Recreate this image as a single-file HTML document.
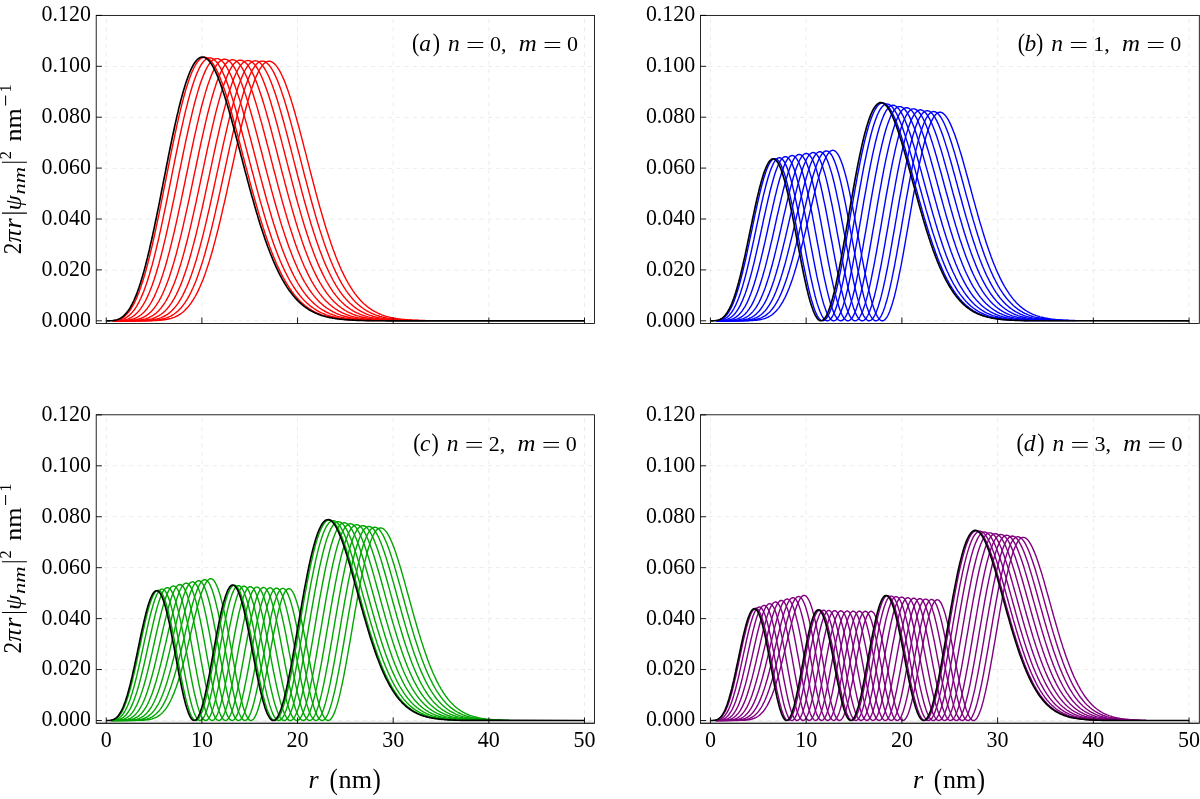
<!DOCTYPE html>
<html><head><meta charset="utf-8"><title>fig</title>
<style>html,body{margin:0;padding:0;background:#fff}svg{display:block;will-change:transform}text{font-family:"Liberation Serif",serif;fill:#000}.i{font-style:italic}</style></head>
<body>
<svg width="1200" height="799" viewBox="0 0 1200 799">
<rect width="1200" height="799" fill="#fff"/>
<g>
<path d="M106.25,19.00V323.45M201.90,19.00V323.45M297.55,19.00V323.45M393.20,19.00V323.45M488.85,19.00V323.45M584.50,19.00V323.45M104.20,270.10H594.50M104.20,219.20H594.50M104.20,168.30H594.50M104.20,117.40H594.50M104.20,66.50H594.50M104.20,320.80H594.50" fill="none" stroke="#e9e9e9" stroke-width="0.85" stroke-dasharray="4.17 4.17"/>
<g fill="none" stroke="#ff0000" stroke-width="1.4" stroke-linejoin="round">
<path d="M112.9,320.6 113.9,320.6 114.9,320.4 115.8,320.3 116.8,320.1 117.7,319.8 118.7,319.5 119.6,319.2 120.6,318.8 121.6,318.3 122.5,317.7 123.5,317.1 124.4,316.4 125.4,315.5 126.3,314.6 127.3,313.6 128.2,312.5 129.2,311.3 130.2,310.0 131.1,308.6 132.1,307.0 133.0,305.3 134.0,303.6 134.9,301.6 135.9,299.6 136.9,297.4 137.8,295.1 138.8,292.7 139.7,290.1 140.7,287.5 141.6,284.6 142.6,281.7 143.6,278.6 144.5,275.4 145.5,272.1 146.4,268.6 147.4,265.1 148.3,261.4 149.3,257.6 150.2,253.7 151.2,249.7 152.2,245.6 153.1,241.4 154.1,237.1 155.0,232.8 156.0,228.3 156.9,223.8 157.9,219.2 158.9,214.6 159.8,209.9 160.8,205.2 161.7,200.4 162.7,195.6 163.6,190.7 164.6,185.9 165.6,181.0 166.5,176.2 167.5,171.3 168.4,166.5 169.4,161.7 170.3,156.9 171.3,152.2 172.2,147.5 173.2,142.8 174.2,138.2 175.1,133.7 176.1,129.3 177.0,124.9 178.0,120.7 178.9,116.5 179.9,112.4 180.9,108.4 181.8,104.6 182.8,100.9 183.7,97.3 184.7,93.8 185.6,90.4 186.6,87.3 187.6,84.2 188.5,81.3 189.5,78.6 190.4,76.0 191.4,73.5 192.3,71.3 193.3,69.2 194.2,67.2 195.2,65.5 196.2,63.9 197.1,62.4 198.1,61.2 199.0,60.1 200.0,59.2 200.9,58.5 201.9,57.9 202.9,57.5 203.8,57.3 204.8,57.3 205.7,57.4 206.7,57.7 207.6,58.2 208.6,58.8 209.6,59.6 210.5,60.5 211.5,61.6 212.4,62.8 213.4,64.2 214.3,65.8 215.3,67.4 216.2,69.2 217.2,71.2 218.2,73.2 219.1,75.4 220.1,77.7 221.0,80.2 222.0,82.7 222.9,85.3 223.9,88.0 224.9,90.9 225.8,93.8 226.8,96.8 227.7,99.8 228.7,103.0 229.6,106.2 230.6,109.5 231.6,112.8 232.5,116.2 233.5,119.7 234.4,123.1 235.4,126.7 236.3,130.2 237.3,133.8 238.2,137.4 239.2,141.0 240.2,144.7 241.1,148.3 242.1,152.0 243.0,155.7 244.0,159.3 244.9,163.0 245.9,166.6 246.9,170.3 247.8,173.9 248.8,177.5 249.7,181.1 250.7,184.7 251.6,188.2 252.6,191.7 253.6,195.1 254.5,198.6 255.5,202.0 256.4,205.3 257.4,208.6 258.3,211.9 259.3,215.1 260.2,218.3 261.2,221.4 262.2,224.4 263.1,227.4 264.1,230.4 265.0,233.3 266.0,236.2 266.9,238.9 267.9,241.7 268.9,244.4 269.8,247.0 270.8,249.5 271.7,252.0 272.7,254.5 273.6,256.9 274.6,259.2 275.6,261.4 276.5,263.7 277.5,265.8 278.4,267.9 279.4,269.9 280.3,271.9 281.3,273.8 282.2,275.7 283.2,277.5 284.2,279.2 285.1,280.9 286.1,282.6 287.0,284.2 288.0,285.7 288.9,287.2 289.9,288.6 290.9,290.0 291.8,291.4 292.8,292.7 293.7,293.9 294.7,295.1 295.6,296.3 296.6,297.4 297.5,298.5 298.5,299.5 299.5,300.5 300.4,301.5 301.4,302.4 302.3,303.3 303.3,304.1 304.2,304.9 305.2,305.7 306.2,306.4 307.1,307.2 308.1,307.8 309.0,308.5 310.0,309.1 310.9,309.7 311.9,310.3 312.9,310.8 313.8,311.4 314.8,311.9 315.7,312.3 316.7,312.8 317.6,313.2 318.6,313.6 319.5,314.0 320.5,314.4 321.5,314.8 322.4,315.1 323.4,315.4 324.3,315.7 325.3,316.0 326.2,316.3 327.2,316.5 328.2,316.8 329.1,317.0 330.1,317.2 331.0,317.4 332.0,317.6 332.9,317.8 333.9,318.0 334.9,318.2 335.8,318.3 336.8,318.5 337.7,318.6 338.7,318.8 339.6,318.9 340.6,319.0 341.5,319.1 342.5,319.2 343.5,319.3 344.4,319.4 345.4,319.5 346.3,319.6 347.3,319.7 348.2,319.7 349.2,319.8 350.2,319.9 351.1,319.9 352.1,320.0 353.0,320.1 354.0,320.1 354.9,320.2 355.9,320.2 356.9,320.2 357.8,320.3 358.8,320.3 359.7,320.3 360.7,320.4 361.6,320.4 362.6,320.4 363.5,320.5 364.5,320.5 365.5,320.5 366.4,320.5 367.4,320.5 368.3,320.6 369.3,320.6"/>
<path d="M112.9,320.7 113.9,320.7 114.9,320.7 115.8,320.6 116.8,320.5 117.7,320.4 118.7,320.2 119.6,320.0 120.6,319.8 121.6,319.6 122.5,319.2 123.5,318.9 124.4,318.5 125.4,318.0 126.3,317.4 127.3,316.8 128.2,316.1 129.2,315.4 130.2,314.5 131.1,313.6 132.1,312.5 133.0,311.4 134.0,310.2 134.9,308.8 135.9,307.4 136.9,305.9 137.8,304.2 138.8,302.4 139.7,300.5 140.7,298.5 141.6,296.4 142.6,294.1 143.6,291.8 144.5,289.3 145.5,286.6 146.4,283.9 147.4,281.0 148.3,278.0 149.3,274.9 150.2,271.7 151.2,268.3 152.2,264.9 153.1,261.3 154.1,257.6 155.0,253.8 156.0,249.9 156.9,245.9 157.9,241.9 158.9,237.7 159.8,233.4 160.8,229.1 161.7,224.7 162.7,220.2 163.6,215.7 164.6,211.1 165.6,206.4 166.5,201.8 167.5,197.0 168.4,192.3 169.4,187.5 170.3,182.8 171.3,178.0 172.2,173.2 173.2,168.4 174.2,163.7 175.1,158.9 176.1,154.2 177.0,149.6 178.0,145.0 178.9,140.4 179.9,135.9 180.9,131.5 181.8,127.2 182.8,122.9 183.7,118.7 184.7,114.6 185.6,110.7 186.6,106.8 187.6,103.0 188.5,99.4 189.5,95.9 190.4,92.5 191.4,89.3 192.3,86.2 193.3,83.2 194.2,80.4 195.2,77.8 196.2,75.3 197.1,72.9 198.1,70.8 199.0,68.7 200.0,66.9 200.9,65.2 201.9,63.7 202.9,62.4 203.8,61.2 204.8,60.3 205.7,59.4 206.7,58.8 207.6,58.3 208.6,58.0 209.6,57.9 210.5,57.9 211.5,58.2 212.4,58.5 213.4,59.1 214.3,59.8 215.3,60.6 216.2,61.6 217.2,62.8 218.2,64.1 219.1,65.6 220.1,67.2 221.0,68.9 222.0,70.8 222.9,72.8 223.9,74.9 224.9,77.2 225.8,79.5 226.8,82.0 227.7,84.6 228.7,87.3 229.6,90.0 230.6,92.9 231.6,95.9 232.5,98.9 233.5,102.0 234.4,105.2 235.4,108.5 236.3,111.8 237.3,115.2 238.2,118.6 239.2,122.0 240.2,125.5 241.1,129.1 242.1,132.7 243.0,136.3 244.0,139.9 244.9,143.5 245.9,147.2 246.9,150.9 247.8,154.5 248.8,158.2 249.7,161.9 250.7,165.5 251.6,169.2 252.6,172.8 253.6,176.4 254.5,180.0 255.5,183.6 256.4,187.2 257.4,190.7 258.3,194.2 259.3,197.6 260.2,201.0 261.2,204.4 262.2,207.7 263.1,211.0 264.1,214.2 265.0,217.4 266.0,220.6 266.9,223.7 267.9,226.7 268.9,229.7 269.8,232.6 270.8,235.5 271.7,238.3 272.7,241.1 273.6,243.8 274.6,246.4 275.6,249.0 276.5,251.5 277.5,254.0 278.4,256.4 279.4,258.7 280.3,261.0 281.3,263.2 282.2,265.4 283.2,267.5 284.2,269.6 285.1,271.6 286.1,273.5 287.0,275.4 288.0,277.2 288.9,279.0 289.9,280.7 290.9,282.3 291.8,283.9 292.8,285.5 293.7,287.0 294.7,288.5 295.6,289.9 296.6,291.2 297.5,292.5 298.5,293.8 299.5,295.0 300.4,296.2 301.4,297.3 302.3,298.4 303.3,299.4 304.2,300.4 305.2,301.4 306.2,302.3 307.1,303.2 308.1,304.1 309.0,304.9 310.0,305.7 310.9,306.4 311.9,307.1 312.9,307.8 313.8,308.5 314.8,309.1 315.7,309.7 316.7,310.3 317.6,310.8 318.6,311.4 319.5,311.9 320.5,312.3 321.5,312.8 322.4,313.2 323.4,313.6 324.3,314.0 325.3,314.4 326.2,314.8 327.2,315.1 328.2,315.4 329.1,315.7 330.1,316.0 331.0,316.3 332.0,316.6 332.9,316.8 333.9,317.0 334.9,317.3 335.8,317.5 336.8,317.7 337.7,317.9 338.7,318.0 339.6,318.2 340.6,318.4 341.5,318.5 342.5,318.7 343.5,318.8 344.4,318.9 345.4,319.0 346.3,319.1 347.3,319.2 348.2,319.3 349.2,319.4 350.2,319.5 351.1,319.6 352.1,319.7 353.0,319.8 354.0,319.8 354.9,319.9 355.9,320.0 356.9,320.0 357.8,320.1 358.8,320.1 359.7,320.2 360.7,320.2 361.6,320.2 362.6,320.3 363.5,320.3 364.5,320.4 365.5,320.4 366.4,320.4 367.4,320.4 368.3,320.5 369.3,320.5 370.2,320.5 371.2,320.5 372.2,320.6 373.1,320.6 374.1,320.6"/>
<path d="M112.9,320.8 114.9,320.8 115.8,320.7 116.8,320.7 117.7,320.7 118.7,320.6 119.6,320.5 120.6,320.5 121.6,320.4 122.5,320.2 123.5,320.1 124.4,319.9 125.4,319.7 126.3,319.4 127.3,319.1 128.2,318.8 129.2,318.4 130.2,318.0 131.1,317.5 132.1,316.9 133.0,316.3 134.0,315.6 134.9,314.9 135.9,314.0 136.9,313.1 137.8,312.1 138.8,311.0 139.7,309.9 140.7,308.6 141.6,307.2 142.6,305.8 143.6,304.2 144.5,302.5 145.5,300.8 146.4,298.9 147.4,296.9 148.3,294.8 149.3,292.5 150.2,290.2 151.2,287.7 152.2,285.2 153.1,282.5 154.1,279.7 155.0,276.7 156.0,273.7 156.9,270.5 157.9,267.3 158.9,263.9 159.8,260.4 160.8,256.8 161.7,253.1 162.7,249.3 163.6,245.4 164.6,241.4 165.6,237.4 166.5,233.2 167.5,229.0 168.4,224.7 169.4,220.3 170.3,215.9 171.3,211.4 172.2,206.8 173.2,202.2 174.2,197.6 175.1,193.0 176.1,188.3 177.0,183.6 178.0,178.9 178.9,174.2 179.9,169.5 180.9,164.8 181.8,160.2 182.8,155.5 183.7,150.9 184.7,146.4 185.6,141.9 186.6,137.4 187.6,133.0 188.5,128.7 189.5,124.5 190.4,120.3 191.4,116.3 192.3,112.3 193.3,108.4 194.2,104.7 195.2,101.0 196.2,97.5 197.1,94.1 198.1,90.9 199.0,87.8 200.0,84.8 200.9,82.0 201.9,79.3 202.9,76.7 203.8,74.4 204.8,72.1 205.7,70.1 206.7,68.2 207.6,66.5 208.6,64.9 209.6,63.5 210.5,62.3 211.5,61.3 212.4,60.4 213.4,59.7 214.3,59.2 215.3,58.8 216.2,58.6 217.2,58.6 218.2,58.7 219.1,59.1 220.1,59.5 221.0,60.2 222.0,61.0 222.9,61.9 223.9,63.0 224.9,64.3 225.8,65.7 226.8,67.3 227.7,69.0 228.7,70.8 229.6,72.7 230.6,74.8 231.6,77.0 232.5,79.3 233.5,81.8 234.4,84.3 235.4,87.0 236.3,89.7 237.3,92.6 238.2,95.5 239.2,98.5 240.2,101.6 241.1,104.8 242.1,108.0 243.0,111.3 244.0,114.7 244.9,118.1 245.9,121.6 246.9,125.1 247.8,128.6 248.8,132.2 249.7,135.8 250.7,139.4 251.6,143.0 252.6,146.7 253.6,150.4 254.5,154.1 255.5,157.7 256.4,161.4 257.4,165.1 258.3,168.8 259.3,172.4 260.2,176.0 261.2,179.6 262.2,183.2 263.1,186.8 264.1,190.3 265.0,193.8 266.0,197.3 266.9,200.7 267.9,204.1 268.9,207.5 269.8,210.8 270.8,214.0 271.7,217.2 272.7,220.4 273.6,223.5 274.6,226.5 275.6,229.5 276.5,232.5 277.5,235.4 278.4,238.2 279.4,241.0 280.3,243.7 281.3,246.3 282.2,248.9 283.2,251.5 284.2,254.0 285.1,256.4 286.1,258.7 287.0,261.0 288.0,263.3 288.9,265.5 289.9,267.6 290.9,269.6 291.8,271.6 292.8,273.6 293.7,275.5 294.7,277.3 295.6,279.1 296.6,280.8 297.5,282.5 298.5,284.1 299.5,285.6 300.4,287.1 301.4,288.6 302.3,290.0 303.3,291.4 304.2,292.7 305.2,293.9 306.2,295.2 307.1,296.3 308.1,297.5 309.0,298.5 310.0,299.6 310.9,300.6 311.9,301.5 312.9,302.5 313.8,303.4 314.8,304.2 315.7,305.0 316.7,305.8 317.6,306.6 318.6,307.3 319.5,308.0 320.5,308.6 321.5,309.3 322.4,309.9 323.4,310.4 324.3,311.0 325.3,311.5 326.2,312.0 327.2,312.5 328.2,312.9 329.1,313.3 330.1,313.8 331.0,314.1 332.0,314.5 332.9,314.9 333.9,315.2 334.9,315.5 335.8,315.8 336.8,316.1 337.7,316.4 338.7,316.6 339.6,316.9 340.6,317.1 341.5,317.3 342.5,317.5 343.5,317.7 344.4,317.9 345.4,318.1 346.3,318.3 347.3,318.4 348.2,318.6 349.2,318.7 350.2,318.8 351.1,319.0 352.1,319.1 353.0,319.2 354.0,319.3 354.9,319.4 355.9,319.5 356.9,319.6 357.8,319.6 358.8,319.7 359.7,319.8 360.7,319.9 361.6,319.9 362.6,320.0 363.5,320.0 364.5,320.1 365.5,320.1 366.4,320.2 367.4,320.2 368.3,320.3 369.3,320.3 370.2,320.3 371.2,320.4 372.2,320.4 373.1,320.4 374.1,320.5 375.0,320.5 376.0,320.5 376.9,320.5 377.9,320.5 378.9,320.6 379.8,320.6"/>
<path d="M112.9,320.8 118.7,320.8 119.6,320.7 120.6,320.7 121.6,320.7 122.5,320.6 123.5,320.6 124.4,320.5 125.4,320.4 126.3,320.3 127.3,320.2 128.2,320.1 129.2,319.9 130.2,319.7 131.1,319.5 132.1,319.3 133.0,319.0 134.0,318.7 134.9,318.3 135.9,317.9 136.9,317.4 137.8,316.9 138.8,316.3 139.7,315.7 140.7,315.0 141.6,314.3 142.6,313.5 143.6,312.6 144.5,311.6 145.5,310.5 146.4,309.4 147.4,308.2 148.3,306.9 149.3,305.5 150.2,304.0 151.2,302.4 152.2,300.7 153.1,298.9 154.1,297.0 155.0,294.9 156.0,292.8 156.9,290.6 157.9,288.2 158.9,285.8 159.8,283.2 160.8,280.5 161.7,277.8 162.7,274.9 163.6,271.9 164.6,268.7 165.6,265.5 166.5,262.2 167.5,258.7 168.4,255.2 169.4,251.6 170.3,247.8 171.3,244.0 172.2,240.1 173.2,236.1 174.2,232.0 175.1,227.8 176.1,223.6 177.0,219.3 178.0,215.0 178.9,210.6 179.9,206.1 180.9,201.6 181.8,197.1 182.8,192.5 183.7,187.9 184.7,183.3 185.6,178.7 186.6,174.0 187.6,169.4 188.5,164.8 189.5,160.2 190.4,155.6 191.4,151.1 192.3,146.6 193.3,142.1 194.2,137.7 195.2,133.4 196.2,129.1 197.1,124.9 198.1,120.8 199.0,116.8 200.0,112.9 200.9,109.0 201.9,105.3 202.9,101.7 203.8,98.2 204.8,94.9 205.7,91.6 206.7,88.5 207.6,85.5 208.6,82.7 209.6,80.0 210.5,77.5 211.5,75.1 212.4,72.9 213.4,70.8 214.3,69.0 215.3,67.2 216.2,65.7 217.2,64.3 218.2,63.0 219.1,62.0 220.1,61.1 221.0,60.4 222.0,59.8 222.9,59.5 223.9,59.3 224.9,59.2 225.8,59.3 226.8,59.6 227.7,60.1 228.7,60.7 229.6,61.5 230.6,62.5 231.6,63.5 232.5,64.8 233.5,66.2 234.4,67.7 235.4,69.4 236.3,71.2 237.3,73.2 238.2,75.2 239.2,77.4 240.2,79.7 241.1,82.2 242.1,84.7 243.0,87.4 244.0,90.1 244.9,92.9 245.9,95.9 246.9,98.9 247.8,102.0 248.8,105.1 249.7,108.4 250.7,111.7 251.6,115.0 252.6,118.5 253.6,121.9 254.5,125.4 255.5,129.0 256.4,132.6 257.4,136.2 258.3,139.8 259.3,143.5 260.2,147.1 261.2,150.8 262.2,154.5 263.1,158.2 264.1,161.9 265.0,165.5 266.0,169.2 266.9,172.9 267.9,176.5 268.9,180.1 269.8,183.7 270.8,187.3 271.7,190.9 272.7,194.4 273.6,197.8 274.6,201.3 275.6,204.7 276.5,208.0 277.5,211.3 278.4,214.6 279.4,217.8 280.3,221.0 281.3,224.1 282.2,227.1 283.2,230.1 284.2,233.1 285.1,236.0 286.1,238.8 287.0,241.6 288.0,244.3 288.9,247.0 289.9,249.6 290.9,252.1 291.8,254.6 292.8,257.0 293.7,259.3 294.7,261.6 295.6,263.9 296.6,266.0 297.5,268.2 298.5,270.2 299.5,272.2 300.4,274.2 301.4,276.0 302.3,277.9 303.3,279.6 304.2,281.3 305.2,283.0 306.2,284.6 307.1,286.2 308.1,287.7 309.0,289.1 310.0,290.5 310.9,291.8 311.9,293.1 312.9,294.4 313.8,295.6 314.8,296.8 315.7,297.9 316.7,299.0 317.6,300.0 318.6,301.0 319.5,301.9 320.5,302.9 321.5,303.7 322.4,304.6 323.4,305.4 324.3,306.2 325.3,306.9 326.2,307.6 327.2,308.3 328.2,308.9 329.1,309.5 330.1,310.1 331.0,310.7 332.0,311.2 332.9,311.8 333.9,312.2 334.9,312.7 335.8,313.2 336.8,313.6 337.7,314.0 338.7,314.4 339.6,314.7 340.6,315.1 341.5,315.4 342.5,315.7 343.5,316.0 344.4,316.3 345.4,316.5 346.3,316.8 347.3,317.0 348.2,317.3 349.2,317.5 350.2,317.7 351.1,317.9 352.1,318.0 353.0,318.2 354.0,318.4 354.9,318.5 355.9,318.7 356.9,318.8 357.8,318.9 358.8,319.0 359.7,319.2 360.7,319.3 361.6,319.4 362.6,319.5 363.5,319.5 364.5,319.6 365.5,319.7 366.4,319.8 367.4,319.8 368.3,319.9 369.3,320.0 370.2,320.0 371.2,320.1 372.2,320.1 373.1,320.2 374.1,320.2 375.0,320.3 376.0,320.3 376.9,320.3 377.9,320.4 378.9,320.4 379.8,320.4 380.8,320.5 381.7,320.5 382.7,320.5 383.6,320.5 384.6,320.5 385.5,320.6 386.5,320.6"/>
<path d="M112.9,320.8 122.5,320.8 123.5,320.7 124.4,320.7 125.4,320.7 126.3,320.7 127.3,320.6 128.2,320.6 129.2,320.5 130.2,320.4 131.1,320.4 132.1,320.3 133.0,320.2 134.0,320.0 134.9,319.9 135.9,319.7 136.9,319.5 137.8,319.3 138.8,319.0 139.7,318.7 140.7,318.4 141.6,318.0 142.6,317.6 143.6,317.1 144.5,316.6 145.5,316.1 146.4,315.4 147.4,314.8 148.3,314.1 149.3,313.3 150.2,312.4 151.2,311.5 152.2,310.5 153.1,309.4 154.1,308.2 155.0,307.0 156.0,305.6 156.9,304.2 157.9,302.7 158.9,301.1 159.8,299.4 160.8,297.6 161.7,295.7 162.7,293.7 163.6,291.5 164.6,289.3 165.6,287.0 166.5,284.6 167.5,282.0 168.4,279.4 169.4,276.7 170.3,273.8 171.3,270.8 172.2,267.8 173.2,264.6 174.2,261.3 175.1,257.9 176.1,254.5 177.0,250.9 178.0,247.2 178.9,243.5 179.9,239.6 180.9,235.7 181.8,231.7 182.8,227.6 183.7,223.4 184.7,219.2 185.6,214.9 186.6,210.6 187.6,206.2 188.5,201.8 189.5,197.3 190.4,192.8 191.4,188.3 192.3,183.8 193.3,179.2 194.2,174.6 195.2,170.1 196.2,165.5 197.1,161.0 198.1,156.5 199.0,152.0 200.0,147.5 200.9,143.1 201.9,138.7 202.9,134.4 203.8,130.2 204.8,126.0 205.7,121.9 206.7,117.9 207.6,114.0 208.6,110.2 209.6,106.5 210.5,102.9 211.5,99.4 212.4,96.0 213.4,92.8 214.3,89.6 215.3,86.7 216.2,83.8 217.2,81.1 218.2,78.6 219.1,76.2 220.1,73.9 221.0,71.8 222.0,69.9 222.9,68.1 223.9,66.5 224.9,65.1 225.8,63.8 226.8,62.7 227.7,61.8 228.7,61.1 229.6,60.5 230.6,60.1 231.6,59.8 232.5,59.7 233.5,59.8 234.4,60.1 235.4,60.5 236.3,61.1 237.3,61.8 238.2,62.7 239.2,63.8 240.2,65.0 241.1,66.3 242.1,67.8 243.0,69.5 244.0,71.3 244.9,73.2 245.9,75.2 246.9,77.4 247.8,79.7 248.8,82.1 249.7,84.6 250.7,87.2 251.6,89.9 252.6,92.7 253.6,95.7 254.5,98.7 255.5,101.7 256.4,104.9 257.4,108.1 258.3,111.4 259.3,114.8 260.2,118.2 261.2,121.6 262.2,125.1 263.1,128.7 264.1,132.3 265.0,135.9 266.0,139.5 266.9,143.2 267.9,146.9 268.9,150.5 269.8,154.2 270.8,157.9 271.7,161.6 272.7,165.3 273.6,169.0 274.6,172.7 275.6,176.3 276.5,180.0 277.5,183.6 278.4,187.2 279.4,190.7 280.3,194.2 281.3,197.7 282.2,201.2 283.2,204.6 284.2,208.0 285.1,211.3 286.1,214.5 287.0,217.8 288.0,221.0 288.9,224.1 289.9,227.1 290.9,230.2 291.8,233.1 292.8,236.0 293.7,238.9 294.7,241.7 295.6,244.4 296.6,247.1 297.5,249.7 298.5,252.2 299.5,254.7 300.4,257.1 301.4,259.5 302.3,261.8 303.3,264.0 304.2,266.2 305.2,268.3 306.2,270.4 307.1,272.4 308.1,274.4 309.0,276.2 310.0,278.1 310.9,279.8 311.9,281.6 312.9,283.2 313.8,284.8 314.8,286.4 315.7,287.9 316.7,289.3 317.6,290.7 318.6,292.1 319.5,293.4 320.5,294.6 321.5,295.8 322.4,297.0 323.4,298.1 324.3,299.2 325.3,300.2 326.2,301.2 327.2,302.1 328.2,303.1 329.1,303.9 330.1,304.8 331.0,305.6 332.0,306.3 332.9,307.1 333.9,307.8 334.9,308.5 335.8,309.1 336.8,309.7 337.7,310.3 338.7,310.9 339.6,311.4 340.6,311.9 341.5,312.4 342.5,312.9 343.5,313.3 344.4,313.7 345.4,314.1 346.3,314.5 347.3,314.8 348.2,315.2 349.2,315.5 350.2,315.8 351.1,316.1 352.1,316.4 353.0,316.6 354.0,316.9 354.9,317.1 355.9,317.3 356.9,317.6 357.8,317.8 358.8,317.9 359.7,318.1 360.7,318.3 361.6,318.4 362.6,318.6 363.5,318.7 364.5,318.9 365.5,319.0 366.4,319.1 367.4,319.2 368.3,319.3 369.3,319.4 370.2,319.5 371.2,319.6 372.2,319.7 373.1,319.7 374.1,319.8 375.0,319.9 376.0,319.9 376.9,320.0 377.9,320.1 378.9,320.1 379.8,320.2 380.8,320.2 381.7,320.2 382.7,320.3 383.6,320.3 384.6,320.4 385.5,320.4 386.5,320.4 387.5,320.4 388.4,320.5 389.4,320.5 390.3,320.5 391.3,320.5 392.2,320.6 393.2,320.6 394.2,320.6"/>
<path d="M112.9,320.8 127.3,320.8 128.2,320.7 129.2,320.7 130.2,320.7 131.1,320.7 132.1,320.6 133.0,320.6 134.0,320.5 134.9,320.5 135.9,320.4 136.9,320.3 137.8,320.2 138.8,320.1 139.7,320.0 140.7,319.9 141.6,319.7 142.6,319.5 143.6,319.3 144.5,319.1 145.5,318.8 146.4,318.5 147.4,318.2 148.3,317.8 149.3,317.4 150.2,316.9 151.2,316.4 152.2,315.9 153.1,315.3 154.1,314.6 155.0,313.9 156.0,313.2 156.9,312.3 157.9,311.4 158.9,310.5 159.8,309.4 160.8,308.3 161.7,307.1 162.7,305.8 163.6,304.5 164.6,303.1 165.6,301.5 166.5,299.9 167.5,298.2 168.4,296.4 169.4,294.5 170.3,292.5 171.3,290.4 172.2,288.1 173.2,285.8 174.2,283.4 175.1,280.9 176.1,278.3 177.0,275.6 178.0,272.7 178.9,269.8 179.9,266.8 180.9,263.6 181.8,260.4 182.8,257.0 183.7,253.6 184.7,250.1 185.6,246.5 186.6,242.8 187.6,239.0 188.5,235.1 189.5,231.1 190.4,227.1 191.4,223.0 192.3,218.9 193.3,214.6 194.2,210.4 195.2,206.0 196.2,201.7 197.1,197.2 198.1,192.8 199.0,188.3 200.0,183.8 200.9,179.3 201.9,174.8 202.9,170.3 203.8,165.8 204.8,161.3 205.7,156.8 206.7,152.4 207.6,148.0 208.6,143.6 209.6,139.3 210.5,135.0 211.5,130.8 212.4,126.7 213.4,122.6 214.3,118.6 215.3,114.7 216.2,110.9 217.2,107.2 218.2,103.6 219.1,100.1 220.1,96.8 221.0,93.5 222.0,90.4 222.9,87.4 223.9,84.6 224.9,81.9 225.8,79.3 226.8,76.9 227.7,74.6 228.7,72.5 229.6,70.6 230.6,68.8 231.6,67.2 232.5,65.7 233.5,64.4 234.4,63.3 235.4,62.4 236.3,61.6 237.3,61.0 238.2,60.5 239.2,60.3 240.2,60.2 241.1,60.2 242.1,60.5 243.0,60.9 244.0,61.4 244.9,62.1 245.9,63.0 246.9,64.0 247.8,65.2 248.8,66.5 249.7,68.0 250.7,69.6 251.6,71.4 252.6,73.3 253.6,75.3 254.5,77.5 255.5,79.7 256.4,82.1 257.4,84.6 258.3,87.3 259.3,90.0 260.2,92.8 261.2,95.7 262.2,98.7 263.1,101.7 264.1,104.9 265.0,108.1 266.0,111.4 266.9,114.8 267.9,118.2 268.9,121.6 269.8,125.1 270.8,128.7 271.7,132.3 272.7,135.9 273.6,139.5 274.6,143.2 275.6,146.9 276.5,150.6 277.5,154.3 278.4,158.0 279.4,161.7 280.3,165.4 281.3,169.1 282.2,172.8 283.2,176.4 284.2,180.1 285.1,183.7 286.1,187.3 287.0,190.8 288.0,194.4 288.9,197.9 289.9,201.3 290.9,204.8 291.8,208.1 292.8,211.5 293.7,214.7 294.7,218.0 295.6,221.2 296.6,224.3 297.5,227.4 298.5,230.4 299.5,233.4 300.4,236.3 301.4,239.1 302.3,241.9 303.3,244.7 304.2,247.3 305.2,250.0 306.2,252.5 307.1,255.0 308.1,257.4 309.0,259.8 310.0,262.1 310.9,264.4 311.9,266.5 312.9,268.7 313.8,270.7 314.8,272.7 315.7,274.7 316.7,276.6 317.6,278.4 318.6,280.2 319.5,281.9 320.5,283.5 321.5,285.1 322.4,286.7 323.4,288.2 324.3,289.6 325.3,291.0 326.2,292.4 327.2,293.7 328.2,294.9 329.1,296.1 330.1,297.3 331.0,298.4 332.0,299.4 332.9,300.5 333.9,301.5 334.9,302.4 335.8,303.3 336.8,304.2 337.7,305.0 338.7,305.8 339.6,306.6 340.6,307.3 341.5,308.0 342.5,308.7 343.5,309.3 344.4,309.9 345.4,310.5 346.3,311.0 347.3,311.6 348.2,312.1 349.2,312.6 350.2,313.0 351.1,313.4 352.1,313.9 353.0,314.3 354.0,314.6 354.9,315.0 355.9,315.3 356.9,315.6 357.8,315.9 358.8,316.2 359.7,316.5 360.7,316.8 361.6,317.0 362.6,317.2 363.5,317.4 364.5,317.6 365.5,317.8 366.4,318.0 367.4,318.2 368.3,318.4 369.3,318.5 370.2,318.7 371.2,318.8 372.2,318.9 373.1,319.0 374.1,319.2 375.0,319.3 376.0,319.4 376.9,319.5 377.9,319.6 378.9,319.6 379.8,319.7 380.8,319.8 381.7,319.9 382.7,319.9 383.6,320.0 384.6,320.0 385.5,320.1 386.5,320.1 387.5,320.2 388.4,320.2 389.4,320.3 390.3,320.3 391.3,320.3 392.2,320.4 393.2,320.4 394.2,320.4 395.1,320.5 396.1,320.5 397.0,320.5 398.0,320.5 398.9,320.6 399.9,320.6 400.9,320.6"/>
<path d="M112.9,320.8 132.1,320.8 133.0,320.7 134.0,320.7 134.9,320.7 135.9,320.7 136.9,320.6 137.8,320.6 138.8,320.6 139.7,320.5 140.7,320.5 141.6,320.4 142.6,320.3 143.6,320.2 144.5,320.1 145.5,320.0 146.4,319.9 147.4,319.7 148.3,319.5 149.3,319.3 150.2,319.1 151.2,318.9 152.2,318.6 153.1,318.3 154.1,318.0 155.0,317.6 156.0,317.2 156.9,316.7 157.9,316.2 158.9,315.7 159.8,315.1 160.8,314.5 161.7,313.8 162.7,313.0 163.6,312.2 164.6,311.4 165.6,310.4 166.5,309.4 167.5,308.4 168.4,307.2 169.4,306.0 170.3,304.7 171.3,303.3 172.2,301.8 173.2,300.2 174.2,298.6 175.1,296.9 176.1,295.0 177.0,293.1 178.0,291.1 178.9,288.9 179.9,286.7 180.9,284.4 181.8,282.0 182.8,279.5 183.7,276.8 184.7,274.1 185.6,271.3 186.6,268.4 187.6,265.3 188.5,262.2 189.5,259.0 190.4,255.7 191.4,252.2 192.3,248.7 193.3,245.1 194.2,241.5 195.2,237.7 196.2,233.8 197.1,229.9 198.1,225.9 199.0,221.9 200.0,217.7 200.9,213.6 201.9,209.3 202.9,205.0 203.8,200.7 204.8,196.3 205.7,191.9 206.7,187.5 207.6,183.0 208.6,178.6 209.6,174.1 210.5,169.6 211.5,165.2 212.4,160.7 213.4,156.3 214.3,151.9 215.3,147.5 216.2,143.2 217.2,138.9 218.2,134.7 219.1,130.5 220.1,126.4 221.0,122.4 222.0,118.4 222.9,114.5 223.9,110.8 224.9,107.1 225.8,103.5 226.8,100.1 227.7,96.7 228.7,93.5 229.6,90.4 230.6,87.5 231.6,84.6 232.5,82.0 233.5,79.4 234.4,77.0 235.4,74.8 236.3,72.7 237.3,70.8 238.2,69.0 239.2,67.4 240.2,66.0 241.1,64.7 242.1,63.6 243.0,62.7 244.0,61.9 244.9,61.3 245.9,60.9 246.9,60.6 247.8,60.5 248.8,60.6 249.7,60.8 250.7,61.2 251.6,61.8 252.6,62.5 253.6,63.4 254.5,64.5 255.5,65.6 256.4,67.0 257.4,68.5 258.3,70.1 259.3,71.9 260.2,73.8 261.2,75.8 262.2,78.0 263.1,80.3 264.1,82.7 265.0,85.2 266.0,87.8 266.9,90.5 267.9,93.3 268.9,96.3 269.8,99.3 270.8,102.3 271.7,105.5 272.7,108.7 273.6,112.0 274.6,115.4 275.6,118.8 276.5,122.3 277.5,125.8 278.4,129.4 279.4,133.0 280.3,136.6 281.3,140.2 282.2,143.9 283.2,147.6 284.2,151.3 285.1,155.0 286.1,158.7 287.0,162.4 288.0,166.1 288.9,169.8 289.9,173.5 290.9,177.2 291.8,180.8 292.8,184.5 293.7,188.1 294.7,191.6 295.6,195.2 296.6,198.7 297.5,202.1 298.5,205.6 299.5,208.9 300.4,212.3 301.4,215.6 302.3,218.8 303.3,222.0 304.2,225.1 305.2,228.2 306.2,231.2 307.1,234.2 308.1,237.1 309.0,239.9 310.0,242.7 310.9,245.5 311.9,248.1 312.9,250.7 313.8,253.3 314.8,255.8 315.7,258.2 316.7,260.5 317.6,262.8 318.6,265.1 319.5,267.2 320.5,269.4 321.5,271.4 322.4,273.4 323.4,275.3 324.3,277.2 325.3,279.0 326.2,280.8 327.2,282.5 328.2,284.1 329.1,285.7 330.1,287.3 331.0,288.7 332.0,290.2 332.9,291.6 333.9,292.9 334.9,294.2 335.8,295.4 336.8,296.6 337.7,297.7 338.7,298.8 339.6,299.9 340.6,300.9 341.5,301.9 342.5,302.8 343.5,303.7 344.4,304.6 345.4,305.4 346.3,306.2 347.3,306.9 348.2,307.6 349.2,308.3 350.2,309.0 351.1,309.6 352.1,310.2 353.0,310.8 354.0,311.3 354.9,311.8 355.9,312.3 356.9,312.8 357.8,313.2 358.8,313.7 359.7,314.1 360.7,314.5 361.6,314.8 362.6,315.2 363.5,315.5 364.5,315.8 365.5,316.1 366.4,316.4 367.4,316.6 368.3,316.9 369.3,317.1 370.2,317.4 371.2,317.6 372.2,317.8 373.1,318.0 374.1,318.1 375.0,318.3 376.0,318.5 376.9,318.6 377.9,318.7 378.9,318.9 379.8,319.0 380.8,319.1 381.7,319.2 382.7,319.3 383.6,319.4 384.6,319.5 385.5,319.6 386.5,319.7 387.5,319.8 388.4,319.8 389.4,319.9 390.3,320.0 391.3,320.0 392.2,320.1 393.2,320.1 394.2,320.2 395.1,320.2 396.1,320.3 397.0,320.3 398.0,320.3 398.9,320.4 399.9,320.4 400.9,320.4 401.8,320.5 402.8,320.5 403.7,320.5 404.7,320.5 405.6,320.5 406.6,320.6 407.5,320.6"/>
<path d="M112.9,320.8 136.9,320.8 137.8,320.7 138.8,320.7 139.7,320.7 140.7,320.7 141.6,320.7 142.6,320.6 143.6,320.6 144.5,320.5 145.5,320.5 146.4,320.4 147.4,320.4 148.3,320.3 149.3,320.2 150.2,320.1 151.2,320.0 152.2,319.9 153.1,319.7 154.1,319.6 155.0,319.4 156.0,319.2 156.9,319.0 157.9,318.7 158.9,318.4 159.8,318.1 160.8,317.8 161.7,317.4 162.7,317.0 163.6,316.5 164.6,316.0 165.6,315.5 166.5,314.9 167.5,314.3 168.4,313.6 169.4,312.9 170.3,312.1 171.3,311.2 172.2,310.3 173.2,309.3 174.2,308.3 175.1,307.1 176.1,305.9 177.0,304.7 178.0,303.3 178.9,301.9 179.9,300.3 180.9,298.7 181.8,297.0 182.8,295.3 183.7,293.4 184.7,291.4 185.6,289.3 186.6,287.2 187.6,284.9 188.5,282.6 189.5,280.1 190.4,277.6 191.4,274.9 192.3,272.2 193.3,269.3 194.2,266.4 195.2,263.3 196.2,260.2 197.1,256.9 198.1,253.6 199.0,250.2 200.0,246.7 200.9,243.1 201.9,239.4 202.9,235.6 203.8,231.8 204.8,227.9 205.7,223.9 206.7,219.8 207.6,215.7 208.6,211.5 209.6,207.3 210.5,203.0 211.5,198.7 212.4,194.4 213.4,190.0 214.3,185.6 215.3,181.2 216.2,176.8 217.2,172.3 218.2,167.9 219.1,163.5 220.1,159.1 221.0,154.7 222.0,150.3 222.9,146.0 223.9,141.7 224.9,137.4 225.8,133.3 226.8,129.1 227.7,125.1 228.7,121.1 229.6,117.2 230.6,113.4 231.6,109.7 232.5,106.1 233.5,102.5 234.4,99.1 235.4,95.9 236.3,92.7 237.3,89.7 238.2,86.8 239.2,84.0 240.2,81.4 241.1,78.9 242.1,76.6 243.0,74.4 244.0,72.3 244.9,70.5 245.9,68.8 246.9,67.2 247.8,65.8 248.8,64.6 249.7,63.6 250.7,62.7 251.6,62.0 252.6,61.4 253.6,61.1 254.5,60.9 255.5,60.8 256.4,60.9 257.4,61.2 258.3,61.7 259.3,62.3 260.2,63.1 261.2,64.0 262.2,65.1 263.1,66.4 264.1,67.7 265.0,69.3 266.0,71.0 266.9,72.8 267.9,74.7 268.9,76.8 269.8,79.0 270.8,81.3 271.7,83.8 272.7,86.3 273.6,89.0 274.6,91.7 275.6,94.6 276.5,97.5 277.5,100.6 278.4,103.7 279.4,106.9 280.3,110.1 281.3,113.5 282.2,116.8 283.2,120.3 284.2,123.8 285.1,127.3 286.1,130.9 287.0,134.5 288.0,138.1 288.9,141.8 289.9,145.5 290.9,149.2 291.8,152.9 292.8,156.6 293.7,160.4 294.7,164.1 295.6,167.8 296.6,171.5 297.5,175.2 298.5,178.8 299.5,182.5 300.4,186.1 301.4,189.7 302.3,193.3 303.3,196.8 304.2,200.3 305.2,203.8 306.2,207.2 307.1,210.5 308.1,213.9 309.0,217.1 310.0,220.3 310.9,223.5 311.9,226.6 312.9,229.7 313.8,232.7 314.8,235.6 315.7,238.5 316.7,241.4 317.6,244.1 318.6,246.8 319.5,249.5 320.5,252.1 321.5,254.6 322.4,257.0 323.4,259.4 324.3,261.8 325.3,264.1 326.2,266.3 327.2,268.4 328.2,270.5 329.1,272.5 330.1,274.5 331.0,276.4 332.0,278.2 332.9,280.0 333.9,281.8 334.9,283.4 335.8,285.1 336.8,286.6 337.7,288.1 338.7,289.6 339.6,291.0 340.6,292.4 341.5,293.7 342.5,294.9 343.5,296.2 344.4,297.3 345.4,298.4 346.3,299.5 347.3,300.5 348.2,301.5 349.2,302.5 350.2,303.4 351.1,304.3 352.1,305.1 353.0,305.9 354.0,306.7 354.9,307.4 355.9,308.1 356.9,308.8 357.8,309.4 358.8,310.0 359.7,310.6 360.7,311.2 361.6,311.7 362.6,312.2 363.5,312.7 364.5,313.1 365.5,313.6 366.4,314.0 367.4,314.4 368.3,314.7 369.3,315.1 370.2,315.4 371.2,315.7 372.2,316.0 373.1,316.3 374.1,316.6 375.0,316.8 376.0,317.1 376.9,317.3 377.9,317.5 378.9,317.7 379.8,317.9 380.8,318.1 381.7,318.3 382.7,318.4 383.6,318.6 384.6,318.7 385.5,318.9 386.5,319.0 387.5,319.1 388.4,319.2 389.4,319.3 390.3,319.4 391.3,319.5 392.2,319.6 393.2,319.7 394.2,319.8 395.1,319.8 396.1,319.9 397.0,320.0 398.0,320.0 398.9,320.1 399.9,320.1 400.9,320.2 401.8,320.2 402.8,320.3 403.7,320.3 404.7,320.3 405.6,320.4 406.6,320.4 407.5,320.4 408.5,320.5 409.5,320.5 410.4,320.5 411.4,320.5 412.3,320.5 413.3,320.6 414.2,320.6"/>
<path d="M112.9,320.8 141.6,320.8 142.6,320.7 143.6,320.7 144.5,320.7 145.5,320.7 146.4,320.7 147.4,320.6 148.3,320.6 149.3,320.6 150.2,320.5 151.2,320.5 152.2,320.4 153.1,320.4 154.1,320.3 155.0,320.2 156.0,320.1 156.9,320.0 157.9,319.9 158.9,319.7 159.8,319.6 160.8,319.4 161.7,319.2 162.7,319.0 163.6,318.8 164.6,318.5 165.6,318.2 166.5,317.9 167.5,317.5 168.4,317.2 169.4,316.7 170.3,316.3 171.3,315.8 172.2,315.2 173.2,314.7 174.2,314.0 175.1,313.3 176.1,312.6 177.0,311.8 178.0,310.9 178.9,310.0 179.9,309.0 180.9,308.0 181.8,306.9 182.8,305.7 183.7,304.4 184.7,303.1 185.6,301.7 186.6,300.2 187.6,298.6 188.5,296.9 189.5,295.1 190.4,293.3 191.4,291.4 192.3,289.3 193.3,287.2 194.2,285.0 195.2,282.7 196.2,280.3 197.1,277.7 198.1,275.1 199.0,272.4 200.0,269.6 200.9,266.7 201.9,263.7 202.9,260.6 203.8,257.4 204.8,254.2 205.7,250.8 206.7,247.3 207.6,243.8 208.6,240.2 209.6,236.5 210.5,232.7 211.5,228.8 212.4,224.9 213.4,220.9 214.3,216.8 215.3,212.7 216.2,208.5 217.2,204.3 218.2,200.0 219.1,195.7 220.1,191.4 221.0,187.1 222.0,182.7 222.9,178.3 223.9,173.9 224.9,169.5 225.8,165.1 226.8,160.7 227.7,156.3 228.7,152.0 229.6,147.6 230.6,143.4 231.6,139.1 232.5,134.9 233.5,130.8 234.4,126.8 235.4,122.8 236.3,118.9 237.3,115.0 238.2,111.3 239.2,107.6 240.2,104.1 241.1,100.7 242.1,97.4 243.0,94.2 244.0,91.1 244.9,88.1 245.9,85.3 246.9,82.6 247.8,80.1 248.8,77.7 249.7,75.5 250.7,73.4 251.6,71.5 252.6,69.7 253.6,68.1 254.5,66.6 255.5,65.4 256.4,64.2 257.4,63.3 258.3,62.5 259.3,61.9 260.2,61.4 261.2,61.2 262.2,61.1 263.1,61.1 264.1,61.3 265.0,61.7 266.0,62.3 266.9,63.0 267.9,63.9 268.9,64.9 269.8,66.1 270.8,67.4 271.7,68.9 272.7,70.5 273.6,72.2 274.6,74.1 275.6,76.2 276.5,78.3 277.5,80.6 278.4,83.0 279.4,85.5 280.3,88.1 281.3,90.8 282.2,93.6 283.2,96.5 284.2,99.5 285.1,102.6 286.1,105.8 287.0,109.0 288.0,112.3 288.9,115.7 289.9,119.1 290.9,122.6 291.8,126.1 292.8,129.7 293.7,133.3 294.7,136.9 295.6,140.6 296.6,144.3 297.5,148.0 298.5,151.7 299.5,155.4 300.4,159.2 301.4,162.9 302.3,166.6 303.3,170.3 304.2,174.0 305.2,177.7 306.2,181.4 307.1,185.0 308.1,188.6 309.0,192.2 310.0,195.8 310.9,199.3 311.9,202.8 312.9,206.2 313.8,209.6 314.8,212.9 315.7,216.2 316.7,219.5 317.6,222.7 318.6,225.8 319.5,228.9 320.5,231.9 321.5,234.9 322.4,237.8 323.4,240.6 324.3,243.4 325.3,246.2 326.2,248.8 327.2,251.4 328.2,254.0 329.1,256.5 330.1,258.9 331.0,261.3 332.0,263.5 332.9,265.8 333.9,268.0 334.9,270.1 335.8,272.1 336.8,274.1 337.7,276.0 338.7,277.9 339.6,279.7 340.6,281.4 341.5,283.1 342.5,284.8 343.5,286.4 344.4,287.9 345.4,289.4 346.3,290.8 347.3,292.2 348.2,293.5 349.2,294.7 350.2,296.0 351.1,297.1 352.1,298.3 353.0,299.4 354.0,300.4 354.9,301.4 355.9,302.4 356.9,303.3 357.8,304.2 358.8,305.0 359.7,305.8 360.7,306.6 361.6,307.3 362.6,308.0 363.5,308.7 364.5,309.4 365.5,310.0 366.4,310.6 367.4,311.1 368.3,311.7 369.3,312.2 370.2,312.6 371.2,313.1 372.2,313.5 373.1,314.0 374.1,314.3 375.0,314.7 376.0,315.1 376.9,315.4 377.9,315.7 378.9,316.0 379.8,316.3 380.8,316.6 381.7,316.8 382.7,317.1 383.6,317.3 384.6,317.5 385.5,317.7 386.5,317.9 387.5,318.1 388.4,318.3 389.4,318.4 390.3,318.6 391.3,318.7 392.2,318.9 393.2,319.0 394.2,319.1 395.1,319.2 396.1,319.3 397.0,319.4 398.0,319.5 398.9,319.6 399.9,319.7 400.9,319.8 401.8,319.8 402.8,319.9 403.7,320.0 404.7,320.0 405.6,320.1 406.6,320.1 407.5,320.2 408.5,320.2 409.5,320.3 410.4,320.3 411.4,320.3 412.3,320.4 413.3,320.4 414.2,320.4 415.2,320.5 416.2,320.5 417.1,320.5 418.1,320.5 419.0,320.6 420.0,320.6 420.9,320.6"/>
<path d="M112.9,320.8 146.4,320.8 147.4,320.7 148.3,320.7 149.3,320.7 150.2,320.7 151.2,320.7 152.2,320.7 153.1,320.6 154.1,320.6 155.0,320.6 156.0,320.5 156.9,320.5 157.9,320.4 158.9,320.3 159.8,320.3 160.8,320.2 161.7,320.1 162.7,320.0 163.6,319.9 164.6,319.7 165.6,319.6 166.5,319.4 167.5,319.2 168.4,319.0 169.4,318.8 170.3,318.6 171.3,318.3 172.2,318.0 173.2,317.6 174.2,317.3 175.1,316.9 176.1,316.4 177.0,316.0 178.0,315.5 178.9,314.9 179.9,314.3 180.9,313.7 181.8,313.0 182.8,312.2 183.7,311.4 184.7,310.5 185.6,309.6 186.6,308.6 187.6,307.6 188.5,306.4 189.5,305.2 190.4,304.0 191.4,302.6 192.3,301.2 193.3,299.7 194.2,298.1 195.2,296.5 196.2,294.7 197.1,292.9 198.1,290.9 199.0,288.9 200.0,286.8 200.9,284.6 201.9,282.3 202.9,279.9 203.8,277.4 204.8,274.8 205.7,272.1 206.7,269.3 207.6,266.4 208.6,263.5 209.6,260.4 210.5,257.2 211.5,254.0 212.4,250.7 213.4,247.2 214.3,243.7 215.3,240.1 216.2,236.4 217.2,232.7 218.2,228.9 219.1,225.0 220.1,221.0 221.0,217.0 222.0,212.9 222.9,208.7 223.9,204.6 224.9,200.3 225.8,196.1 226.8,191.8 227.7,187.4 228.7,183.1 229.6,178.7 230.6,174.3 231.6,169.9 232.5,165.6 233.5,161.2 234.4,156.9 235.4,152.5 236.3,148.2 237.3,144.0 238.2,139.7 239.2,135.6 240.2,131.5 241.1,127.4 242.1,123.4 243.0,119.5 244.0,115.7 244.9,112.0 245.9,108.3 246.9,104.8 247.8,101.3 248.8,98.0 249.7,94.8 250.7,91.7 251.6,88.8 252.6,85.9 253.6,83.2 254.5,80.7 255.5,78.3 256.4,76.0 257.4,73.9 258.3,72.0 259.3,70.2 260.2,68.5 261.2,67.1 262.2,65.8 263.1,64.6 264.1,63.6 265.0,62.8 266.0,62.2 266.9,61.7 267.9,61.4 268.9,61.3 269.8,61.3 270.8,61.5 271.7,61.9 272.7,62.4 273.6,63.1 274.6,63.9 275.6,64.9 276.5,66.1 277.5,67.4 278.4,68.8 279.4,70.4 280.3,72.1 281.3,74.0 282.2,76.0 283.2,78.1 284.2,80.4 285.1,82.8 286.1,85.3 287.0,87.9 288.0,90.6 288.9,93.4 289.9,96.3 290.9,99.3 291.8,102.4 292.8,105.5 293.7,108.7 294.7,112.0 295.6,115.4 296.6,118.8 297.5,122.3 298.5,125.8 299.5,129.4 300.4,133.0 301.4,136.6 302.3,140.3 303.3,144.0 304.2,147.7 305.2,151.4 306.2,155.1 307.1,158.9 308.1,162.6 309.0,166.3 310.0,170.1 310.9,173.8 311.9,177.5 312.9,181.1 313.8,184.8 314.8,188.4 315.7,192.0 316.7,195.6 317.6,199.1 318.6,202.6 319.5,206.0 320.5,209.4 321.5,212.8 322.4,216.1 323.4,219.3 324.3,222.5 325.3,225.7 326.2,228.8 327.2,231.8 328.2,234.8 329.1,237.7 330.1,240.6 331.0,243.4 332.0,246.1 332.9,248.8 333.9,251.4 334.9,254.0 335.8,256.5 336.8,258.9 337.7,261.3 338.7,263.6 339.6,265.8 340.6,268.0 341.5,270.1 342.5,272.2 343.5,274.1 344.4,276.1 345.4,277.9 346.3,279.8 347.3,281.5 348.2,283.2 349.2,284.9 350.2,286.4 351.1,288.0 352.1,289.4 353.0,290.9 354.0,292.2 354.9,293.6 355.9,294.8 356.9,296.1 357.8,297.2 358.8,298.4 359.7,299.5 360.7,300.5 361.6,301.5 362.6,302.5 363.5,303.4 364.5,304.3 365.5,305.1 366.4,305.9 367.4,306.7 368.3,307.4 369.3,308.1 370.2,308.8 371.2,309.4 372.2,310.1 373.1,310.6 374.1,311.2 375.0,311.7 376.0,312.2 376.9,312.7 377.9,313.2 378.9,313.6 379.8,314.0 380.8,314.4 381.7,314.8 382.7,315.1 383.6,315.5 384.6,315.8 385.5,316.1 386.5,316.4 387.5,316.6 388.4,316.9 389.4,317.1 390.3,317.4 391.3,317.6 392.2,317.8 393.2,318.0 394.2,318.1 395.1,318.3 396.1,318.5 397.0,318.6 398.0,318.8 398.9,318.9 399.9,319.0 400.9,319.1 401.8,319.3 402.8,319.4 403.7,319.5 404.7,319.5 405.6,319.6 406.6,319.7 407.5,319.8 408.5,319.9 409.5,319.9 410.4,320.0 411.4,320.0 412.3,320.1 413.3,320.1 414.2,320.2 415.2,320.2 416.2,320.3 417.1,320.3 418.1,320.3 419.0,320.4 420.0,320.4 420.9,320.4 421.9,320.5 422.9,320.5 423.8,320.5 424.8,320.5 425.7,320.6 426.7,320.6 427.6,320.6"/>
</g>
<path d="M106.2,320.8 110.1,320.8 111.0,320.7 112.0,320.7 112.9,320.6 113.9,320.4 114.9,320.3 115.8,320.1 116.8,319.8 117.7,319.5 118.7,319.1 119.6,318.7 120.6,318.1 121.6,317.5 122.5,316.8 123.5,316.1 124.4,315.2 125.4,314.2 126.3,313.1 127.3,311.9 128.2,310.6 129.2,309.2 130.2,307.7 131.1,306.0 132.1,304.2 133.0,302.3 134.0,300.3 134.9,298.1 135.9,295.8 136.9,293.4 137.8,290.8 138.8,288.1 139.7,285.2 140.7,282.3 141.6,279.2 142.6,276.0 143.6,272.6 144.5,269.1 145.5,265.5 146.4,261.8 147.4,258.0 148.3,254.1 149.3,250.0 150.2,245.9 151.2,241.6 152.2,237.3 153.1,232.9 154.1,228.4 155.0,223.9 156.0,219.3 156.9,214.6 157.9,209.8 158.9,205.1 159.8,200.3 160.8,195.4 161.7,190.5 162.7,185.7 163.6,180.8 164.6,175.9 165.6,171.0 166.5,166.2 167.5,161.3 168.4,156.5 169.4,151.7 170.3,147.0 171.3,142.4 172.2,137.8 173.2,133.2 174.2,128.8 175.1,124.4 176.1,120.1 177.0,115.9 178.0,111.9 178.9,107.9 179.9,104.0 180.9,100.3 181.8,96.7 182.8,93.2 183.7,89.9 184.7,86.7 185.6,83.7 186.6,80.8 187.6,78.0 188.5,75.5 189.5,73.0 190.4,70.8 191.4,68.7 192.3,66.8 193.3,65.0 194.2,63.4 195.2,62.0 196.2,60.8 197.1,59.7 198.1,58.9 199.0,58.2 200.0,57.6 200.9,57.2 201.9,57.1 202.9,57.0 203.8,57.2 204.8,57.5 205.7,58.0 206.7,58.6 207.6,59.4 208.6,60.4 209.6,61.5 210.5,62.7 211.5,64.1 212.4,65.7 213.4,67.4 214.3,69.2 215.3,71.2 216.2,73.2 217.2,75.4 218.2,77.7 219.1,80.2 220.1,82.7 221.0,85.4 222.0,88.1 222.9,90.9 223.9,93.9 224.9,96.9 225.8,99.9 226.8,103.1 227.7,106.3 228.7,109.6 229.6,112.9 230.6,116.3 231.6,119.8 232.5,123.3 233.5,126.8 234.4,130.3 235.4,133.9 236.3,137.5 237.3,141.2 238.2,144.8 239.2,148.5 240.2,152.1 241.1,155.8 242.1,159.4 243.0,163.1 244.0,166.8 244.9,170.4 245.9,174.0 246.9,177.6 247.8,181.2 248.8,184.7 249.7,188.3 250.7,191.8 251.6,195.2 252.6,198.6 253.6,202.0 254.5,205.4 255.5,208.7 256.4,211.9 257.4,215.1 258.3,218.3 259.3,221.4 260.2,224.5 261.2,227.5 262.2,230.4 263.1,233.3 264.1,236.2 265.0,238.9 266.0,241.7 266.9,244.3 267.9,247.0 268.9,249.5 269.8,252.0 270.8,254.5 271.7,256.8 272.7,259.2 273.6,261.4 274.6,263.6 275.6,265.8 276.5,267.8 277.5,269.9 278.4,271.9 279.4,273.8 280.3,275.6 281.3,277.4 282.2,279.2 283.2,280.9 284.2,282.5 285.1,284.1 286.1,285.6 287.0,287.1 288.0,288.6 288.9,290.0 289.9,291.3 290.9,292.6 291.8,293.8 292.8,295.1 293.7,296.2 294.7,297.3 295.6,298.4 296.6,299.4 297.5,300.4 298.5,301.4 299.5,302.3 300.4,303.2 301.4,304.0 302.3,304.9 303.3,305.6 304.2,306.4 305.2,307.1 306.2,307.8 307.1,308.4 308.1,309.1 309.0,309.7 310.0,310.2 310.9,310.8 311.9,311.3 312.9,311.8 313.8,312.3 314.8,312.7 315.7,313.2 316.7,313.6 317.6,314.0 318.6,314.4 319.5,314.7 320.5,315.1 321.5,315.4 322.4,315.7 323.4,316.0 324.3,316.2 325.3,316.5 326.2,316.8 327.2,317.0 328.2,317.2 329.1,317.4 330.1,317.6 331.0,317.8 332.0,318.0 332.9,318.2 333.9,318.3 334.9,318.5 335.8,318.6 336.8,318.7 337.7,318.9 338.7,319.0 339.6,319.1 340.6,319.2 341.5,319.3 342.5,319.4 343.5,319.5 344.4,319.6 345.4,319.7 346.3,319.7 347.3,319.8 348.2,319.9 349.2,319.9 350.2,320.0 351.1,320.0 352.1,320.1 353.0,320.1 354.0,320.2 354.9,320.2 355.9,320.3 356.9,320.3 357.8,320.3 358.8,320.4 359.7,320.4 360.7,320.4 361.6,320.5 362.6,320.5 363.5,320.5 364.5,320.5 365.5,320.5 366.4,320.6 367.4,320.6 368.3,320.6 369.3,320.6 370.2,320.6 371.2,320.6 372.2,320.7 373.1,320.7 374.1,320.7 375.0,320.7 376.0,320.7 376.9,320.7 377.9,320.7 378.9,320.7 379.8,320.7 380.8,320.7 381.7,320.7 382.7,320.7 383.6,320.7 384.6,320.7 385.5,320.8 584.5,320.8" fill="none" stroke="#000" stroke-width="1.65" stroke-linejoin="round"/>
<rect x="96.20" y="15.40" width="498.30" height="308.05" fill="none" stroke="#000" stroke-width="0.85"/>
<path d="M106.25,323.45v-6M201.90,323.45v-6M297.55,323.45v-6M393.20,323.45v-6M488.85,323.45v-6M584.50,323.45v-6M96.20,320.80h5.7M96.20,269.90h5.7M96.20,219.00h5.7M96.20,168.10h5.7M96.20,117.20h5.7M96.20,66.30h5.7M96.20,15.40h5.7" fill="none" stroke="#000" stroke-width="0.9"/>
<text x="41.60" y="326.70" font-size="24" textLength="49.3" lengthAdjust="spacingAndGlyphs">0.000</text>
<text x="41.60" y="275.80" font-size="24" textLength="49.3" lengthAdjust="spacingAndGlyphs">0.020</text>
<text x="41.60" y="224.90" font-size="24" textLength="49.3" lengthAdjust="spacingAndGlyphs">0.040</text>
<text x="41.60" y="174.00" font-size="24" textLength="49.3" lengthAdjust="spacingAndGlyphs">0.060</text>
<text x="41.60" y="123.10" font-size="24" textLength="49.3" lengthAdjust="spacingAndGlyphs">0.080</text>
<text x="41.60" y="72.20" font-size="24" textLength="49.3" lengthAdjust="spacingAndGlyphs">0.100</text>
<text x="41.60" y="21.30" font-size="24" textLength="49.3" lengthAdjust="spacingAndGlyphs">0.120</text>
<g font-size="22"><text x="412.0" y="51.3" font-size="25.6" textLength="7.3" lengthAdjust="spacingAndGlyphs">(</text><text class="i" x="419.2" y="51.3" font-size="23.5">a</text><text x="432.8" y="51.3" font-size="25.6" textLength="7.3" lengthAdjust="spacingAndGlyphs">)</text><text class="i" x="448.0" y="51.3" font-size="23.5">n</text><text x="490.0" y="51.3">0,</text><text class="i" x="518.8" y="51.3" font-size="23.5" textLength="18.0" lengthAdjust="spacingAndGlyphs">m</text><text x="567.0" y="51.3">0</text><path d="M467.6,42.5h15.6m-15.6,4.9h15.6M544.6,42.5h15.6m-15.6,4.9h15.6" stroke="#000" stroke-width="1.05" fill="none"/></g>
<g transform="translate(20.6,253.75) rotate(-90)" font-size="24"><text x="-0.4" y="0" font-size="25.5" textLength="11.6" lengthAdjust="spacingAndGlyphs">2</text><text class="i" x="11.3" y="0" font-size="26">π</text><text class="i" x="25.3" y="0" font-size="26">r</text><text class="i" x="43.5" y="0">ψ</text><text class="i" x="59.2" y="4.4" font-size="17" textLength="27.6" lengthAdjust="spacingAndGlyphs">nm</text><text x="94.6" y="-10" font-size="16.5">2</text><text x="112.3" y="0" textLength="33.4" lengthAdjust="spacingAndGlyphs">nm</text><text x="161.3" y="-10" font-size="16.5">1</text><path d="M40.65,-18.7V6.3M91.5,-18.7V6.3M148.2,-15h10" stroke="#000" stroke-width="1.05" fill="none"/></g>
</g>
<g>
<path d="M710.45,19.00V323.45M806.17,19.00V323.45M901.89,19.00V323.45M997.61,19.00V323.45M1093.33,19.00V323.45M1189.05,19.00V323.45M708.50,270.10H1199.30M708.50,219.20H1199.30M708.50,168.30H1199.30M708.50,117.40H1199.30M708.50,66.50H1199.30M708.50,320.80H1199.30" fill="none" stroke="#e9e9e9" stroke-width="0.85" stroke-dasharray="4.17 4.17"/>
<g fill="none" stroke="#0000ff" stroke-width="1.4" stroke-linejoin="round">
<path d="M716.5,320.6 717.5,320.5 718.5,320.3 719.4,320.0 720.4,319.7 721.3,319.2 722.3,318.7 723.2,318.1 724.2,317.3 725.2,316.5 726.1,315.5 727.1,314.3 728.0,313.0 729.0,311.6 729.9,309.9 730.9,308.1 731.9,306.2 732.8,304.0 733.8,301.7 734.7,299.2 735.7,296.6 736.6,293.7 737.6,290.7 738.6,287.5 739.5,284.1 740.5,280.6 741.4,276.9 742.4,273.1 743.3,269.1 744.3,265.0 745.3,260.8 746.2,256.5 747.2,252.2 748.1,247.7 749.1,243.2 750.0,238.6 751.0,234.0 752.0,229.4 752.9,224.8 753.9,220.2 754.8,215.7 755.8,211.2 756.7,206.8 757.7,202.4 758.7,198.2 759.6,194.2 760.6,190.2 761.5,186.5 762.5,182.9 763.4,179.5 764.4,176.3 765.4,173.3 766.3,170.6 767.3,168.1 768.2,165.9 769.2,164.0 770.1,162.3 771.1,161.0 772.1,159.9 773.0,159.2 774.0,158.7 774.9,158.6 775.9,158.8 776.8,159.2 777.8,160.1 778.8,161.2 779.7,162.6 780.7,164.3 781.6,166.4 782.6,168.7 783.5,171.3 784.5,174.1 785.5,177.3 786.4,180.7 787.4,184.3 788.3,188.1 789.3,192.2 790.2,196.4 791.2,200.8 792.2,205.4 793.1,210.1 794.1,214.9 795.0,219.8 796.0,224.8 796.9,229.9 797.9,235.0 798.9,240.1 799.8,245.2 800.8,250.3 801.7,255.3 802.7,260.3 803.6,265.2 804.6,270.0 805.6,274.7 806.5,279.2 807.5,283.6 808.4,287.8 809.4,291.8 810.3,295.6 811.3,299.2 812.3,302.5 813.2,305.6 814.2,308.4 815.1,311.0 816.1,313.3 817.0,315.3 818.0,317.0 819.0,318.4 819.9,319.4 820.9,320.2M822.8,320.8 823.7,320.6 824.7,320.1 825.7,319.3 826.6,318.2 827.6,316.7 828.5,315.0 829.5,313.0 830.4,310.6 831.4,308.0 832.4,305.2 833.3,302.0 834.3,298.6 835.2,295.0 836.2,291.1 837.1,287.0 838.1,282.7 839.1,278.2 840.0,273.6 841.0,268.8 841.9,263.8 842.9,258.7 843.8,253.5 844.8,248.2 845.8,242.8 846.7,237.3 847.7,231.8 848.6,226.2 849.6,220.7 850.5,215.1 851.5,209.5 852.5,204.0 853.4,198.5 854.4,193.0 855.3,187.6 856.3,182.3 857.2,177.1 858.2,172.0 859.2,167.0 860.1,162.2 861.1,157.5 862.0,152.9 863.0,148.5 863.9,144.3 864.9,140.2 865.9,136.4 866.8,132.7 867.8,129.2 868.7,125.9 869.7,122.9 870.6,120.0 871.6,117.4 872.5,115.0 873.5,112.8 874.5,110.8 875.4,109.0 876.4,107.5 877.3,106.2 878.3,105.1 879.2,104.3 880.2,103.6 881.2,103.2 882.1,103.0 883.1,103.0 884.0,103.2 885.0,103.6 885.9,104.2 886.9,105.1 887.9,106.0 888.8,107.2 889.8,108.6 890.7,110.1 891.7,111.8 892.6,113.6 893.6,115.6 894.6,117.7 895.5,120.0 896.5,122.4 897.4,124.9 898.4,127.6 899.3,130.3 900.3,133.2 901.3,136.1 902.2,139.1 903.2,142.2 904.1,145.4 905.1,148.6 906.0,151.9 907.0,155.3 908.0,158.7 908.9,162.1 909.9,165.5 910.8,169.0 911.8,172.5 912.7,176.0 913.7,179.6 914.7,183.1 915.6,186.6 916.6,190.1 917.5,193.6 918.5,197.1 919.4,200.6 920.4,204.0 921.4,207.4 922.3,210.8 923.3,214.1 924.2,217.4 925.2,220.6 926.1,223.8 927.1,227.0 928.1,230.1 929.0,233.2 930.0,236.1 930.9,239.1 931.9,242.0 932.8,244.8 933.8,247.6 934.8,250.3 935.7,252.9 936.7,255.5 937.6,258.0 938.6,260.4 939.5,262.8 940.5,265.1 941.5,267.4 942.4,269.6 943.4,271.7 944.3,273.8 945.3,275.8 946.2,277.7 947.2,279.6 948.2,281.4 949.1,283.1 950.1,284.8 951.0,286.5 952.0,288.0 952.9,289.5 953.9,291.0 954.9,292.4 955.8,293.8 956.8,295.1 957.7,296.3 958.7,297.5 959.6,298.7 960.6,299.8 961.6,300.9 962.5,301.9 963.5,302.8 964.4,303.8 965.4,304.7 966.3,305.5 967.3,306.3 968.3,307.1 969.2,307.9 970.2,308.6 971.1,309.2 972.1,309.9 973.0,310.5 974.0,311.1 975.0,311.6 975.9,312.1 976.9,312.6 977.8,313.1 978.8,313.6 979.7,314.0 980.7,314.4 981.7,314.8 982.6,315.1 983.6,315.5 984.5,315.8 985.5,316.1 986.4,316.4 987.4,316.7 988.4,316.9 989.3,317.2 990.3,317.4 991.2,317.6 992.2,317.8 993.1,318.0 994.1,318.2 995.1,318.4 996.0,318.5 997.0,318.7 997.9,318.8 998.9,319.0 999.8,319.1 1000.8,319.2 1001.8,319.3 1002.7,319.4 1003.7,319.5 1004.6,319.6 1005.6,319.7 1006.5,319.8 1007.5,319.8 1008.5,319.9 1009.4,320.0 1010.4,320.0 1011.3,320.1 1012.3,320.1 1013.2,320.2 1014.2,320.2 1015.2,320.3 1016.1,320.3 1017.1,320.3 1018.0,320.4 1019.0,320.4 1019.9,320.4 1020.9,320.5 1021.9,320.5 1022.8,320.5 1023.8,320.5 1024.7,320.6 1025.7,320.6 1026.6,320.6"/>
<path d="M716.5,320.7 717.5,320.7 718.5,320.6 719.4,320.5 720.4,320.3 721.3,320.1 722.3,319.8 723.2,319.5 724.2,319.0 725.2,318.5 726.1,317.9 727.1,317.2 728.0,316.4 729.0,315.5 729.9,314.4 730.9,313.3 731.9,311.9 732.8,310.5 733.8,308.8 734.7,307.0 735.7,305.1 736.6,303.0 737.6,300.7 738.6,298.3 739.5,295.7 740.5,292.9 741.4,290.0 742.4,286.9 743.3,283.6 744.3,280.2 745.3,276.6 746.2,272.9 747.2,269.1 748.1,265.1 749.1,261.0 750.0,256.9 751.0,252.6 752.0,248.2 752.9,243.8 753.9,239.4 754.8,234.9 755.8,230.3 756.7,225.8 757.7,221.3 758.7,216.8 759.6,212.4 760.6,208.0 761.5,203.7 762.5,199.5 763.4,195.4 764.4,191.5 765.4,187.6 766.3,184.0 767.3,180.5 768.2,177.3 769.2,174.2 770.1,171.4 771.1,168.8 772.1,166.4 773.0,164.3 774.0,162.5 774.9,161.0 775.9,159.7 776.8,158.8 777.8,158.1 778.8,157.8 779.7,157.7 780.7,158.0 781.6,158.6 782.6,159.5 783.5,160.7 784.5,162.2 785.5,164.0 786.4,166.1 787.4,168.5 788.3,171.2 789.3,174.1 790.2,177.3 791.2,180.7 792.2,184.4 793.1,188.3 794.1,192.4 795.0,196.7 796.0,201.1 796.9,205.7 797.9,210.4 798.9,215.3 799.8,220.2 800.8,225.2 801.7,230.3 802.7,235.4 803.6,240.5 804.6,245.7 805.6,250.8 806.5,255.8 807.5,260.8 808.4,265.7 809.4,270.5 810.3,275.1 811.3,279.7 812.3,284.0 813.2,288.2 814.2,292.2 815.1,296.0 816.1,299.6 817.0,302.9 818.0,305.9 819.0,308.8 819.9,311.3 820.9,313.5 821.8,315.5 822.8,317.2 823.7,318.5 824.7,319.6 825.7,320.3 826.6,320.7 827.6,320.8 828.5,320.6 829.5,320.0 830.4,319.2 831.4,318.0 832.4,316.5 833.3,314.7 834.3,312.7 835.2,310.3 836.2,307.6 837.1,304.7 838.1,301.5 839.1,298.1 840.0,294.4 841.0,290.5 841.9,286.4 842.9,282.0 843.8,277.5 844.8,272.8 845.8,268.0 846.7,263.0 847.7,257.9 848.6,252.6 849.6,247.3 850.5,241.9 851.5,236.4 852.5,230.9 853.4,225.4 854.4,219.8 855.3,214.2 856.3,208.6 857.2,203.1 858.2,197.6 859.2,192.2 860.1,186.8 861.1,181.6 862.0,176.4 863.0,171.3 863.9,166.4 864.9,161.5 865.9,156.9 866.8,152.4 867.8,148.0 868.7,143.8 869.7,139.8 870.6,136.0 871.6,132.4 872.5,129.0 873.5,125.8 874.5,122.8 875.4,120.0 876.4,117.5 877.3,115.1 878.3,113.0 879.2,111.1 880.2,109.4 881.2,108.0 882.1,106.8 883.1,105.8 884.0,105.0 885.0,104.4 885.9,104.1 886.9,104.0 887.9,104.1 888.8,104.4 889.8,104.9 890.7,105.6 891.7,106.4 892.6,107.5 893.6,108.8 894.6,110.2 895.5,111.8 896.5,113.5 897.4,115.4 898.4,117.5 899.3,119.7 900.3,122.0 901.3,124.5 902.2,127.1 903.2,129.8 904.1,132.5 905.1,135.4 906.0,138.4 907.0,141.5 908.0,144.6 908.9,147.8 909.9,151.1 910.8,154.4 911.8,157.8 912.7,161.2 913.7,164.6 914.7,168.1 915.6,171.6 916.6,175.1 917.5,178.6 918.5,182.1 919.4,185.6 920.4,189.2 921.4,192.7 922.3,196.2 923.3,199.6 924.2,203.1 925.2,206.5 926.1,209.9 927.1,213.2 928.1,216.5 929.0,219.8 930.0,223.0 930.9,226.2 931.9,229.3 932.8,232.4 933.8,235.4 934.8,238.4 935.7,241.3 936.7,244.1 937.6,246.9 938.6,249.6 939.5,252.3 940.5,254.9 941.5,257.4 942.4,259.9 943.4,262.3 944.3,264.6 945.3,266.9 946.2,269.1 947.2,271.3 948.2,273.3 949.1,275.4 950.1,277.3 951.0,279.2 952.0,281.0 952.9,282.8 953.9,284.5 954.9,286.2 955.8,287.7 956.8,289.3 957.7,290.8 958.7,292.2 959.6,293.6 960.6,294.9 961.6,296.1 962.5,297.3 963.5,298.5 964.4,299.6 965.4,300.7 966.3,301.7 967.3,302.7 968.3,303.7 969.2,304.6 970.2,305.4 971.1,306.2 972.1,307.0 973.0,307.8 974.0,308.5 975.0,309.2 975.9,309.8 976.9,310.4 977.8,311.0 978.8,311.6 979.7,312.1 980.7,312.6 981.7,313.1 982.6,313.5 983.6,314.0 984.5,314.4 985.5,314.7 986.4,315.1 987.4,315.5 988.4,315.8 989.3,316.1 990.3,316.4 991.2,316.7 992.2,316.9 993.1,317.2 994.1,317.4 995.1,317.6 996.0,317.8 997.0,318.0 997.9,318.2 998.9,318.4 999.8,318.5 1000.8,318.7 1001.8,318.8 1002.7,319.0 1003.7,319.1 1004.6,319.2 1005.6,319.3 1006.5,319.4 1007.5,319.5 1008.5,319.6 1009.4,319.7 1010.4,319.8 1011.3,319.8 1012.3,319.9 1013.2,320.0 1014.2,320.0 1015.2,320.1 1016.1,320.1 1017.1,320.2 1018.0,320.2 1019.0,320.3 1019.9,320.3 1020.9,320.3 1021.9,320.4 1022.8,320.4 1023.8,320.4 1024.7,320.5 1025.7,320.5 1026.6,320.5 1027.6,320.5 1028.6,320.6 1029.5,320.6"/>
<path d="M716.5,320.8 717.5,320.8 718.5,320.7 719.4,320.7 720.4,320.6 721.3,320.6 722.3,320.5 723.2,320.3 724.2,320.1 725.2,319.9 726.1,319.7 727.1,319.3 728.0,318.9 729.0,318.5 729.9,318.0 730.9,317.3 731.9,316.6 732.8,315.8 733.8,314.9 734.7,313.8 735.7,312.7 736.6,311.4 737.6,310.0 738.6,308.4 739.5,306.7 740.5,304.9 741.4,302.9 742.4,300.8 743.3,298.5 744.3,296.0 745.3,293.4 746.2,290.7 747.2,287.7 748.1,284.7 749.1,281.4 750.0,278.1 751.0,274.6 752.0,270.9 752.9,267.2 753.9,263.3 754.8,259.3 755.8,255.2 756.7,251.1 757.7,246.8 758.7,242.5 759.6,238.1 760.6,233.7 761.5,229.3 762.5,224.9 763.4,220.4 764.4,216.0 765.4,211.7 766.3,207.4 767.3,203.1 768.2,199.0 769.2,195.0 770.1,191.0 771.1,187.3 772.1,183.6 773.0,180.2 774.0,176.9 774.9,173.8 775.9,171.0 776.8,168.4 777.8,166.0 778.8,163.8 779.7,161.9 780.7,160.3 781.6,159.0 782.6,158.0 783.5,157.2 784.5,156.8 785.5,156.6 786.4,156.8 787.4,157.3 788.3,158.0 789.3,159.1 790.2,160.5 791.2,162.2 792.2,164.1 793.1,166.4 794.1,169.0 795.0,171.8 796.0,174.8 796.9,178.2 797.9,181.7 798.9,185.5 799.8,189.5 800.8,193.7 801.7,198.1 802.7,202.6 803.6,207.3 804.6,212.1 805.6,217.0 806.5,222.0 807.5,227.1 808.4,232.2 809.4,237.3 810.3,242.4 811.3,247.6 812.3,252.7 813.2,257.7 814.2,262.7 815.1,267.5 816.1,272.3 817.0,276.9 818.0,281.4 819.0,285.7 819.9,289.8 820.9,293.7 821.8,297.4 822.8,300.9 823.7,304.1 824.7,307.1 825.7,309.8 826.6,312.2 827.6,314.4 828.5,316.2 829.5,317.7 830.4,319.0 831.4,319.9 832.4,320.5 833.3,320.8 834.3,320.7 835.2,320.4 836.2,319.7 837.1,318.7 838.1,317.4 839.1,315.8 840.0,313.9 841.0,311.7 841.9,309.2 842.9,306.4 843.8,303.4 844.8,300.1 845.8,296.5 846.7,292.7 847.7,288.7 848.6,284.5 849.6,280.1 850.5,275.5 851.5,270.7 852.5,265.8 853.4,260.7 854.4,255.6 855.3,250.3 856.3,244.9 857.2,239.5 858.2,234.0 859.2,228.4 860.1,222.9 861.1,217.3 862.0,211.7 863.0,206.2 863.9,200.7 864.9,195.2 865.9,189.8 866.8,184.5 867.8,179.3 868.7,174.2 869.7,169.2 870.6,164.3 871.6,159.6 872.5,155.1 873.5,150.6 874.5,146.4 875.4,142.3 876.4,138.5 877.3,134.8 878.3,131.3 879.2,128.0 880.2,124.9 881.2,122.1 882.1,119.5 883.1,117.0 884.0,114.9 885.0,112.9 885.9,111.2 886.9,109.6 887.9,108.4 888.8,107.3 889.8,106.5 890.7,105.8 891.7,105.4 892.6,105.3 893.6,105.3 894.6,105.5 895.5,106.0 896.5,106.6 897.4,107.5 898.4,108.5 899.3,109.7 900.3,111.1 901.3,112.6 902.2,114.4 903.2,116.2 904.1,118.3 905.1,120.4 906.0,122.8 907.0,125.2 908.0,127.7 908.9,130.4 909.9,133.2 910.8,136.1 911.8,139.0 912.7,142.1 913.7,145.2 914.7,148.4 915.6,151.7 916.6,155.0 917.5,158.3 918.5,161.7 919.4,165.2 920.4,168.6 921.4,172.1 922.3,175.6 923.3,179.2 924.2,182.7 925.2,186.2 926.1,189.7 927.1,193.2 928.1,196.7 929.0,200.2 930.0,203.6 930.9,207.0 931.9,210.4 932.8,213.8 933.8,217.1 934.8,220.4 935.7,223.6 936.7,226.8 937.6,229.9 938.6,232.9 939.5,236.0 940.5,238.9 941.5,241.8 942.4,244.7 943.4,247.5 944.3,250.2 945.3,252.8 946.2,255.4 947.2,257.9 948.2,260.4 949.1,262.8 950.1,265.1 951.0,267.4 952.0,269.6 952.9,271.8 953.9,273.8 954.9,275.8 955.8,277.8 956.8,279.7 957.7,281.5 958.7,283.3 959.6,285.0 960.6,286.6 961.6,288.2 962.5,289.7 963.5,291.2 964.4,292.6 965.4,293.9 966.3,295.3 967.3,296.5 968.3,297.7 969.2,298.9 970.2,300.0 971.1,301.0 972.1,302.1 973.0,303.0 974.0,304.0 975.0,304.9 975.9,305.7 976.9,306.5 977.8,307.3 978.8,308.0 979.7,308.7 980.7,309.4 981.7,310.0 982.6,310.6 983.6,311.2 984.5,311.8 985.5,312.3 986.4,312.8 987.4,313.3 988.4,313.7 989.3,314.1 990.3,314.5 991.2,314.9 992.2,315.3 993.1,315.6 994.1,315.9 995.1,316.2 996.0,316.5 997.0,316.8 997.9,317.0 998.9,317.3 999.8,317.5 1000.8,317.7 1001.8,317.9 1002.7,318.1 1003.7,318.3 1004.6,318.4 1005.6,318.6 1006.5,318.8 1007.5,318.9 1008.5,319.0 1009.4,319.1 1010.4,319.3 1011.3,319.4 1012.3,319.5 1013.2,319.6 1014.2,319.6 1015.2,319.7 1016.1,319.8 1017.1,319.9 1018.0,319.9 1019.0,320.0 1019.9,320.1 1020.9,320.1 1021.9,320.2 1022.8,320.2 1023.8,320.3 1024.7,320.3 1025.7,320.3 1026.6,320.4 1027.6,320.4 1028.6,320.4 1029.5,320.5 1030.5,320.5 1031.4,320.5 1032.4,320.5 1033.3,320.6 1034.3,320.6 1035.3,320.6"/>
<path d="M716.5,320.8 720.4,320.8 721.3,320.7 722.3,320.7 723.2,320.7 724.2,320.6 725.2,320.5 726.1,320.4 727.1,320.3 728.0,320.2 729.0,320.0 729.9,319.8 730.9,319.5 731.9,319.2 732.8,318.8 733.8,318.4 734.7,317.8 735.7,317.3 736.6,316.6 737.6,315.9 738.6,315.0 739.5,314.1 740.5,313.1 741.4,311.9 742.4,310.6 743.3,309.2 744.3,307.7 745.3,306.1 746.2,304.3 747.2,302.4 748.1,300.3 749.1,298.1 750.0,295.8 751.0,293.3 752.0,290.6 752.9,287.8 753.9,284.9 754.8,281.8 755.8,278.6 756.7,275.2 757.7,271.7 758.7,268.1 759.6,264.4 760.6,260.6 761.5,256.6 762.5,252.6 763.4,248.5 764.4,244.3 765.4,240.1 766.3,235.8 767.3,231.5 768.2,227.1 769.2,222.8 770.1,218.5 771.1,214.1 772.1,209.9 773.0,205.6 774.0,201.5 774.9,197.4 775.9,193.5 776.8,189.6 777.8,185.9 778.8,182.3 779.7,178.9 780.7,175.7 781.6,172.7 782.6,169.9 783.5,167.3 784.5,164.9 785.5,162.8 786.4,160.9 787.4,159.3 788.3,158.0 789.3,156.9 790.2,156.1 791.2,155.7 792.2,155.5 793.1,155.6 794.1,156.1 795.0,156.8 796.0,157.8 796.9,159.2 797.9,160.8 798.9,162.7 799.8,164.9 800.8,167.4 801.7,170.2 802.7,173.2 803.6,176.5 804.6,180.0 805.6,183.7 806.5,187.7 807.5,191.9 808.4,196.2 809.4,200.7 810.3,205.3 811.3,210.1 812.3,215.0 813.2,220.0 814.2,225.0 815.1,230.2 816.1,235.3 817.0,240.5 818.0,245.6 819.0,250.7 819.9,255.8 820.9,260.8 821.8,265.7 822.8,270.5 823.7,275.2 824.7,279.8 825.7,284.1 826.6,288.3 827.6,292.3 828.5,296.1 829.5,299.7 830.4,303.0 831.4,306.1 832.4,308.9 833.3,311.4 834.3,313.6 835.2,315.6 836.2,317.2 837.1,318.6 838.1,319.6 839.1,320.3 840.0,320.7 841.0,320.8 841.9,320.5 842.9,320.0 843.8,319.1 844.8,317.9 845.8,316.4 846.7,314.5 847.7,312.4 848.6,310.0 849.6,307.3 850.5,304.4 851.5,301.1 852.5,297.7 853.4,294.0 854.4,290.0 855.3,285.8 856.3,281.5 857.2,276.9 858.2,272.2 859.2,267.3 860.1,262.3 861.1,257.2 862.0,251.9 863.0,246.6 863.9,241.2 864.9,235.7 865.9,230.2 866.8,224.6 867.8,219.0 868.7,213.5 869.7,207.9 870.6,202.4 871.6,197.0 872.5,191.6 873.5,186.2 874.5,181.0 875.4,175.9 876.4,170.9 877.3,166.0 878.3,161.2 879.2,156.7 880.2,152.2 881.2,148.0 882.1,143.9 883.1,140.0 884.0,136.3 885.0,132.8 885.9,129.5 886.9,126.4 887.9,123.5 888.8,120.9 889.8,118.4 890.7,116.2 891.7,114.3 892.6,112.5 893.6,111.0 894.6,109.7 895.5,108.6 896.5,107.8 897.4,107.1 898.4,106.7 899.3,106.6 900.3,106.6 901.3,106.8 902.2,107.3 903.2,107.9 904.1,108.8 905.1,109.8 906.0,111.0 907.0,112.4 908.0,114.0 908.9,115.7 909.9,117.6 910.8,119.6 911.8,121.8 912.7,124.1 913.7,126.5 914.7,129.1 915.6,131.8 916.6,134.6 917.5,137.5 918.5,140.4 919.4,143.5 920.4,146.6 921.4,149.8 922.3,153.1 923.3,156.4 924.2,159.8 925.2,163.2 926.1,166.6 927.1,170.1 928.1,173.6 929.0,177.1 930.0,180.6 930.9,184.1 931.9,187.7 932.8,191.2 933.8,194.7 934.8,198.2 935.7,201.6 936.7,205.1 937.6,208.5 938.6,211.9 939.5,215.2 940.5,218.5 941.5,221.8 942.4,225.0 943.4,228.1 944.3,231.2 945.3,234.3 946.2,237.3 947.2,240.2 948.2,243.1 949.1,246.0 950.1,248.7 951.0,251.4 952.0,254.1 952.9,256.6 953.9,259.1 954.9,261.6 955.8,264.0 956.8,266.3 957.7,268.5 958.7,270.7 959.6,272.8 960.6,274.9 961.6,276.8 962.5,278.8 963.5,280.6 964.4,282.4 965.4,284.2 966.3,285.8 967.3,287.5 968.3,289.0 969.2,290.5 970.2,292.0 971.1,293.4 972.1,294.7 973.0,296.0 974.0,297.2 975.0,298.4 975.9,299.5 976.9,300.6 977.8,301.6 978.8,302.6 979.7,303.6 980.7,304.5 981.7,305.4 982.6,306.2 983.6,307.0 984.5,307.8 985.5,308.5 986.4,309.2 987.4,309.8 988.4,310.4 989.3,311.0 990.3,311.6 991.2,312.1 992.2,312.6 993.1,313.1 994.1,313.6 995.1,314.0 996.0,314.4 997.0,314.8 997.9,315.2 998.9,315.5 999.8,315.8 1000.8,316.1 1001.8,316.4 1002.7,316.7 1003.7,317.0 1004.6,317.2 1005.6,317.4 1006.5,317.7 1007.5,317.9 1008.5,318.1 1009.4,318.2 1010.4,318.4 1011.3,318.6 1012.3,318.7 1013.2,318.9 1014.2,319.0 1015.2,319.1 1016.1,319.2 1017.1,319.3 1018.0,319.4 1019.0,319.5 1019.9,319.6 1020.9,319.7 1021.9,319.8 1022.8,319.9 1023.8,319.9 1024.7,320.0 1025.7,320.1 1026.6,320.1 1027.6,320.2 1028.6,320.2 1029.5,320.2 1030.5,320.3 1031.4,320.3 1032.4,320.4 1033.3,320.4 1034.3,320.4 1035.3,320.5 1036.2,320.5 1037.2,320.5 1038.1,320.5 1039.1,320.6 1040.0,320.6 1041.0,320.6"/>
<path d="M716.5,320.8 724.2,320.8 725.2,320.7 726.1,320.7 727.1,320.7 728.0,320.6 729.0,320.5 729.9,320.5 730.9,320.4 731.9,320.2 732.8,320.1 733.8,319.9 734.7,319.7 735.7,319.5 736.6,319.2 737.6,318.8 738.6,318.4 739.5,318.0 740.5,317.5 741.4,316.9 742.4,316.2 743.3,315.5 744.3,314.7 745.3,313.8 746.2,312.7 747.2,311.6 748.1,310.4 749.1,309.1 750.0,307.6 751.0,306.1 752.0,304.4 752.9,302.6 753.9,300.6 754.8,298.5 755.8,296.3 756.7,293.9 757.7,291.4 758.7,288.8 759.6,286.0 760.6,283.1 761.5,280.0 762.5,276.9 763.4,273.5 764.4,270.1 765.4,266.6 766.3,262.9 767.3,259.1 768.2,255.2 769.2,251.3 770.1,247.3 771.1,243.1 772.1,239.0 773.0,234.8 774.0,230.5 774.9,226.3 775.9,222.0 776.8,217.7 777.8,213.5 778.8,209.2 779.7,205.1 780.7,201.0 781.6,196.9 782.6,193.0 783.5,189.2 784.5,185.5 785.5,181.9 786.4,178.6 787.4,175.3 788.3,172.3 789.3,169.4 790.2,166.8 791.2,164.4 792.2,162.2 793.1,160.3 794.1,158.6 795.0,157.2 796.0,156.1 796.9,155.3 797.9,154.7 798.9,154.4 799.8,154.5 800.8,154.8 801.7,155.4 802.7,156.3 803.6,157.6 804.6,159.1 805.6,160.9 806.5,163.0 807.5,165.4 808.4,168.0 809.4,170.9 810.3,174.1 811.3,177.5 812.3,181.2 813.2,185.0 814.2,189.1 815.1,193.3 816.1,197.8 817.0,202.4 818.0,207.1 819.0,211.9 819.9,216.9 820.9,221.9 821.8,227.0 822.8,232.2 823.7,237.3 824.7,242.5 825.7,247.6 826.6,252.8 827.6,257.8 828.5,262.8 829.5,267.7 830.4,272.4 831.4,277.1 832.4,281.6 833.3,285.9 834.3,290.0 835.2,293.9 836.2,297.6 837.1,301.1 838.1,304.3 839.1,307.3 840.0,310.0 841.0,312.4 841.9,314.5 842.9,316.3 843.8,317.9 844.8,319.1 845.8,320.0 846.7,320.5 847.7,320.8 848.6,320.7 849.6,320.3 850.5,319.6 851.5,318.6 852.5,317.3 853.4,315.6 854.4,313.6 855.3,311.4 856.3,308.9 857.2,306.0 858.2,303.0 859.2,299.6 860.1,296.0 861.1,292.2 862.0,288.1 863.0,283.9 863.9,279.4 864.9,274.8 865.9,270.0 866.8,265.1 867.8,260.0 868.7,254.8 869.7,249.5 870.6,244.1 871.6,238.7 872.5,233.2 873.5,227.6 874.5,222.1 875.4,216.5 876.4,210.9 877.3,205.4 878.3,199.9 879.2,194.5 880.2,189.2 881.2,183.9 882.1,178.7 883.1,173.7 884.0,168.7 885.0,163.9 885.9,159.3 886.9,154.8 887.9,150.5 888.8,146.3 889.8,142.4 890.7,138.6 891.7,135.0 892.6,131.7 893.6,128.5 894.6,125.6 895.5,122.8 896.5,120.3 897.4,118.1 898.4,116.0 899.3,114.2 900.3,112.6 901.3,111.2 902.2,110.1 903.2,109.2 904.1,108.5 905.1,108.0 906.0,107.8 907.0,107.8 908.0,108.0 908.9,108.3 909.9,108.9 910.8,109.7 911.8,110.7 912.7,111.9 913.7,113.2 914.7,114.8 915.6,116.5 916.6,118.3 917.5,120.3 918.5,122.5 919.4,124.8 920.4,127.2 921.4,129.7 922.3,132.4 923.3,135.2 924.2,138.0 925.2,141.0 926.1,144.0 927.1,147.2 928.1,150.4 929.0,153.6 930.0,156.9 930.9,160.3 931.9,163.7 932.8,167.1 933.8,170.6 934.8,174.1 935.7,177.6 936.7,181.1 937.6,184.6 938.6,188.2 939.5,191.7 940.5,195.2 941.5,198.7 942.4,202.1 943.4,205.6 944.3,209.0 945.3,212.4 946.2,215.7 947.2,219.0 948.2,222.3 949.1,225.5 950.1,228.7 951.0,231.8 952.0,234.8 952.9,237.8 953.9,240.8 954.9,243.6 955.8,246.5 956.8,249.2 957.7,251.9 958.7,254.6 959.6,257.1 960.6,259.6 961.6,262.1 962.5,264.5 963.5,266.8 964.4,269.0 965.4,271.2 966.3,273.3 967.3,275.3 968.3,277.3 969.2,279.2 970.2,281.1 971.1,282.9 972.1,284.6 973.0,286.3 974.0,287.9 975.0,289.4 975.9,290.9 976.9,292.4 977.8,293.7 978.8,295.1 979.7,296.3 980.7,297.6 981.7,298.7 982.6,299.9 983.6,300.9 984.5,302.0 985.5,303.0 986.4,303.9 987.4,304.8 988.4,305.7 989.3,306.5 990.3,307.3 991.2,308.0 992.2,308.7 993.1,309.4 994.1,310.0 995.1,310.7 996.0,311.2 997.0,311.8 997.9,312.3 998.9,312.8 999.8,313.3 1000.8,313.7 1001.8,314.2 1002.7,314.6 1003.7,314.9 1004.6,315.3 1005.6,315.6 1006.5,316.0 1007.5,316.3 1008.5,316.6 1009.4,316.8 1010.4,317.1 1011.3,317.3 1012.3,317.5 1013.2,317.8 1014.2,318.0 1015.2,318.1 1016.1,318.3 1017.1,318.5 1018.0,318.6 1019.0,318.8 1019.9,318.9 1020.9,319.1 1021.9,319.2 1022.8,319.3 1023.8,319.4 1024.7,319.5 1025.7,319.6 1026.6,319.7 1027.6,319.8 1028.6,319.8 1029.5,319.9 1030.5,320.0 1031.4,320.0 1032.4,320.1 1033.3,320.1 1034.3,320.2 1035.3,320.2 1036.2,320.3 1037.2,320.3 1038.1,320.4 1039.1,320.4 1040.0,320.4 1041.0,320.4 1042.0,320.5 1042.9,320.5 1043.9,320.5 1044.8,320.5 1045.8,320.6 1046.7,320.6"/>
<path d="M716.5,320.8 728.0,320.8 729.0,320.7 729.9,320.7 730.9,320.7 731.9,320.6 732.8,320.6 733.8,320.5 734.7,320.4 735.7,320.3 736.6,320.2 737.6,320.1 738.6,319.9 739.5,319.7 740.5,319.5 741.4,319.2 742.4,318.9 743.3,318.6 744.3,318.2 745.3,317.7 746.2,317.2 747.2,316.6 748.1,316.0 749.1,315.3 750.0,314.5 751.0,313.6 752.0,312.6 752.9,311.6 753.9,310.4 754.8,309.2 755.8,307.8 756.7,306.3 757.7,304.7 758.7,303.0 759.6,301.1 760.6,299.1 761.5,297.0 762.5,294.8 763.4,292.4 764.4,289.9 765.4,287.3 766.3,284.5 767.3,281.6 768.2,278.6 769.2,275.5 770.1,272.2 771.1,268.8 772.1,265.3 773.0,261.7 774.0,258.0 774.9,254.1 775.9,250.2 776.8,246.3 777.8,242.2 778.8,238.1 779.7,234.0 780.7,229.8 781.6,225.6 782.6,221.4 783.5,217.1 784.5,212.9 785.5,208.8 786.4,204.7 787.4,200.6 788.3,196.6 789.3,192.7 790.2,188.9 791.2,185.2 792.2,181.7 793.1,178.3 794.1,175.1 795.0,172.0 796.0,169.1 796.9,166.5 797.9,164.0 798.9,161.8 799.8,159.8 800.8,158.1 801.7,156.6 802.7,155.4 803.6,154.5 804.6,153.9 805.6,153.5 806.5,153.4 807.5,153.6 808.4,154.2 809.4,155.0 810.3,156.1 811.3,157.5 812.3,159.2 813.2,161.2 814.2,163.5 815.1,166.0 816.1,168.8 817.0,171.9 818.0,175.2 819.0,178.7 819.9,182.5 820.9,186.5 821.8,190.7 822.8,195.0 823.7,199.6 824.7,204.2 825.7,209.0 826.6,213.9 827.6,219.0 828.5,224.0 829.5,229.2 830.4,234.3 831.4,239.5 832.4,244.7 833.3,249.8 834.3,254.9 835.2,260.0 836.2,264.9 837.1,269.8 838.1,274.5 839.1,279.1 840.0,283.5 841.0,287.7 841.9,291.8 842.9,295.6 843.8,299.2 844.8,302.6 845.8,305.7 846.7,308.5 847.7,311.1 848.6,313.4 849.6,315.4 850.5,317.1 851.5,318.4 852.5,319.5 853.4,320.3 854.4,320.7 855.3,320.8 856.3,320.6 857.2,320.0 858.2,319.2 859.2,318.0 860.1,316.5 861.1,314.7 862.0,312.6 863.0,310.2 863.9,307.6 864.9,304.6 865.9,301.4 866.8,297.9 867.8,294.2 868.7,290.3 869.7,286.1 870.6,281.8 871.6,277.2 872.5,272.5 873.5,267.7 874.5,262.6 875.4,257.5 876.4,252.3 877.3,246.9 878.3,241.5 879.2,236.0 880.2,230.5 881.2,224.9 882.1,219.4 883.1,213.8 884.0,208.3 885.0,202.8 885.9,197.4 886.9,192.0 887.9,186.7 888.8,181.5 889.8,176.4 890.7,171.4 891.7,166.6 892.6,161.9 893.6,157.3 894.6,152.9 895.5,148.7 896.5,144.7 897.4,140.8 898.4,137.2 899.3,133.8 900.3,130.5 901.3,127.5 902.2,124.7 903.2,122.1 904.1,119.8 905.1,117.7 906.0,115.8 907.0,114.1 908.0,112.7 908.9,111.5 909.9,110.5 910.8,109.8 911.8,109.2 912.7,108.9 913.7,108.9 914.7,109.0 915.6,109.3 916.6,109.9 917.5,110.6 918.5,111.6 919.4,112.7 920.4,114.0 921.4,115.5 922.3,117.1 923.3,119.0 924.2,120.9 925.2,123.0 926.1,125.3 927.1,127.7 928.1,130.2 929.0,132.9 930.0,135.6 930.9,138.5 931.9,141.4 932.8,144.4 933.8,147.6 934.8,150.7 935.7,154.0 936.7,157.3 937.6,160.7 938.6,164.1 939.5,167.5 940.5,171.0 941.5,174.5 942.4,178.0 943.4,181.5 944.3,185.0 945.3,188.5 946.2,192.0 947.2,195.5 948.2,199.0 949.1,202.5 950.1,206.0 951.0,209.4 952.0,212.8 952.9,216.1 953.9,219.4 954.9,222.7 955.8,225.9 956.8,229.0 957.7,232.2 958.7,235.2 959.6,238.2 960.6,241.2 961.6,244.1 962.5,246.9 963.5,249.6 964.4,252.3 965.4,255.0 966.3,257.5 967.3,260.0 968.3,262.5 969.2,264.8 970.2,267.2 971.1,269.4 972.1,271.6 973.0,273.7 974.0,275.7 975.0,277.7 975.9,279.6 976.9,281.4 977.8,283.2 978.8,285.0 979.7,286.6 980.7,288.2 981.7,289.8 982.6,291.3 983.6,292.7 984.5,294.1 985.5,295.4 986.4,296.6 987.4,297.9 988.4,299.0 989.3,300.1 990.3,301.2 991.2,302.2 992.2,303.2 993.1,304.2 994.1,305.0 995.1,305.9 996.0,306.7 997.0,307.5 997.9,308.2 998.9,308.9 999.8,309.6 1000.8,310.2 1001.8,310.9 1002.7,311.4 1003.7,312.0 1004.6,312.5 1005.6,313.0 1006.5,313.5 1007.5,313.9 1008.5,314.3 1009.4,314.7 1010.4,315.1 1011.3,315.4 1012.3,315.8 1013.2,316.1 1014.2,316.4 1015.2,316.7 1016.1,316.9 1017.1,317.2 1018.0,317.4 1019.0,317.6 1019.9,317.8 1020.9,318.0 1021.9,318.2 1022.8,318.4 1023.8,318.6 1024.7,318.7 1025.7,318.9 1026.6,319.0 1027.6,319.1 1028.6,319.2 1029.5,319.3 1030.5,319.4 1031.4,319.5 1032.4,319.6 1033.3,319.7 1034.3,319.8 1035.3,319.9 1036.2,319.9 1037.2,320.0 1038.1,320.1 1039.1,320.1 1040.0,320.2 1041.0,320.2 1042.0,320.3 1042.9,320.3 1043.9,320.3 1044.8,320.4 1045.8,320.4 1046.7,320.4 1047.7,320.5 1048.7,320.5 1049.6,320.5 1050.6,320.5 1051.5,320.6 1052.5,320.6 1053.4,320.6"/>
<path d="M716.5,320.8 731.9,320.8 732.8,320.7 733.8,320.7 734.7,320.7 735.7,320.7 736.6,320.6 737.6,320.6 738.6,320.5 739.5,320.4 740.5,320.3 741.4,320.2 742.4,320.1 743.3,319.9 744.3,319.8 745.3,319.6 746.2,319.3 747.2,319.1 748.1,318.8 749.1,318.4 750.0,318.0 751.0,317.6 752.0,317.1 752.9,316.5 753.9,315.9 754.8,315.2 755.8,314.4 756.7,313.5 757.7,312.6 758.7,311.6 759.6,310.5 760.6,309.3 761.5,307.9 762.5,306.5 763.4,305.0 764.4,303.4 765.4,301.6 766.3,299.7 767.3,297.7 768.2,295.6 769.2,293.3 770.1,291.0 771.1,288.4 772.1,285.8 773.0,283.0 774.0,280.2 774.9,277.1 775.9,274.0 776.8,270.8 777.8,267.4 778.8,263.9 779.7,260.3 780.7,256.6 781.6,252.9 782.6,249.0 783.5,245.1 784.5,241.1 785.5,237.0 786.4,232.9 787.4,228.8 788.3,224.6 789.3,220.4 790.2,216.3 791.2,212.1 792.2,208.0 793.1,203.9 794.1,199.9 795.0,195.9 796.0,192.1 796.9,188.3 797.9,184.7 798.9,181.1 799.8,177.7 800.8,174.5 801.7,171.5 802.7,168.6 803.6,165.9 804.6,163.5 805.6,161.2 806.5,159.2 807.5,157.5 808.4,156.0 809.4,154.7 810.3,153.8 811.3,153.1 812.3,152.6 813.2,152.5 814.2,152.7 815.1,153.1 816.1,153.9 817.0,154.9 818.0,156.2 819.0,157.9 819.9,159.8 820.9,162.0 821.8,164.4 822.8,167.2 823.7,170.2 824.7,173.4 825.7,176.9 826.6,180.6 827.6,184.5 828.5,188.7 829.5,193.0 830.4,197.5 831.4,202.1 832.4,206.9 833.3,211.7 834.3,216.7 835.2,221.8 836.2,226.9 837.1,232.1 838.1,237.3 839.1,242.5 840.0,247.6 841.0,252.8 841.9,257.9 842.9,262.9 843.8,267.8 844.8,272.5 845.8,277.2 846.7,281.7 847.7,286.0 848.6,290.1 849.6,294.0 850.5,297.7 851.5,301.2 852.5,304.4 853.4,307.4 854.4,310.1 855.3,312.5 856.3,314.6 857.2,316.4 858.2,317.9 859.2,319.1 860.1,320.0 861.1,320.6 862.0,320.8 863.0,320.7 863.9,320.3 864.9,319.6 865.9,318.5 866.8,317.1 867.8,315.5 868.7,313.5 869.7,311.2 870.6,308.6 871.6,305.8 872.5,302.7 873.5,299.3 874.5,295.7 875.4,291.8 876.4,287.8 877.3,283.5 878.3,279.0 879.2,274.4 880.2,269.5 881.2,264.6 882.1,259.5 883.1,254.3 884.0,249.0 885.0,243.6 885.9,238.1 886.9,232.6 887.9,227.1 888.8,221.5 889.8,216.0 890.7,210.4 891.7,204.9 892.6,199.5 893.6,194.1 894.6,188.8 895.5,183.5 896.5,178.4 897.4,173.4 898.4,168.5 899.3,163.8 900.3,159.2 901.3,154.8 902.2,150.5 903.2,146.4 904.1,142.6 905.1,138.9 906.0,135.4 907.0,132.1 908.0,129.1 908.9,126.2 909.9,123.6 910.8,121.2 911.8,119.0 912.7,117.1 913.7,115.4 914.7,113.9 915.6,112.7 916.6,111.7 917.5,110.9 918.5,110.3 919.4,110.0 920.4,109.8 921.4,109.9 922.3,110.3 923.3,110.8 924.2,111.5 925.2,112.4 926.1,113.5 927.1,114.8 928.1,116.3 929.0,117.9 930.0,119.7 930.9,121.6 931.9,123.8 932.8,126.0 933.8,128.4 934.8,130.9 935.7,133.5 936.7,136.3 937.6,139.1 938.6,142.1 939.5,145.1 940.5,148.2 941.5,151.4 942.4,154.6 943.4,157.9 944.3,161.3 945.3,164.7 946.2,168.1 947.2,171.6 948.2,175.1 949.1,178.6 950.1,182.1 951.0,185.6 952.0,189.2 952.9,192.7 953.9,196.2 954.9,199.7 955.8,203.1 956.8,206.6 957.7,210.0 958.7,213.4 959.6,216.7 960.6,220.0 961.6,223.3 962.5,226.5 963.5,229.7 964.4,232.8 965.4,235.8 966.3,238.8 967.3,241.8 968.3,244.7 969.2,247.5 970.2,250.2 971.1,252.9 972.1,255.6 973.0,258.1 974.0,260.6 975.0,263.0 975.9,265.4 976.9,267.7 977.8,269.9 978.8,272.1 979.7,274.2 980.7,276.2 981.7,278.2 982.6,280.1 983.6,281.9 984.5,283.7 985.5,285.4 986.4,287.1 987.4,288.7 988.4,290.2 989.3,291.7 990.3,293.1 991.2,294.5 992.2,295.8 993.1,297.0 994.1,298.2 995.1,299.4 996.0,300.5 997.0,301.6 997.9,302.6 998.9,303.5 999.8,304.5 1000.8,305.4 1001.8,306.2 1002.7,307.0 1003.7,307.8 1004.6,308.5 1005.6,309.2 1006.5,309.8 1007.5,310.5 1008.5,311.1 1009.4,311.6 1010.4,312.2 1011.3,312.7 1012.3,313.2 1013.2,313.6 1014.2,314.1 1015.2,314.5 1016.1,314.9 1017.1,315.2 1018.0,315.6 1019.0,315.9 1019.9,316.2 1020.9,316.5 1021.9,316.8 1022.8,317.0 1023.8,317.3 1024.7,317.5 1025.7,317.7 1026.6,317.9 1027.6,318.1 1028.6,318.3 1029.5,318.5 1030.5,318.6 1031.4,318.8 1032.4,318.9 1033.3,319.1 1034.3,319.2 1035.3,319.3 1036.2,319.4 1037.2,319.5 1038.1,319.6 1039.1,319.7 1040.0,319.8 1041.0,319.8 1042.0,319.9 1042.9,320.0 1043.9,320.0 1044.8,320.1 1045.8,320.1 1046.7,320.2 1047.7,320.2 1048.7,320.3 1049.6,320.3 1050.6,320.4 1051.5,320.4 1052.5,320.4 1053.4,320.5 1054.4,320.5 1055.4,320.5 1056.3,320.5 1057.3,320.5 1058.2,320.6 1059.2,320.6"/>
<path d="M716.5,320.8 735.7,320.8 736.6,320.7 737.6,320.7 738.6,320.7 739.5,320.7 740.5,320.6 741.4,320.6 742.4,320.6 743.3,320.5 744.3,320.4 745.3,320.3 746.2,320.2 747.2,320.1 748.1,320.0 749.1,319.8 750.0,319.6 751.0,319.4 752.0,319.2 752.9,318.9 753.9,318.6 754.8,318.2 755.8,317.8 756.7,317.4 757.7,316.9 758.7,316.3 759.6,315.7 760.6,315.0 761.5,314.3 762.5,313.5 763.4,312.5 764.4,311.6 765.4,310.5 766.3,309.3 767.3,308.0 768.2,306.7 769.2,305.2 770.1,303.6 771.1,301.9 772.1,300.1 773.0,298.2 774.0,296.2 774.9,294.0 775.9,291.7 776.8,289.3 777.8,286.8 778.8,284.1 779.7,281.3 780.7,278.4 781.6,275.4 782.6,272.3 783.5,269.0 784.5,265.7 785.5,262.2 786.4,258.6 787.4,254.9 788.3,251.2 789.3,247.4 790.2,243.4 791.2,239.5 792.2,235.5 793.1,231.4 794.1,227.3 795.0,223.2 796.0,219.0 796.9,214.9 797.9,210.8 798.9,206.7 799.8,202.7 800.8,198.7 801.7,194.8 802.7,191.0 803.6,187.2 804.6,183.6 805.6,180.1 806.5,176.8 807.5,173.6 808.4,170.6 809.4,167.7 810.3,165.1 811.3,162.6 812.3,160.4 813.2,158.4 814.2,156.7 815.1,155.2 816.1,153.9 817.0,153.0 818.0,152.3 819.0,151.8 819.9,151.7 820.9,151.8 821.8,152.3 822.8,153.0 823.7,154.0 824.7,155.3 825.7,157.0 826.6,158.8 827.6,161.0 828.5,163.5 829.5,166.2 830.4,169.1 831.4,172.4 832.4,175.8 833.3,179.5 834.3,183.4 835.2,187.5 836.2,191.8 837.1,196.3 838.1,200.9 839.1,205.6 840.0,210.5 841.0,215.5 841.9,220.6 842.9,225.7 843.8,230.9 844.8,236.1 845.8,241.3 846.7,246.4 847.7,251.6 848.6,256.7 849.6,261.7 850.5,266.6 851.5,271.5 852.5,276.1 853.4,280.7 854.4,285.0 855.3,289.2 856.3,293.2 857.2,296.9 858.2,300.5 859.2,303.7 860.1,306.8 861.1,309.5 862.0,312.0 863.0,314.2 863.9,316.1 864.9,317.6 865.9,318.9 866.8,319.8 867.8,320.5 868.7,320.8 869.7,320.7 870.6,320.4 871.6,319.7 872.5,318.8 873.5,317.5 874.5,315.8 875.4,313.9 876.4,311.7 877.3,309.2 878.3,306.4 879.2,303.3 880.2,300.0 881.2,296.4 882.1,292.6 883.1,288.6 884.0,284.3 885.0,279.9 885.9,275.3 886.9,270.5 887.9,265.6 888.8,260.5 889.8,255.3 890.7,250.0 891.7,244.6 892.6,239.2 893.6,233.7 894.6,228.2 895.5,222.6 896.5,217.1 897.4,211.5 898.4,206.0 899.3,200.6 900.3,195.2 901.3,189.8 902.2,184.6 903.2,179.5 904.1,174.4 905.1,169.6 906.0,164.8 907.0,160.2 908.0,155.8 908.9,151.5 909.9,147.4 910.8,143.5 911.8,139.8 912.7,136.3 913.7,133.1 914.7,130.0 915.6,127.1 916.6,124.5 917.5,122.1 918.5,119.9 919.4,118.0 920.4,116.3 921.4,114.8 922.3,113.6 923.3,112.5 924.2,111.8 925.2,111.2 926.1,110.9 927.1,110.7 928.1,110.8 929.0,111.1 930.0,111.7 930.9,112.4 931.9,113.3 932.8,114.4 933.8,115.7 934.8,117.2 935.7,118.8 936.7,120.6 937.6,122.6 938.6,124.7 939.5,127.0 940.5,129.4 941.5,131.9 942.4,134.5 943.4,137.3 944.3,140.1 945.3,143.1 946.2,146.1 947.2,149.2 948.2,152.4 949.1,155.7 950.1,159.0 951.0,162.3 952.0,165.7 952.9,169.2 953.9,172.7 954.9,176.2 955.8,179.7 956.8,183.2 957.7,186.7 958.7,190.2 959.6,193.8 960.6,197.3 961.6,200.8 962.5,204.2 963.5,207.7 964.4,211.1 965.4,214.5 966.3,217.8 967.3,221.1 968.3,224.3 969.2,227.5 970.2,230.7 971.1,233.8 972.1,236.9 973.0,239.8 974.0,242.8 975.0,245.6 975.9,248.4 976.9,251.2 977.8,253.9 978.8,256.5 979.7,259.0 980.7,261.5 981.7,263.9 982.6,266.3 983.6,268.5 984.5,270.8 985.5,272.9 986.4,275.0 987.4,277.0 988.4,278.9 989.3,280.8 990.3,282.7 991.2,284.4 992.2,286.1 993.1,287.7 994.1,289.3 995.1,290.8 996.0,292.3 997.0,293.7 997.9,295.0 998.9,296.3 999.8,297.6 1000.8,298.8 1001.8,299.9 1002.7,301.0 1003.7,302.0 1004.6,303.0 1005.6,304.0 1006.5,304.9 1007.5,305.7 1008.5,306.6 1009.4,307.4 1010.4,308.1 1011.3,308.8 1012.3,309.5 1013.2,310.2 1014.2,310.8 1015.2,311.4 1016.1,311.9 1017.1,312.4 1018.0,312.9 1019.0,313.4 1019.9,313.9 1020.9,314.3 1021.9,314.7 1022.8,315.1 1023.8,315.4 1024.7,315.8 1025.7,316.1 1026.6,316.4 1027.6,316.7 1028.6,316.9 1029.5,317.2 1030.5,317.4 1031.4,317.6 1032.4,317.9 1033.3,318.1 1034.3,318.2 1035.3,318.4 1036.2,318.6 1037.2,318.7 1038.1,318.9 1039.1,319.0 1040.0,319.1 1041.0,319.2 1042.0,319.4 1042.9,319.5 1043.9,319.6 1044.8,319.6 1045.8,319.7 1046.7,319.8 1047.7,319.9 1048.7,319.9 1049.6,320.0 1050.6,320.1 1051.5,320.1 1052.5,320.2 1053.4,320.2 1054.4,320.3 1055.4,320.3 1056.3,320.3 1057.3,320.4 1058.2,320.4 1059.2,320.4 1060.1,320.5 1061.1,320.5 1062.1,320.5 1063.0,320.5 1064.0,320.6 1064.9,320.6"/>
<path d="M716.5,320.8 740.5,320.8 741.4,320.7 742.4,320.7 743.3,320.7 744.3,320.7 745.3,320.6 746.2,320.6 747.2,320.5 748.1,320.5 749.1,320.4 750.0,320.3 751.0,320.3 752.0,320.1 752.9,320.0 753.9,319.9 754.8,319.7 755.8,319.5 756.7,319.3 757.7,319.0 758.7,318.8 759.6,318.4 760.6,318.1 761.5,317.7 762.5,317.2 763.4,316.7 764.4,316.2 765.4,315.6 766.3,314.9 767.3,314.1 768.2,313.3 769.2,312.4 770.1,311.5 771.1,310.4 772.1,309.3 773.0,308.0 774.0,306.7 774.9,305.3 775.9,303.7 776.8,302.1 777.8,300.3 778.8,298.5 779.7,296.5 780.7,294.4 781.6,292.2 782.6,289.9 783.5,287.4 784.5,284.8 785.5,282.1 786.4,279.3 787.4,276.4 788.3,273.3 789.3,270.2 790.2,266.9 791.2,263.5 792.2,260.0 793.1,256.4 794.1,252.8 795.0,249.0 796.0,245.2 796.9,241.3 797.9,237.3 798.9,233.3 799.8,229.3 800.8,225.2 801.7,221.1 802.7,217.0 803.6,212.9 804.6,208.9 805.6,204.8 806.5,200.8 807.5,196.9 808.4,193.0 809.4,189.3 810.3,185.6 811.3,182.0 812.3,178.6 813.2,175.3 814.2,172.2 815.1,169.2 816.1,166.4 817.0,163.8 818.0,161.4 819.0,159.3 819.9,157.3 820.9,155.6 821.8,154.2 822.8,153.0 823.7,152.1 824.7,151.4 825.7,151.0 826.6,151.0 827.6,151.1 828.5,151.6 829.5,152.4 830.4,153.5 831.4,154.8 832.4,156.4 833.3,158.4 834.3,160.6 835.2,163.0 836.2,165.8 837.1,168.8 838.1,172.0 839.1,175.5 840.0,179.2 841.0,183.1 841.9,187.2 842.9,191.6 843.8,196.0 844.8,200.7 845.8,205.4 846.7,210.3 847.7,215.3 848.6,220.4 849.6,225.5 850.5,230.7 851.5,235.9 852.5,241.1 853.4,246.3 854.4,251.5 855.3,256.6 856.3,261.6 857.2,266.6 858.2,271.4 859.2,276.1 860.1,280.6 861.1,285.0 862.0,289.2 863.0,293.1 863.9,296.9 864.9,300.4 865.9,303.7 866.8,306.7 867.8,309.5 868.7,312.0 869.7,314.2 870.6,316.0 871.6,317.6 872.5,318.9 873.5,319.8 874.5,320.5 875.4,320.8 876.4,320.7 877.3,320.4 878.3,319.7 879.2,318.8 880.2,317.4 881.2,315.8 882.1,313.9 883.1,311.7 884.0,309.2 885.0,306.4 885.9,303.3 886.9,300.0 887.9,296.4 888.8,292.6 889.8,288.6 890.7,284.3 891.7,279.9 892.6,275.2 893.6,270.4 894.6,265.5 895.5,260.4 896.5,255.2 897.4,249.9 898.4,244.6 899.3,239.1 900.3,233.6 901.3,228.1 902.2,222.6 903.2,217.0 904.1,211.5 905.1,206.0 906.0,200.5 907.0,195.1 908.0,189.8 908.9,184.6 909.9,179.5 910.8,174.5 911.8,169.6 912.7,164.9 913.7,160.3 914.7,155.9 915.6,151.7 916.6,147.6 917.5,143.7 918.5,140.1 919.4,136.6 920.4,133.3 921.4,130.3 922.3,127.5 923.3,124.9 924.2,122.5 925.2,120.4 926.1,118.5 927.1,116.8 928.1,115.4 929.0,114.2 930.0,113.2 930.9,112.4 931.9,111.9 932.8,111.6 933.8,111.5 934.8,111.7 935.7,112.0 936.7,112.6 937.6,113.3 938.6,114.3 939.5,115.5 940.5,116.8 941.5,118.3 942.4,120.0 943.4,121.8 944.3,123.8 945.3,126.0 946.2,128.3 947.2,130.7 948.2,133.2 949.1,135.9 950.1,138.7 951.0,141.6 952.0,144.5 952.9,147.6 953.9,150.7 954.9,153.9 955.8,157.2 956.8,160.5 957.7,163.9 958.7,167.3 959.6,170.8 960.6,174.3 961.6,177.8 962.5,181.3 963.5,184.8 964.4,188.3 965.4,191.9 966.3,195.4 967.3,198.9 968.3,202.4 969.2,205.8 970.2,209.3 971.1,212.7 972.1,216.0 973.0,219.4 974.0,222.6 975.0,225.9 975.9,229.1 976.9,232.2 977.8,235.3 978.8,238.3 979.7,241.3 980.7,244.2 981.7,247.0 982.6,249.8 983.6,252.5 984.5,255.2 985.5,257.8 986.4,260.3 987.4,262.8 988.4,265.1 989.3,267.5 990.3,269.7 991.2,271.9 992.2,274.0 993.1,276.1 994.1,278.1 995.1,280.0 996.0,281.8 997.0,283.6 997.9,285.3 998.9,287.0 999.8,288.6 1000.8,290.2 1001.8,291.7 1002.7,293.1 1003.7,294.5 1004.6,295.8 1005.6,297.0 1006.5,298.3 1007.5,299.4 1008.5,300.5 1009.4,301.6 1010.4,302.6 1011.3,303.6 1012.3,304.5 1013.2,305.4 1014.2,306.3 1015.2,307.1 1016.1,307.8 1017.1,308.6 1018.0,309.3 1019.0,309.9 1019.9,310.6 1020.9,311.2 1021.9,311.7 1022.8,312.3 1023.8,312.8 1024.7,313.3 1025.7,313.7 1026.6,314.1 1027.6,314.6 1028.6,314.9 1029.5,315.3 1030.5,315.7 1031.4,316.0 1032.4,316.3 1033.3,316.6 1034.3,316.9 1035.3,317.1 1036.2,317.4 1037.2,317.6 1038.1,317.8 1039.1,318.0 1040.0,318.2 1041.0,318.4 1042.0,318.5 1042.9,318.7 1043.9,318.8 1044.8,319.0 1045.8,319.1 1046.7,319.2 1047.7,319.3 1048.7,319.4 1049.6,319.5 1050.6,319.6 1051.5,319.7 1052.5,319.8 1053.4,319.9 1054.4,319.9 1055.4,320.0 1056.3,320.1 1057.3,320.1 1058.2,320.2 1059.2,320.2 1060.1,320.3 1061.1,320.3 1062.1,320.3 1063.0,320.4 1064.0,320.4 1064.9,320.4 1065.9,320.5 1066.8,320.5 1067.8,320.5 1068.8,320.5 1069.7,320.6 1070.7,320.6"/>
<path d="M716.5,320.8 744.3,320.8 745.3,320.7 746.2,320.7 747.2,320.7 748.1,320.7 749.1,320.7 750.0,320.6 751.0,320.6 752.0,320.5 752.9,320.5 753.9,320.4 754.8,320.4 755.8,320.3 756.7,320.2 757.7,320.0 758.7,319.9 759.6,319.8 760.6,319.6 761.5,319.4 762.5,319.1 763.4,318.9 764.4,318.6 765.4,318.3 766.3,317.9 767.3,317.5 768.2,317.0 769.2,316.5 770.1,316.0 771.1,315.4 772.1,314.7 773.0,313.9 774.0,313.1 774.9,312.2 775.9,311.3 776.8,310.2 777.8,309.1 778.8,307.9 779.7,306.6 780.7,305.2 781.6,303.7 782.6,302.1 783.5,300.4 784.5,298.5 785.5,296.6 786.4,294.5 787.4,292.4 788.3,290.1 789.3,287.7 790.2,285.2 791.2,282.5 792.2,279.8 793.1,276.9 794.1,273.9 795.0,270.8 796.0,267.6 796.9,264.3 797.9,260.9 798.9,257.4 799.8,253.8 800.8,250.1 801.7,246.3 802.7,242.5 803.6,238.6 804.6,234.6 805.6,230.6 806.5,226.6 807.5,222.5 808.4,218.5 809.4,214.4 810.3,210.3 811.3,206.3 812.3,202.3 813.2,198.4 814.2,194.5 815.1,190.7 816.1,187.0 817.0,183.4 818.0,179.9 819.0,176.5 819.9,173.3 820.9,170.3 821.8,167.4 822.8,164.7 823.7,162.2 824.7,159.9 825.7,157.8 826.6,156.0 827.6,154.4 828.5,153.1 829.5,152.0 830.4,151.1 831.4,150.6 832.4,150.3 833.3,150.3 834.3,150.6 835.2,151.2 836.2,152.1 837.1,153.2 838.1,154.6 839.1,156.4 840.0,158.4 841.0,160.7 841.9,163.2 842.9,166.0 843.8,169.1 844.8,172.4 845.8,176.0 846.7,179.7 847.7,183.7 848.6,187.9 849.6,192.2 850.5,196.8 851.5,201.4 852.5,206.3 853.4,211.2 854.4,216.2 855.3,221.3 856.3,226.5 857.2,231.7 858.2,236.9 859.2,242.1 860.1,247.3 861.1,252.4 862.0,257.5 863.0,262.6 863.9,267.5 864.9,272.3 865.9,277.0 866.8,281.5 867.8,285.8 868.7,289.9 869.7,293.9 870.6,297.6 871.6,301.1 872.5,304.3 873.5,307.3 874.5,310.0 875.4,312.4 876.4,314.6 877.3,316.4 878.3,317.9 879.2,319.1 880.2,320.0 881.2,320.6 882.1,320.8 883.1,320.7 884.0,320.3 885.0,319.6 885.9,318.5 886.9,317.1 887.9,315.5 888.8,313.5 889.8,311.2 890.7,308.6 891.7,305.8 892.6,302.6 893.6,299.3 894.6,295.6 895.5,291.8 896.5,287.7 897.4,283.4 898.4,278.9 899.3,274.2 900.3,269.4 901.3,264.4 902.2,259.3 903.2,254.1 904.1,248.8 905.1,243.4 906.0,238.0 907.0,232.4 908.0,226.9 908.9,221.4 909.9,215.8 910.8,210.3 911.8,204.8 912.7,199.4 913.7,194.0 914.7,188.7 915.6,183.6 916.6,178.5 917.5,173.5 918.5,168.7 919.4,164.0 920.4,159.5 921.4,155.1 922.3,150.9 923.3,146.9 924.2,143.1 925.2,139.5 926.1,136.1 927.1,133.0 928.1,130.0 929.0,127.2 930.0,124.7 930.9,122.4 931.9,120.4 932.8,118.6 933.8,117.0 934.8,115.6 935.7,114.5 936.7,113.6 937.6,112.9 938.6,112.5 939.5,112.3 940.5,112.3 941.5,112.5 942.4,112.9 943.4,113.6 944.3,114.4 945.3,115.4 946.2,116.7 947.2,118.1 948.2,119.7 949.1,121.4 950.1,123.3 951.0,125.4 952.0,127.6 952.9,129.9 953.9,132.4 954.9,135.0 955.8,137.7 956.8,140.6 957.7,143.5 958.7,146.5 959.6,149.6 960.6,152.8 961.6,156.0 962.5,159.3 963.5,162.7 964.4,166.1 965.4,169.5 966.3,173.0 967.3,176.5 968.3,180.0 969.2,183.5 970.2,187.0 971.1,190.5 972.1,194.1 973.0,197.6 974.0,201.1 975.0,204.6 975.9,208.0 976.9,211.4 977.8,214.8 978.8,218.2 979.7,221.5 980.7,224.7 981.7,227.9 982.6,231.1 983.6,234.2 984.5,237.3 985.5,240.2 986.4,243.2 987.4,246.1 988.4,248.9 989.3,251.6 990.3,254.3 991.2,256.9 992.2,259.5 993.1,262.0 994.1,264.4 995.1,266.7 996.0,269.0 997.0,271.2 997.9,273.4 998.9,275.4 999.8,277.4 1000.8,279.4 1001.8,281.3 1002.7,283.1 1003.7,284.8 1004.6,286.5 1005.6,288.2 1006.5,289.7 1007.5,291.2 1008.5,292.7 1009.4,294.1 1010.4,295.4 1011.3,296.7 1012.3,297.9 1013.2,299.1 1014.2,300.3 1015.2,301.3 1016.1,302.4 1017.1,303.4 1018.0,304.3 1019.0,305.2 1019.9,306.1 1020.9,306.9 1021.9,307.7 1022.8,308.4 1023.8,309.1 1024.7,309.8 1025.7,310.4 1026.6,311.0 1027.6,311.6 1028.6,312.2 1029.5,312.7 1030.5,313.2 1031.4,313.6 1032.4,314.1 1033.3,314.5 1034.3,314.9 1035.3,315.2 1036.2,315.6 1037.2,315.9 1038.1,316.2 1039.1,316.5 1040.0,316.8 1041.0,317.1 1042.0,317.3 1042.9,317.5 1043.9,317.8 1044.8,318.0 1045.8,318.2 1046.7,318.3 1047.7,318.5 1048.7,318.7 1049.6,318.8 1050.6,319.0 1051.5,319.1 1052.5,319.2 1053.4,319.3 1054.4,319.4 1055.4,319.5 1056.3,319.6 1057.3,319.7 1058.2,319.8 1059.2,319.9 1060.1,319.9 1061.1,320.0 1062.1,320.1 1063.0,320.1 1064.0,320.2 1064.9,320.2 1065.9,320.3 1066.8,320.3 1067.8,320.3 1068.8,320.4 1069.7,320.4 1070.7,320.4 1071.6,320.5 1072.6,320.5 1073.5,320.5 1074.5,320.5 1075.5,320.6 1076.4,320.6"/>
</g>
<path d="M710.8,320.8 713.7,320.8 714.6,320.7 715.6,320.6 716.5,320.5 717.5,320.3 718.5,320.1 719.4,319.7 720.4,319.3 721.3,318.7 722.3,318.1 723.2,317.3 724.2,316.4 725.2,315.3 726.1,314.1 727.1,312.8 728.0,311.2 729.0,309.5 729.9,307.6 730.9,305.6 731.9,303.3 732.8,300.9 733.8,298.3 734.7,295.5 735.7,292.5 736.6,289.4 737.6,286.0 738.6,282.5 739.5,278.9 740.5,275.1 741.4,271.2 742.4,267.1 743.3,262.9 744.3,258.6 745.3,254.2 746.2,249.7 747.2,245.1 748.1,240.6 749.1,235.9 750.0,231.3 751.0,226.6 752.0,222.0 752.9,217.4 753.9,212.9 754.8,208.4 755.8,204.0 756.7,199.8 757.7,195.6 758.7,191.6 759.6,187.8 760.6,184.1 761.5,180.7 762.5,177.4 763.4,174.4 764.4,171.6 765.4,169.1 766.3,166.8 767.3,164.8 768.2,163.0 769.2,161.6 770.1,160.5 771.1,159.6 772.1,159.1 773.0,158.9 774.0,159.0 774.9,159.4 775.9,160.2 776.8,161.2 777.8,162.6 778.8,164.3 779.7,166.3 780.7,168.5 781.6,171.1 782.6,173.9 783.5,177.0 784.5,180.3 785.5,183.9 786.4,187.7 787.4,191.7 788.3,195.9 789.3,200.3 790.2,204.8 791.2,209.5 792.2,214.3 793.1,219.2 794.1,224.2 795.0,229.2 796.0,234.3 796.9,239.4 797.9,244.5 798.9,249.6 799.8,254.6 800.8,259.6 801.7,264.5 802.7,269.3 803.6,274.0 804.6,278.6 805.6,283.0 806.5,287.2 807.5,291.2 808.4,295.1 809.4,298.7 810.3,302.0 811.3,305.2 812.3,308.0 813.2,310.6 814.2,313.0 815.1,315.0 816.1,316.7 817.0,318.2 818.0,319.3 819.0,320.1 819.9,320.6 820.9,320.8 821.8,320.7 822.8,320.2 823.7,319.4 824.7,318.4 825.7,317.0 826.6,315.3 827.6,313.3 828.5,311.0 829.5,308.4 830.4,305.6 831.4,302.5 832.4,299.1 833.3,295.5 834.3,291.7 835.2,287.7 836.2,283.4 837.1,278.9 838.1,274.3 839.1,269.5 840.0,264.6 841.0,259.5 841.9,254.3 842.9,249.0 843.8,243.6 844.8,238.2 845.8,232.7 846.7,227.1 847.7,221.6 848.6,216.0 849.6,210.4 850.5,204.9 851.5,199.3 852.5,193.9 853.4,188.5 854.4,183.2 855.3,177.9 856.3,172.8 857.2,167.8 858.2,162.9 859.2,158.2 860.1,153.6 861.1,149.1 862.0,144.9 863.0,140.8 863.9,136.9 864.9,133.1 865.9,129.6 866.8,126.3 867.8,123.2 868.7,120.3 869.7,117.6 870.6,115.1 871.6,112.9 872.5,110.8 873.5,109.0 874.5,107.5 875.4,106.1 876.4,105.0 877.3,104.1 878.3,103.4 879.2,102.9 880.2,102.6 881.2,102.6 882.1,102.7 883.1,103.1 884.0,103.7 885.0,104.4 885.9,105.4 886.9,106.5 887.9,107.8 888.8,109.3 889.8,110.9 890.7,112.7 891.7,114.7 892.6,116.8 893.6,119.0 894.6,121.4 895.5,123.9 896.5,126.5 897.4,129.2 898.4,132.0 899.3,134.9 900.3,137.9 901.3,141.0 902.2,144.1 903.2,147.4 904.1,150.6 905.1,154.0 906.0,157.3 907.0,160.8 908.0,164.2 908.9,167.7 909.9,171.2 910.8,174.7 911.8,178.2 912.7,181.7 913.7,185.3 914.7,188.8 915.6,192.3 916.6,195.8 917.5,199.2 918.5,202.7 919.4,206.1 920.4,209.5 921.4,212.8 922.3,216.1 923.3,219.4 924.2,222.6 925.2,225.8 926.1,228.9 927.1,232.0 928.1,235.0 929.0,237.9 930.0,240.8 930.9,243.7 931.9,246.5 932.8,249.2 933.8,251.9 934.8,254.4 935.7,257.0 936.7,259.5 937.6,261.9 938.6,264.2 939.5,266.5 940.5,268.7 941.5,270.8 942.4,272.9 943.4,274.9 944.3,276.9 945.3,278.8 946.2,280.6 947.2,282.4 948.2,284.1 949.1,285.8 950.1,287.4 951.0,288.9 952.0,290.4 952.9,291.8 953.9,293.2 954.9,294.5 955.8,295.8 956.8,297.0 957.7,298.2 958.7,299.3 959.6,300.4 960.6,301.4 961.6,302.4 962.5,303.4 963.5,304.3 964.4,305.1 965.4,306.0 966.3,306.8 967.3,307.5 968.3,308.2 969.2,308.9 970.2,309.6 971.1,310.2 972.1,310.8 973.0,311.4 974.0,311.9 975.0,312.4 975.9,312.9 976.9,313.4 977.8,313.8 978.8,314.2 979.7,314.6 980.7,315.0 981.7,315.3 982.6,315.7 983.6,316.0 984.5,316.3 985.5,316.5 986.4,316.8 987.4,317.1 988.4,317.3 989.3,317.5 990.3,317.7 991.2,317.9 992.2,318.1 993.1,318.3 994.1,318.5 995.1,318.6 996.0,318.8 997.0,318.9 997.9,319.0 998.9,319.1 999.8,319.3 1000.8,319.4 1001.8,319.5 1002.7,319.6 1003.7,319.6 1004.6,319.7 1005.6,319.8 1006.5,319.9 1007.5,319.9 1008.5,320.0 1009.4,320.1 1010.4,320.1 1011.3,320.2 1012.3,320.2 1013.2,320.2 1014.2,320.3 1015.2,320.3 1016.1,320.4 1017.1,320.4 1018.0,320.4 1019.0,320.5 1019.9,320.5 1020.9,320.5 1021.9,320.5 1022.8,320.5 1023.8,320.6 1024.7,320.6 1025.7,320.6 1026.6,320.6 1027.6,320.6 1028.6,320.6 1029.5,320.7 1030.5,320.7 1031.4,320.7 1032.4,320.7 1033.3,320.7 1034.3,320.7 1035.3,320.7 1036.2,320.7 1037.2,320.7 1038.1,320.7 1039.1,320.7 1040.0,320.7 1041.0,320.7 1189.3,320.8" fill="none" stroke="#000" stroke-width="1.65" stroke-linejoin="round"/>
<rect x="700.50" y="15.40" width="498.80" height="308.05" fill="none" stroke="#000" stroke-width="0.85"/>
<path d="M710.45,323.45v-6M806.17,323.45v-6M901.89,323.45v-6M997.61,323.45v-6M1093.33,323.45v-6M1189.05,323.45v-6M700.50,320.80h5.7M700.50,269.90h5.7M700.50,219.00h5.7M700.50,168.10h5.7M700.50,117.20h5.7M700.50,66.30h5.7M700.50,15.40h5.7" fill="none" stroke="#000" stroke-width="0.9"/>
<text x="645.90" y="326.70" font-size="24" textLength="49.3" lengthAdjust="spacingAndGlyphs">0.000</text>
<text x="645.90" y="275.80" font-size="24" textLength="49.3" lengthAdjust="spacingAndGlyphs">0.020</text>
<text x="645.90" y="224.90" font-size="24" textLength="49.3" lengthAdjust="spacingAndGlyphs">0.040</text>
<text x="645.90" y="174.00" font-size="24" textLength="49.3" lengthAdjust="spacingAndGlyphs">0.060</text>
<text x="645.90" y="123.10" font-size="24" textLength="49.3" lengthAdjust="spacingAndGlyphs">0.080</text>
<text x="645.90" y="72.20" font-size="24" textLength="49.3" lengthAdjust="spacingAndGlyphs">0.100</text>
<text x="645.90" y="21.30" font-size="24" textLength="49.3" lengthAdjust="spacingAndGlyphs">0.120</text>
<g font-size="22"><text x="1017.7" y="51.3" font-size="25.6" textLength="7.3" lengthAdjust="spacingAndGlyphs">(</text><text class="i" x="1024.5" y="51.3" font-size="23.5">b</text><text x="1036.1" y="51.3" font-size="25.6" textLength="7.3" lengthAdjust="spacingAndGlyphs">)</text><text class="i" x="1051.3" y="51.3" font-size="23.5">n</text><text x="1093.3" y="51.3">1,</text><text class="i" x="1122.1" y="51.3" font-size="23.5" textLength="18.0" lengthAdjust="spacingAndGlyphs">m</text><text x="1170.3" y="51.3">0</text><path d="M1070.9,42.5h15.6m-15.6,4.9h15.6M1147.9,42.5h15.6m-15.6,4.9h15.6" stroke="#000" stroke-width="1.05" fill="none"/></g>
</g>
<g>
<path d="M106.25,418.40V723.40M201.90,418.40V723.40M297.55,418.40V723.40M393.20,418.40V723.40M488.85,418.40V723.40M584.50,418.40V723.40M104.20,669.46H594.50M104.20,618.52H594.50M104.20,567.58H594.50M104.20,516.64H594.50M104.20,465.70H594.50M104.20,720.50H594.50" fill="none" stroke="#e9e9e9" stroke-width="0.85" stroke-dasharray="4.17 4.17"/>
<g fill="none" stroke="#00a500" stroke-width="1.4" stroke-linejoin="round">
<path d="M111.0,720.3 112.0,720.2 112.9,720.0 113.9,719.6 114.9,719.2 115.8,718.7 116.8,718.0 117.7,717.2 118.7,716.3 119.6,715.1 120.6,713.8 121.6,712.3 122.5,710.6 123.5,708.6 124.4,706.5 125.4,704.1 126.3,701.6 127.3,698.8 128.2,695.8 129.2,692.6 130.2,689.1 131.1,685.5 132.1,681.8 133.0,677.8 134.0,673.7 134.9,669.5 135.9,665.1 136.9,660.7 137.8,656.2 138.8,651.7 139.7,647.1 140.7,642.5 141.6,638.0 142.6,633.5 143.6,629.1 144.5,624.8 145.5,620.7 146.4,616.7 147.4,612.9 148.3,609.3 149.3,606.0 150.2,602.9 151.2,600.2 152.2,597.7 153.1,595.6 154.1,593.8 155.0,592.3 156.0,591.3 156.9,590.6 157.9,590.3 158.9,590.4 159.8,590.8 160.8,591.7 161.7,593.0 162.7,594.7 163.6,596.7 164.6,599.1 165.6,601.9 166.5,605.0 167.5,608.4 168.4,612.1 169.4,616.1 170.3,620.4 171.3,624.9 172.2,629.5 173.2,634.4 174.2,639.4 175.1,644.5 176.1,649.6 177.0,654.9 178.0,660.1 178.9,665.3 179.9,670.4 180.9,675.4 181.8,680.3 182.8,685.1 183.7,689.6 184.7,694.0 185.6,698.1 186.6,701.9 187.6,705.4 188.5,708.6 189.5,711.4 190.4,713.9 191.4,716.0 192.3,717.7 193.3,719.0 194.2,719.9 195.2,720.4 196.2,720.5 197.1,720.1 198.1,719.3 199.0,718.1 200.0,716.5 200.9,714.5 201.9,712.1 202.9,709.4 203.8,706.3 204.8,702.8 205.7,699.1 206.7,695.1 207.6,690.8 208.6,686.2 209.6,681.5 210.5,676.6 211.5,671.6 212.4,666.4 213.4,661.2 214.3,655.9 215.3,650.6 216.2,645.4 217.2,640.1 218.2,635.0 219.1,630.0 220.1,625.1 221.0,620.4 222.0,615.9 222.9,611.6 223.9,607.6 224.9,603.8 225.8,600.3 226.8,597.2 227.7,594.4 228.7,592.0 229.6,589.9 230.6,588.2 231.6,586.8 232.5,585.9 233.5,585.3 234.4,585.2 235.4,585.4 236.3,586.1 237.3,587.1 238.2,588.5 239.2,590.3 240.2,592.4 241.1,594.9 242.1,597.7 243.0,600.8 244.0,604.2 244.9,607.9 245.9,611.8 246.9,615.9 247.8,620.3 248.8,624.8 249.7,629.5 250.7,634.3 251.6,639.2 252.6,644.1 253.6,649.2 254.5,654.2 255.5,659.2 256.4,664.1 257.4,669.0 258.3,673.8 259.3,678.5 260.2,683.0 261.2,687.4 262.2,691.6 263.1,695.5 264.1,699.3 265.0,702.7 266.0,705.9 266.9,708.9 267.9,711.5 268.9,713.8 269.8,715.8 270.8,717.4 271.7,718.7 272.7,719.6 273.6,720.2 274.6,720.5 275.6,720.4 276.5,719.9 277.5,719.1 278.4,717.9 279.4,716.4 280.3,714.5 281.3,712.4 282.2,709.8 283.2,707.0 284.2,703.9 285.1,700.5 286.1,696.8 287.0,692.9 288.0,688.7 288.9,684.3 289.9,679.7 290.9,674.9 291.8,670.0 292.8,664.9 293.7,659.6 294.7,654.3 295.6,648.8 296.6,643.3 297.5,637.7 298.5,632.1 299.5,626.5 300.4,620.8 301.4,615.2 302.3,609.7 303.3,604.1 304.2,598.7 305.2,593.3 306.2,588.1 307.1,583.0 308.1,578.0 309.0,573.1 310.0,568.4 310.9,563.9 311.9,559.6 312.9,555.4 313.8,551.5 314.8,547.7 315.7,544.2 316.7,540.9 317.6,537.9 318.6,535.1 319.5,532.5 320.5,530.1 321.5,528.0 322.4,526.2 323.4,524.5 324.3,523.2 325.3,522.0 326.2,521.1 327.2,520.5 328.2,520.1 329.1,519.9 330.1,520.0 331.0,520.2 332.0,520.7 332.9,521.4 333.9,522.3 334.9,523.4 335.8,524.7 336.8,526.2 337.7,527.9 338.7,529.7 339.6,531.7 340.6,533.8 341.5,536.1 342.5,538.5 343.5,541.1 344.4,543.8 345.4,546.5 346.3,549.4 347.3,552.4 348.2,555.5 349.2,558.6 350.2,561.8 351.1,565.1 352.1,568.4 353.0,571.8 354.0,575.2 354.9,578.6 355.9,582.0 356.9,585.5 357.8,589.0 358.8,592.5 359.7,596.0 360.7,599.5 361.6,602.9 362.6,606.4 363.5,609.8 364.5,613.2 365.5,616.5 366.4,619.9 367.4,623.1 368.3,626.4 369.3,629.6 370.2,632.7 371.2,635.8 372.2,638.8 373.1,641.8 374.1,644.7 375.0,647.6 376.0,650.4 376.9,653.1 377.9,655.7 378.9,658.3 379.8,660.8 380.8,663.3 381.7,665.7 382.7,668.0 383.6,670.3 384.6,672.4 385.5,674.6 386.5,676.6 387.5,678.6 388.4,680.5 389.4,682.3 390.3,684.1 391.3,685.9 392.2,687.5 393.2,689.1 394.2,690.6 395.1,692.1 396.1,693.5 397.0,694.9 398.0,696.2 398.9,697.5 399.9,698.7 400.9,699.8 401.8,700.9 402.8,701.9 403.7,703.0 404.7,703.9 405.6,704.8 406.6,705.7 407.5,706.5 408.5,707.3 409.5,708.1 410.4,708.8 411.4,709.5 412.3,710.1 413.3,710.7 414.2,711.3 415.2,711.9 416.2,712.4 417.1,712.9 418.1,713.3 419.0,713.8 420.0,714.2 420.9,714.6 421.9,715.0 422.9,715.3 423.8,715.6 424.8,716.0 425.7,716.3 426.7,716.5 427.6,716.8 428.6,717.0 429.5,717.3 430.5,717.5 431.5,717.7 432.4,717.9 433.4,718.1 434.3,718.2 435.3,718.4 436.2,718.5 437.2,718.7 438.2,718.8 439.1,718.9 440.1,719.0 441.0,719.1 442.0,719.2 442.9,719.3 443.9,719.4 444.9,719.5 445.8,719.6 446.8,719.6 447.7,719.7 448.7,719.8 449.6,719.8 450.6,719.9 451.5,719.9 452.5,720.0 453.5,720.0 454.4,720.0 455.4,720.1 456.3,720.1 457.3,720.1 458.2,720.2 459.2,720.2 460.2,720.2 461.1,720.2 462.1,720.3 463.0,720.3"/>
<path d="M111.0,720.4 112.0,720.4 112.9,720.3 113.9,720.1 114.9,719.9 115.8,719.6 116.8,719.3 117.7,718.8 118.7,718.3 119.6,717.6 120.6,716.8 121.6,715.8 122.5,714.7 123.5,713.4 124.4,712.0 125.4,710.3 126.3,708.5 127.3,706.5 128.2,704.2 129.2,701.8 130.2,699.2 131.1,696.3 132.1,693.3 133.0,690.1 134.0,686.7 134.9,683.1 135.9,679.3 136.9,675.4 137.8,671.4 138.8,667.2 139.7,663.0 140.7,658.6 141.6,654.2 142.6,649.7 143.6,645.2 144.5,640.7 145.5,636.3 146.4,631.9 147.4,627.6 148.3,623.4 149.3,619.3 150.2,615.4 151.2,611.7 152.2,608.2 153.1,604.9 154.1,601.8 155.0,599.1 156.0,596.6 156.9,594.5 157.9,592.7 158.9,591.3 159.8,590.2 160.8,589.4 161.7,589.1 162.7,589.1 163.6,589.6 164.6,590.4 165.6,591.6 166.5,593.2 167.5,595.2 168.4,597.5 169.4,600.2 170.3,603.3 171.3,606.6 172.2,610.3 173.2,614.2 174.2,618.4 175.1,622.9 176.1,627.5 177.0,632.3 178.0,637.3 178.9,642.3 179.9,647.5 180.9,652.7 181.8,658.0 182.8,663.2 183.7,668.3 184.7,673.4 185.6,678.4 186.6,683.2 187.6,687.9 188.5,692.3 189.5,696.5 190.4,700.4 191.4,704.0 192.3,707.4 193.3,710.4 194.2,713.0 195.2,715.2 196.2,717.1 197.1,718.6 198.1,719.6 199.0,720.3 200.0,720.5 200.9,720.3 201.9,719.7 202.9,718.6 203.8,717.2 204.8,715.3 205.7,713.1 206.7,710.5 207.6,707.5 208.6,704.2 209.6,700.6 210.5,696.6 211.5,692.5 212.4,688.0 213.4,683.4 214.3,678.5 215.3,673.6 216.2,668.4 217.2,663.2 218.2,658.0 219.1,652.7 220.1,647.4 221.0,642.2 222.0,637.0 222.9,631.9 223.9,627.0 224.9,622.2 225.8,617.7 226.8,613.3 227.7,609.2 228.7,605.3 229.6,601.8 230.6,598.6 231.6,595.6 232.5,593.1 233.5,590.9 234.4,589.0 235.4,587.6 236.3,586.5 237.3,585.9 238.2,585.6 239.2,585.7 240.2,586.3 241.1,587.2 242.1,588.5 243.0,590.1 244.0,592.2 244.9,594.5 245.9,597.3 246.9,600.3 247.8,603.6 248.8,607.2 249.7,611.1 250.7,615.2 251.6,619.5 252.6,624.0 253.6,628.6 254.5,633.4 255.5,638.3 256.4,643.2 257.4,648.2 258.3,653.2 259.3,658.2 260.2,663.2 261.2,668.1 262.2,672.9 263.1,677.7 264.1,682.2 265.0,686.6 266.0,690.8 266.9,694.8 267.9,698.6 268.9,702.1 269.8,705.4 270.8,708.4 271.7,711.0 272.7,713.4 273.6,715.4 274.6,717.1 275.6,718.5 276.5,719.5 277.5,720.2 278.4,720.5 279.4,720.4 280.3,720.0 281.3,719.2 282.2,718.1 283.2,716.6 284.2,714.8 285.1,712.7 286.1,710.2 287.0,707.4 288.0,704.4 288.9,701.0 289.9,697.4 290.9,693.4 291.8,689.3 292.8,684.9 293.7,680.4 294.7,675.6 295.6,670.6 296.6,665.5 297.5,660.3 298.5,655.0 299.5,649.5 300.4,644.0 301.4,638.4 302.3,632.8 303.3,627.2 304.2,621.5 305.2,615.9 306.2,610.3 307.1,604.8 308.1,599.4 309.0,594.0 310.0,588.8 310.9,583.6 311.9,578.6 312.9,573.8 313.8,569.1 314.8,564.6 315.7,560.2 316.7,556.1 317.6,552.1 318.6,548.4 319.5,544.9 320.5,541.6 321.5,538.5 322.4,535.7 323.4,533.1 324.3,530.8 325.3,528.7 326.2,526.8 327.2,525.2 328.2,523.9 329.1,522.8 330.1,521.9 331.0,521.2 332.0,520.8 332.9,520.7 333.9,520.7 334.9,521.0 335.8,521.5 336.8,522.2 337.7,523.2 338.7,524.3 339.6,525.6 340.6,527.1 341.5,528.8 342.5,530.6 343.5,532.6 344.4,534.8 345.4,537.1 346.3,539.5 347.3,542.1 348.2,544.8 349.2,547.5 350.2,550.4 351.1,553.4 352.1,556.5 353.0,559.6 354.0,562.9 354.9,566.1 355.9,569.5 356.9,572.8 357.8,576.2 358.8,579.7 359.7,583.1 360.7,586.6 361.6,590.1 362.6,593.6 363.5,597.1 364.5,600.5 365.5,604.0 366.4,607.4 367.4,610.9 368.3,614.2 369.3,617.6 370.2,620.9 371.2,624.2 372.2,627.4 373.1,630.6 374.1,633.7 375.0,636.8 376.0,639.8 376.9,642.8 377.9,645.7 378.9,648.5 379.8,651.3 380.8,654.0 381.7,656.6 382.7,659.2 383.6,661.7 384.6,664.1 385.5,666.5 386.5,668.8 387.5,671.0 388.4,673.2 389.4,675.3 390.3,677.3 391.3,679.3 392.2,681.2 393.2,683.0 394.2,684.8 395.1,686.5 396.1,688.1 397.0,689.7 398.0,691.2 398.9,692.7 399.9,694.1 400.9,695.4 401.8,696.7 402.8,697.9 403.7,699.1 404.7,700.2 405.6,701.3 406.6,702.4 407.5,703.3 408.5,704.3 409.5,705.2 410.4,706.0 411.4,706.9 412.3,707.6 413.3,708.4 414.2,709.1 415.2,709.7 416.2,710.4 417.1,711.0 418.1,711.5 419.0,712.1 420.0,712.6 420.9,713.1 421.9,713.5 422.9,714.0 423.8,714.4 424.8,714.8 425.7,715.1 426.7,715.5 427.6,715.8 428.6,716.1 429.5,716.4 430.5,716.7 431.5,716.9 432.4,717.2 433.4,717.4 434.3,717.6 435.3,717.8 436.2,718.0 437.2,718.1 438.2,718.3 439.1,718.5 440.1,718.6 441.0,718.7 442.0,718.9 442.9,719.0 443.9,719.1 444.9,719.2 445.8,719.3 446.8,719.4 447.7,719.5 448.7,719.5 449.6,719.6 450.6,719.7 451.5,719.7 452.5,719.8 453.5,719.9 454.4,719.9 455.4,719.9 456.3,720.0 457.3,720.0 458.2,720.1 459.2,720.1 460.2,720.1 461.1,720.2 462.1,720.2 463.0,720.2 464.0,720.2 464.9,720.3 465.9,720.3"/>
<path d="M111.0,720.5 112.0,720.5 112.9,720.4 113.9,720.4 114.9,720.3 115.8,720.2 116.8,720.1 117.7,719.9 118.7,719.6 119.6,719.3 120.6,719.0 121.6,718.5 122.5,717.9 123.5,717.3 124.4,716.5 125.4,715.6 126.3,714.5 127.3,713.3 128.2,712.0 129.2,710.4 130.2,708.8 131.1,706.9 132.1,704.9 133.0,702.6 134.0,700.2 134.9,697.6 135.9,694.8 136.9,691.9 137.8,688.7 138.8,685.4 139.7,681.9 140.7,678.3 141.6,674.5 142.6,670.5 143.6,666.5 144.5,662.3 145.5,658.1 146.4,653.8 147.4,649.4 148.3,645.1 149.3,640.7 150.2,636.3 151.2,632.0 152.2,627.7 153.1,623.6 154.1,619.5 155.0,615.6 156.0,611.8 156.9,608.3 157.9,604.9 158.9,601.8 159.8,599.0 160.8,596.4 161.7,594.1 162.7,592.2 163.6,590.5 164.6,589.3 165.6,588.3 166.5,587.8 167.5,587.6 168.4,587.8 169.4,588.3 170.3,589.3 171.3,590.6 172.2,592.3 173.2,594.4 174.2,596.8 175.1,599.6 176.1,602.8 177.0,606.2 178.0,609.9 178.9,613.9 179.9,618.2 180.9,622.7 181.8,627.3 182.8,632.2 183.7,637.2 184.7,642.3 185.6,647.5 186.6,652.7 187.6,658.0 188.5,663.2 189.5,668.4 190.4,673.5 191.4,678.5 192.3,683.3 193.3,687.9 194.2,692.4 195.2,696.5 196.2,700.5 197.1,704.1 198.1,707.4 199.0,710.4 200.0,713.0 200.9,715.3 201.9,717.1 202.9,718.6 203.8,719.7 204.8,720.3 205.7,720.5 206.7,720.3 207.6,719.7 208.6,718.6 209.6,717.2 210.5,715.3 211.5,713.0 212.4,710.4 213.4,707.4 214.3,704.1 215.3,700.5 216.2,696.6 217.2,692.4 218.2,687.9 219.1,683.3 220.1,678.4 221.0,673.4 222.0,668.3 222.9,663.1 223.9,657.9 224.9,652.6 225.8,647.3 226.8,642.1 227.7,636.9 228.7,631.9 229.6,627.0 230.6,622.2 231.6,617.7 232.5,613.3 233.5,609.2 234.4,605.4 235.4,601.9 236.3,598.7 237.3,595.8 238.2,593.3 239.2,591.1 240.2,589.4 241.1,588.0 242.1,586.9 243.0,586.3 244.0,586.1 244.9,586.3 245.9,586.9 246.9,587.8 247.8,589.2 248.8,590.9 249.7,593.0 250.7,595.4 251.6,598.2 252.6,601.3 253.6,604.6 254.5,608.3 255.5,612.2 256.4,616.3 257.4,620.7 258.3,625.2 259.3,629.9 260.2,634.7 261.2,639.5 262.2,644.5 263.1,649.5 264.1,654.5 265.0,659.5 266.0,664.5 266.9,669.4 267.9,674.2 268.9,678.9 269.8,683.4 270.8,687.8 271.7,691.9 272.7,695.9 273.6,699.6 274.6,703.1 275.6,706.3 276.5,709.2 277.5,711.7 278.4,714.0 279.4,716.0 280.3,717.6 281.3,718.8 282.2,719.8 283.2,720.3 284.2,720.5 285.1,720.3 286.1,719.8 287.0,718.9 288.0,717.7 288.9,716.1 289.9,714.2 290.9,711.9 291.8,709.4 292.8,706.5 293.7,703.3 294.7,699.8 295.6,696.1 296.6,692.1 297.5,687.9 298.5,683.4 299.5,678.8 300.4,673.9 301.4,668.9 302.3,663.8 303.3,658.5 304.2,653.1 305.2,647.6 306.2,642.1 307.1,636.5 308.1,630.8 309.0,625.2 310.0,619.6 310.9,614.0 311.9,608.4 312.9,603.0 313.8,597.5 314.8,592.2 315.7,587.0 316.7,582.0 317.6,577.0 318.6,572.2 319.5,567.6 320.5,563.2 321.5,559.0 322.4,554.9 323.4,551.1 324.3,547.5 325.3,544.1 326.2,540.9 327.2,537.9 328.2,535.3 329.1,532.8 330.1,530.6 331.0,528.6 332.0,526.9 332.9,525.4 333.9,524.2 334.9,523.2 335.8,522.5 336.8,522.0 337.7,521.7 338.7,521.7 339.6,521.9 340.6,522.3 341.5,522.9 342.5,523.8 343.5,524.8 344.4,526.0 345.4,527.5 346.3,529.1 347.3,530.9 348.2,532.8 349.2,534.9 350.2,537.2 351.1,539.5 352.1,542.1 353.0,544.7 354.0,547.5 354.9,550.3 355.9,553.3 356.9,556.3 357.8,559.5 358.8,562.6 359.7,565.9 360.7,569.2 361.6,572.6 362.6,576.0 363.5,579.4 364.5,582.9 365.5,586.3 366.4,589.8 367.4,593.3 368.3,596.8 369.3,600.3 370.2,603.7 371.2,607.2 372.2,610.6 373.1,614.0 374.1,617.3 375.0,620.7 376.0,623.9 376.9,627.2 377.9,630.4 378.9,633.5 379.8,636.6 380.8,639.6 381.7,642.6 382.7,645.5 383.6,648.3 384.6,651.1 385.5,653.8 386.5,656.5 387.5,659.1 388.4,661.6 389.4,664.0 390.3,666.4 391.3,668.7 392.2,671.0 393.2,673.1 394.2,675.3 395.1,677.3 396.1,679.3 397.0,681.2 398.0,683.0 398.9,684.8 399.9,686.5 400.9,688.1 401.8,689.7 402.8,691.2 403.7,692.7 404.7,694.1 405.6,695.4 406.6,696.7 407.5,698.0 408.5,699.1 409.5,700.3 410.4,701.4 411.4,702.4 412.3,703.4 413.3,704.3 414.2,705.2 415.2,706.1 416.2,706.9 417.1,707.7 418.1,708.4 419.0,709.1 420.0,709.8 420.9,710.4 421.9,711.0 422.9,711.6 423.8,712.1 424.8,712.6 425.7,713.1 426.7,713.6 427.6,714.0 428.6,714.4 429.5,714.8 430.5,715.2 431.5,715.5 432.4,715.8 433.4,716.1 434.3,716.4 435.3,716.7 436.2,717.0 437.2,717.2 438.2,717.4 439.1,717.6 440.1,717.8 441.0,718.0 442.0,718.2 442.9,718.3 443.9,718.5 444.9,718.6 445.8,718.8 446.8,718.9 447.7,719.0 448.7,719.1 449.6,719.2 450.6,719.3 451.5,719.4 452.5,719.5 453.5,719.6 454.4,719.6 455.4,719.7 456.3,719.8 457.3,719.8 458.2,719.9 459.2,719.9 460.2,720.0 461.1,720.0 462.1,720.0 463.0,720.1 464.0,720.1 464.9,720.1 465.9,720.2 466.9,720.2 467.8,720.2 468.8,720.2 469.7,720.3 470.7,720.3"/>
<path d="M111.0,720.5 114.9,720.5 115.8,720.4 116.8,720.4 117.7,720.3 118.7,720.2 119.6,720.1 120.6,720.0 121.6,719.8 122.5,719.6 123.5,719.3 124.4,718.9 125.4,718.5 126.3,718.0 127.3,717.4 128.2,716.7 129.2,716.0 130.2,715.0 131.1,714.0 132.1,712.9 133.0,711.6 134.0,710.1 134.9,708.5 135.9,706.7 136.9,704.8 137.8,702.7 138.8,700.4 139.7,698.0 140.7,695.4 141.6,692.6 142.6,689.6 143.6,686.5 144.5,683.2 145.5,679.8 146.4,676.2 147.4,672.4 148.3,668.6 149.3,664.6 150.2,660.5 151.2,656.4 152.2,652.2 153.1,647.9 154.1,643.6 155.0,639.3 156.0,635.0 156.9,630.8 157.9,626.6 158.9,622.5 159.8,618.5 160.8,614.6 161.7,610.9 162.7,607.4 163.6,604.0 164.6,600.9 165.6,598.1 166.5,595.5 167.5,593.1 168.4,591.1 169.4,589.4 170.3,588.0 171.3,587.0 172.2,586.3 173.2,586.0 174.2,586.1 175.1,586.5 176.1,587.3 177.0,588.5 178.0,590.1 178.9,592.0 179.9,594.3 180.9,596.9 181.8,599.9 182.8,603.2 183.7,606.8 184.7,610.6 185.6,614.8 186.6,619.1 187.6,623.7 188.5,628.5 189.5,633.5 190.4,638.5 191.4,643.7 192.3,648.9 193.3,654.2 194.2,659.4 195.2,664.7 196.2,669.8 197.1,674.9 198.1,679.8 199.0,684.6 200.0,689.2 200.9,693.6 201.9,697.7 202.9,701.5 203.8,705.1 204.8,708.3 205.7,711.2 206.7,713.7 207.6,715.9 208.6,717.6 209.6,718.9 210.5,719.9 211.5,720.4 212.4,720.5 213.4,720.2 214.3,719.4 215.3,718.2 216.2,716.7 217.2,714.7 218.2,712.3 219.1,709.6 220.1,706.5 221.0,703.1 222.0,699.4 222.9,695.4 223.9,691.1 224.9,686.6 225.8,681.9 226.8,677.0 227.7,672.0 228.7,666.9 229.6,661.6 230.6,656.4 231.6,651.1 232.5,645.8 233.5,640.6 234.4,635.5 235.4,630.5 236.3,625.7 237.3,621.0 238.2,616.5 239.2,612.2 240.2,608.3 241.1,604.5 242.1,601.1 243.0,598.1 244.0,595.3 244.9,592.9 245.9,590.9 246.9,589.3 247.8,588.0 248.8,587.2 249.7,586.7 250.7,586.6 251.6,587.0 252.6,587.7 253.6,588.8 254.5,590.3 255.5,592.2 256.4,594.4 257.4,597.0 258.3,599.9 259.3,603.1 260.2,606.6 261.2,610.4 262.2,614.4 263.1,618.6 264.1,623.0 265.0,627.6 266.0,632.4 266.9,637.2 267.9,642.1 268.9,647.1 269.8,652.1 270.8,657.2 271.7,662.2 272.7,667.1 273.6,672.0 274.6,676.7 275.6,681.3 276.5,685.8 277.5,690.0 278.4,694.1 279.4,697.9 280.3,701.5 281.3,704.8 282.2,707.9 283.2,710.6 284.2,713.0 285.1,715.1 286.1,716.9 287.0,718.3 288.0,719.4 288.9,720.1 289.9,720.5 290.9,720.5 291.8,720.1 292.8,719.3 293.7,718.3 294.7,716.8 295.6,715.0 296.6,712.9 297.5,710.5 298.5,707.7 299.5,704.6 300.4,701.3 301.4,697.6 302.3,693.7 303.3,689.6 304.2,685.2 305.2,680.6 306.2,675.9 307.1,670.9 308.1,665.8 309.0,660.6 310.0,655.2 310.9,649.8 311.9,644.2 312.9,638.7 313.8,633.0 314.8,627.4 315.7,621.8 316.7,616.2 317.6,610.6 318.6,605.1 319.5,599.7 320.5,594.3 321.5,589.1 322.4,584.0 323.4,579.0 324.3,574.2 325.3,569.5 326.2,565.1 327.2,560.8 328.2,556.7 329.1,552.8 330.1,549.1 331.0,545.7 332.0,542.5 332.9,539.5 333.9,536.7 334.9,534.2 335.8,532.0 336.8,530.0 337.7,528.2 338.7,526.7 339.6,525.4 340.6,524.4 341.5,523.6 342.5,523.1 343.5,522.8 344.4,522.7 345.4,522.9 346.3,523.3 347.3,523.9 348.2,524.7 349.2,525.7 350.2,526.9 351.1,528.3 352.1,529.9 353.0,531.7 354.0,533.6 354.9,535.7 355.9,538.0 356.9,540.3 357.8,542.9 358.8,545.5 359.7,548.2 360.7,551.1 361.6,554.0 362.6,557.1 363.5,560.2 364.5,563.4 365.5,566.7 366.4,570.0 367.4,573.3 368.3,576.7 369.3,580.1 370.2,583.6 371.2,587.1 372.2,590.6 373.1,594.0 374.1,597.5 375.0,601.0 376.0,604.5 376.9,607.9 377.9,611.3 378.9,614.7 379.8,618.1 380.8,621.4 381.7,624.7 382.7,627.9 383.6,631.1 384.6,634.2 385.5,637.3 386.5,640.3 387.5,643.3 388.4,646.2 389.4,649.0 390.3,651.8 391.3,654.5 392.2,657.2 393.2,659.7 394.2,662.2 395.1,664.7 396.1,667.0 397.0,669.3 398.0,671.6 398.9,673.7 399.9,675.8 400.9,677.8 401.8,679.8 402.8,681.7 403.7,683.5 404.7,685.3 405.6,687.0 406.6,688.6 407.5,690.2 408.5,691.7 409.5,693.1 410.4,694.5 411.4,695.9 412.3,697.1 413.3,698.4 414.2,699.5 415.2,700.7 416.2,701.7 417.1,702.7 418.1,703.7 419.0,704.7 420.0,705.5 420.9,706.4 421.9,707.2 422.9,708.0 423.8,708.7 424.8,709.4 425.7,710.0 426.7,710.7 427.6,711.2 428.6,711.8 429.5,712.3 430.5,712.8 431.5,713.3 432.4,713.8 433.4,714.2 434.3,714.6 435.3,715.0 436.2,715.3 437.2,715.7 438.2,716.0 439.1,716.3 440.1,716.5 441.0,716.8 442.0,717.1 442.9,717.3 443.9,717.5 444.9,717.7 445.8,717.9 446.8,718.1 447.7,718.3 448.7,718.4 449.6,718.6 450.6,718.7 451.5,718.8 452.5,718.9 453.5,719.1 454.4,719.2 455.4,719.3 456.3,719.4 457.3,719.4 458.2,719.5 459.2,719.6 460.2,719.7 461.1,719.7 462.1,719.8 463.0,719.8 464.0,719.9 464.9,719.9 465.9,720.0 466.9,720.0 467.8,720.1 468.8,720.1 469.7,720.1 470.7,720.2 471.6,720.2 472.6,720.2 473.5,720.2 474.5,720.3 475.5,720.3 476.4,720.3"/>
<path d="M111.0,720.5 117.7,720.5 118.7,720.4 119.6,720.4 120.6,720.4 121.6,720.3 122.5,720.2 123.5,720.1 124.4,720.0 125.4,719.8 126.3,719.6 127.3,719.4 128.2,719.1 129.2,718.7 130.2,718.3 131.1,717.8 132.1,717.2 133.0,716.6 134.0,715.8 134.9,715.0 135.9,714.0 136.9,712.9 137.8,711.7 138.8,710.4 139.7,708.9 140.7,707.2 141.6,705.5 142.6,703.5 143.6,701.4 144.5,699.2 145.5,696.7 146.4,694.2 147.4,691.4 148.3,688.5 149.3,685.4 150.2,682.2 151.2,678.8 152.2,675.3 153.1,671.7 154.1,667.9 155.0,664.0 156.0,660.1 156.9,656.0 157.9,651.9 158.9,647.7 159.8,643.5 160.8,639.3 161.7,635.0 162.7,630.8 163.6,626.7 164.6,622.6 165.6,618.7 166.5,614.8 167.5,611.1 168.4,607.5 169.4,604.1 170.3,600.9 171.3,598.0 172.2,595.3 173.2,592.8 174.2,590.7 175.1,588.8 176.1,587.3 177.0,586.1 178.0,585.2 178.9,584.7 179.9,584.5 180.9,584.7 181.8,585.3 182.8,586.2 183.7,587.5 184.7,589.2 185.6,591.2 186.6,593.6 187.6,596.3 188.5,599.4 189.5,602.8 190.4,606.4 191.4,610.4 192.3,614.6 193.3,619.0 194.2,623.7 195.2,628.5 196.2,633.5 197.1,638.6 198.1,643.7 199.0,649.0 200.0,654.3 200.9,659.6 201.9,664.8 202.9,670.0 203.8,675.0 204.8,680.0 205.7,684.8 206.7,689.4 207.6,693.7 208.6,697.8 209.6,701.7 210.5,705.2 211.5,708.4 212.4,711.3 213.4,713.8 214.3,715.9 215.3,717.7 216.2,719.0 217.2,719.9 218.2,720.4 219.1,720.5 220.1,720.1 221.0,719.4 222.0,718.2 222.9,716.6 223.9,714.6 224.9,712.2 225.8,709.5 226.8,706.4 227.7,703.0 228.7,699.3 229.6,695.2 230.6,691.0 231.6,686.5 232.5,681.8 233.5,676.9 234.4,671.8 235.4,666.7 236.3,661.5 237.3,656.2 238.2,651.0 239.2,645.7 240.2,640.5 241.1,635.4 242.1,630.4 243.0,625.6 244.0,620.9 244.9,616.5 245.9,612.2 246.9,608.3 247.8,604.6 248.8,601.2 249.7,598.2 250.7,595.5 251.6,593.1 252.6,591.1 253.6,589.5 254.5,588.3 255.5,587.5 256.4,587.1 257.4,587.1 258.3,587.5 259.3,588.3 260.2,589.5 261.2,591.0 262.2,592.9 263.1,595.2 264.1,597.8 265.0,600.8 266.0,604.0 266.9,607.6 267.9,611.4 268.9,615.4 269.8,619.7 270.8,624.2 271.7,628.8 272.7,633.5 273.6,638.4 274.6,643.3 275.6,648.3 276.5,653.4 277.5,658.4 278.4,663.4 279.4,668.3 280.3,673.1 281.3,677.9 282.2,682.4 283.2,686.9 284.2,691.1 285.1,695.1 286.1,698.9 287.0,702.4 288.0,705.7 288.9,708.6 289.9,711.3 290.9,713.6 291.8,715.7 292.8,717.3 293.7,718.7 294.7,719.6 295.6,720.2 296.6,720.5 297.5,720.4 298.5,719.9 299.5,719.1 300.4,717.9 301.4,716.3 302.3,714.4 303.3,712.2 304.2,709.7 305.2,706.8 306.2,703.6 307.1,700.2 308.1,696.5 309.0,692.5 310.0,688.3 310.9,683.8 311.9,679.2 312.9,674.3 313.8,669.3 314.8,664.1 315.7,658.9 316.7,653.5 317.6,648.0 318.6,642.4 319.5,636.8 320.5,631.2 321.5,625.6 322.4,620.0 323.4,614.4 324.3,608.8 325.3,603.3 326.2,598.0 327.2,592.7 328.2,587.5 329.1,582.4 330.1,577.5 331.0,572.8 332.0,568.2 332.9,563.8 333.9,559.6 334.9,555.6 335.8,551.9 336.8,548.3 337.7,545.0 338.7,541.9 339.6,539.0 340.6,536.4 341.5,534.0 342.5,531.9 343.5,530.0 344.4,528.4 345.4,527.0 346.3,525.9 347.3,525.0 348.2,524.3 349.2,523.9 350.2,523.8 351.1,523.8 352.1,524.1 353.0,524.6 354.0,525.4 354.9,526.3 355.9,527.4 356.9,528.8 357.8,530.3 358.8,532.0 359.7,533.9 360.7,535.9 361.6,538.1 362.6,540.4 363.5,542.9 364.5,545.5 365.5,548.2 366.4,551.0 367.4,553.9 368.3,556.9 369.3,560.0 370.2,563.2 371.2,566.4 372.2,569.7 373.1,573.1 374.1,576.4 375.0,579.9 376.0,583.3 376.9,586.8 377.9,590.2 378.9,593.7 379.8,597.2 380.8,600.7 381.7,604.2 382.7,607.6 383.6,611.0 384.6,614.4 385.5,617.8 386.5,621.1 387.5,624.4 388.4,627.7 389.4,630.9 390.3,634.0 391.3,637.1 392.2,640.1 393.2,643.1 394.2,646.0 395.1,648.9 396.1,651.6 397.0,654.4 398.0,657.0 398.9,659.6 399.9,662.1 400.9,664.6 401.8,667.0 402.8,669.3 403.7,671.5 404.7,673.7 405.6,675.8 406.6,677.8 407.5,679.8 408.5,681.7 409.5,683.5 410.4,685.3 411.4,687.0 412.3,688.6 413.3,690.2 414.2,691.7 415.2,693.2 416.2,694.6 417.1,695.9 418.1,697.2 419.0,698.4 420.0,699.6 420.9,700.7 421.9,701.8 422.9,702.8 423.8,703.8 424.8,704.7 425.7,705.6 426.7,706.4 427.6,707.2 428.6,708.0 429.5,708.7 430.5,709.4 431.5,710.1 432.4,710.7 433.4,711.3 434.3,711.9 435.3,712.4 436.2,712.9 437.2,713.4 438.2,713.8 439.1,714.2 440.1,714.6 441.0,715.0 442.0,715.4 442.9,715.7 443.9,716.0 444.9,716.3 445.8,716.6 446.8,716.9 447.7,717.1 448.7,717.3 449.6,717.5 450.6,717.7 451.5,717.9 452.5,718.1 453.5,718.3 454.4,718.4 455.4,718.6 456.3,718.7 457.3,718.9 458.2,719.0 459.2,719.1 460.2,719.2 461.1,719.3 462.1,719.4 463.0,719.5 464.0,719.5 464.9,719.6 465.9,719.7 466.9,719.7 467.8,719.8 468.8,719.9 469.7,719.9 470.7,719.9 471.6,720.0 472.6,720.0 473.5,720.1 474.5,720.1 475.5,720.1 476.4,720.2 477.4,720.2 478.3,720.2 479.3,720.2 480.2,720.3 481.2,720.3"/>
<path d="M111.0,720.5 120.6,720.5 121.6,720.4 122.5,720.4 123.5,720.4 124.4,720.3 125.4,720.3 126.3,720.2 127.3,720.1 128.2,720.0 129.2,719.9 130.2,719.7 131.1,719.5 132.1,719.2 133.0,718.9 134.0,718.6 134.9,718.2 135.9,717.7 136.9,717.2 137.8,716.6 138.8,715.9 139.7,715.1 140.7,714.2 141.6,713.2 142.6,712.0 143.6,710.8 144.5,709.4 145.5,707.9 146.4,706.3 147.4,704.5 148.3,702.6 149.3,700.5 150.2,698.3 151.2,695.9 152.2,693.4 153.1,690.7 154.1,687.8 155.0,684.8 156.0,681.7 156.9,678.4 157.9,674.9 158.9,671.4 159.8,667.7 160.8,663.9 161.7,660.0 162.7,656.0 163.6,652.0 164.6,647.9 165.6,643.8 166.5,639.6 167.5,635.4 168.4,631.3 169.4,627.2 170.3,623.1 171.3,619.2 172.2,615.3 173.2,611.5 174.2,607.9 175.1,604.5 176.1,601.2 177.0,598.2 178.0,595.4 178.9,592.8 179.9,590.5 180.9,588.5 181.8,586.8 182.8,585.4 183.7,584.3 184.7,583.6 185.6,583.2 186.6,583.1 187.6,583.5 188.5,584.1 189.5,585.2 190.4,586.6 191.4,588.4 192.3,590.5 193.3,593.0 194.2,595.8 195.2,598.9 196.2,602.4 197.1,606.1 198.1,610.1 199.0,614.4 200.0,618.8 200.9,623.5 201.9,628.4 202.9,633.4 203.8,638.5 204.8,643.7 205.7,649.0 206.7,654.3 207.6,659.6 208.6,664.8 209.6,670.0 210.5,675.1 211.5,680.0 212.4,684.8 213.4,689.4 214.3,693.8 215.3,697.9 216.2,701.7 217.2,705.3 218.2,708.5 219.1,711.3 220.1,713.8 221.0,715.9 222.0,717.7 222.9,719.0 223.9,719.9 224.9,720.4 225.8,720.5 226.8,720.1 227.7,719.4 228.7,718.2 229.6,716.6 230.6,714.6 231.6,712.2 232.5,709.5 233.5,706.4 234.4,703.0 235.4,699.2 236.3,695.2 237.3,690.9 238.2,686.4 239.2,681.7 240.2,676.8 241.1,671.8 242.1,666.7 243.0,661.5 244.0,656.2 244.9,650.9 245.9,645.7 246.9,640.5 247.8,635.4 248.8,630.4 249.7,625.6 250.7,621.0 251.6,616.5 252.6,612.3 253.6,608.4 254.5,604.7 255.5,601.4 256.4,598.3 257.4,595.7 258.3,593.3 259.3,591.4 260.2,589.8 261.2,588.7 262.2,587.9 263.1,587.5 264.1,587.5 265.0,588.0 266.0,588.8 266.9,590.0 267.9,591.6 268.9,593.5 269.8,595.9 270.8,598.5 271.7,601.5 272.7,604.8 273.6,608.4 274.6,612.2 275.6,616.3 276.5,620.6 277.5,625.1 278.4,629.7 279.4,634.5 280.3,639.4 281.3,644.3 282.2,649.3 283.2,654.4 284.2,659.4 285.1,664.4 286.1,669.3 287.0,674.1 288.0,678.8 288.9,683.3 289.9,687.7 290.9,691.9 291.8,695.9 292.8,699.6 293.7,703.1 294.7,706.3 295.6,709.2 296.6,711.8 297.5,714.1 298.5,716.0 299.5,717.7 300.4,718.9 301.4,719.8 302.3,720.3 303.3,720.5 304.2,720.3 305.2,719.7 306.2,718.8 307.1,717.5 308.1,715.9 309.0,713.9 310.0,711.6 310.9,709.0 311.9,706.0 312.9,702.8 313.8,699.3 314.8,695.5 315.7,691.4 316.7,687.1 317.6,682.6 318.6,677.9 319.5,673.0 320.5,667.9 321.5,662.7 322.4,657.4 323.4,652.0 324.3,646.5 325.3,640.9 326.2,635.3 327.2,629.7 328.2,624.1 329.1,618.5 330.1,612.9 331.0,607.4 332.0,601.9 332.9,596.6 333.9,591.3 334.9,586.2 335.8,581.2 336.8,576.3 337.7,571.7 338.7,567.2 339.6,562.9 340.6,558.7 341.5,554.8 342.5,551.2 343.5,547.7 344.4,544.5 345.4,541.5 346.3,538.7 347.3,536.2 348.2,533.9 349.2,531.9 350.2,530.2 351.1,528.6 352.1,527.4 353.0,526.4 354.0,525.6 354.9,525.1 355.9,524.8 356.9,524.7 357.8,524.9 358.8,525.3 359.7,525.9 360.7,526.8 361.6,527.8 362.6,529.1 363.5,530.5 364.5,532.1 365.5,533.9 366.4,535.9 367.4,538.0 368.3,540.2 369.3,542.7 370.2,545.2 371.2,547.9 372.2,550.6 373.1,553.5 374.1,556.5 375.0,559.5 376.0,562.7 376.9,565.9 377.9,569.2 378.9,572.5 379.8,575.9 380.8,579.3 381.7,582.7 382.7,586.2 383.6,589.6 384.6,593.1 385.5,596.6 386.5,600.1 387.5,603.6 388.4,607.0 389.4,610.4 390.3,613.9 391.3,617.2 392.2,620.6 393.2,623.9 394.2,627.1 395.1,630.3 396.1,633.5 397.0,636.6 398.0,639.7 398.9,642.6 399.9,645.6 400.9,648.4 401.8,651.2 402.8,654.0 403.7,656.7 404.7,659.3 405.6,661.8 406.6,664.3 407.5,666.7 408.5,669.0 409.5,671.2 410.4,673.4 411.4,675.5 412.3,677.6 413.3,679.6 414.2,681.5 415.2,683.3 416.2,685.1 417.1,686.8 418.1,688.5 419.0,690.1 420.0,691.6 420.9,693.0 421.9,694.5 422.9,695.8 423.8,697.1 424.8,698.3 425.7,699.5 426.7,700.6 427.6,701.7 428.6,702.7 429.5,703.7 430.5,704.7 431.5,705.6 432.4,706.4 433.4,707.2 434.3,708.0 435.3,708.7 436.2,709.4 437.2,710.1 438.2,710.7 439.1,711.3 440.1,711.9 441.0,712.4 442.0,712.9 442.9,713.4 443.9,713.8 444.9,714.2 445.8,714.6 446.8,715.0 447.7,715.4 448.7,715.7 449.6,716.0 450.6,716.3 451.5,716.6 452.5,716.9 453.5,717.1 454.4,717.3 455.4,717.6 456.3,717.8 457.3,718.0 458.2,718.1 459.2,718.3 460.2,718.5 461.1,718.6 462.1,718.7 463.0,718.9 464.0,719.0 464.9,719.1 465.9,719.2 466.9,719.3 467.8,719.4 468.8,719.5 469.7,719.5 470.7,719.6 471.6,719.7 472.6,719.7 473.5,719.8 474.5,719.9 475.5,719.9 476.4,720.0 477.4,720.0 478.3,720.0 479.3,720.1 480.2,720.1 481.2,720.1 482.2,720.2 483.1,720.2 484.1,720.2 485.0,720.2 486.0,720.3 486.9,720.3"/>
<path d="M111.0,720.5 124.4,720.5 125.4,720.4 126.3,720.4 127.3,720.4 128.2,720.3 129.2,720.3 130.2,720.2 131.1,720.2 132.1,720.1 133.0,719.9 134.0,719.8 134.9,719.6 135.9,719.4 136.9,719.2 137.8,718.9 138.8,718.6 139.7,718.2 140.7,717.7 141.6,717.2 142.6,716.6 143.6,716.0 144.5,715.2 145.5,714.4 146.4,713.5 147.4,712.4 148.3,711.3 149.3,710.0 150.2,708.7 151.2,707.2 152.2,705.5 153.1,703.8 154.1,701.8 155.0,699.8 156.0,697.6 156.9,695.2 157.9,692.7 158.9,690.1 159.8,687.2 160.8,684.3 161.7,681.2 162.7,678.0 163.6,674.6 164.6,671.1 165.6,667.5 166.5,663.8 167.5,660.0 168.4,656.1 169.4,652.1 170.3,648.1 171.3,644.0 172.2,639.9 173.2,635.8 174.2,631.7 175.1,627.6 176.1,623.6 177.0,619.6 178.0,615.7 178.9,612.0 179.9,608.3 180.9,604.9 181.8,601.5 182.8,598.4 183.7,595.5 184.7,592.9 185.6,590.4 186.6,588.3 187.6,586.4 188.5,584.8 189.5,583.6 190.4,582.7 191.4,582.1 192.3,581.8 193.3,581.9 194.2,582.4 195.2,583.2 196.2,584.4 197.1,586.0 198.1,587.9 199.0,590.1 200.0,592.7 200.9,595.6 201.9,598.8 202.9,602.4 203.8,606.2 204.8,610.3 205.7,614.6 206.7,619.1 207.6,623.9 208.6,628.8 209.6,633.8 210.5,639.0 211.5,644.2 212.4,649.5 213.4,654.8 214.3,660.1 215.3,665.4 216.2,670.6 217.2,675.6 218.2,680.6 219.1,685.3 220.1,689.9 221.0,694.2 222.0,698.3 222.9,702.1 223.9,705.6 224.9,708.8 225.8,711.6 226.8,714.1 227.7,716.2 228.7,717.8 229.6,719.1 230.6,720.0 231.6,720.4 232.5,720.5 233.5,720.1 234.4,719.3 235.4,718.0 236.3,716.4 237.3,714.4 238.2,711.9 239.2,709.2 240.2,706.0 241.1,702.6 242.1,698.8 243.0,694.8 244.0,690.5 244.9,686.0 245.9,681.2 246.9,676.3 247.8,671.3 248.8,666.2 249.7,660.9 250.7,655.7 251.6,650.4 252.6,645.2 253.6,640.0 254.5,635.0 255.5,630.0 256.4,625.2 257.4,620.6 258.3,616.2 259.3,612.0 260.2,608.1 261.2,604.5 262.2,601.2 263.1,598.2 264.1,595.6 265.0,593.3 266.0,591.4 266.9,589.9 267.9,588.8 268.9,588.1 269.8,587.8 270.8,587.9 271.7,588.4 272.7,589.3 273.6,590.6 274.6,592.2 275.6,594.3 276.5,596.7 277.5,599.4 278.4,602.4 279.4,605.8 280.3,609.4 281.3,613.3 282.2,617.4 283.2,621.8 284.2,626.3 285.1,630.9 286.1,635.7 287.0,640.6 288.0,645.6 288.9,650.6 289.9,655.7 290.9,660.7 291.8,665.7 292.8,670.6 293.7,675.3 294.7,680.0 295.6,684.5 296.6,688.9 297.5,693.0 298.5,696.9 299.5,700.6 300.4,704.0 301.4,707.2 302.3,710.0 303.3,712.5 304.2,714.7 305.2,716.5 306.2,718.0 307.1,719.2 308.1,720.0 309.0,720.4 310.0,720.5 310.9,720.2 311.9,719.5 312.9,718.5 313.8,717.1 314.8,715.3 315.7,713.3 316.7,710.8 317.6,708.1 318.6,705.1 319.5,701.7 320.5,698.1 321.5,694.2 322.4,690.1 323.4,685.7 324.3,681.1 325.3,676.3 326.2,671.4 327.2,666.3 328.2,661.0 329.1,655.7 330.1,650.2 331.0,644.7 332.0,639.1 332.9,633.5 333.9,627.8 334.9,622.2 335.8,616.6 336.8,611.1 337.7,605.6 338.7,600.2 339.6,594.8 340.6,589.6 341.5,584.6 342.5,579.7 343.5,574.9 344.4,570.3 345.4,565.9 346.3,561.7 347.3,557.6 348.2,553.8 349.2,550.3 350.2,546.9 351.1,543.8 352.1,540.9 353.0,538.3 354.0,535.9 354.9,533.7 355.9,531.9 356.9,530.2 357.8,528.8 358.8,527.7 359.7,526.8 360.7,526.2 361.6,525.8 362.6,525.6 363.5,525.7 364.5,526.0 365.5,526.5 366.4,527.3 367.4,528.2 368.3,529.4 369.3,530.7 370.2,532.3 371.2,534.0 372.2,535.9 373.1,537.9 374.1,540.1 375.0,542.5 376.0,545.0 376.9,547.6 377.9,550.3 378.9,553.2 379.8,556.1 380.8,559.1 381.7,562.2 382.7,565.4 383.6,568.7 384.6,572.0 385.5,575.3 386.5,578.7 387.5,582.2 388.4,585.6 389.4,589.1 390.3,592.6 391.3,596.1 392.2,599.5 393.2,603.0 394.2,606.5 395.1,609.9 396.1,613.3 397.0,616.7 398.0,620.1 398.9,623.4 399.9,626.6 400.9,629.9 401.8,633.0 402.8,636.2 403.7,639.2 404.7,642.2 405.6,645.2 406.6,648.1 407.5,650.9 408.5,653.6 409.5,656.3 410.4,659.0 411.4,661.5 412.3,664.0 413.3,666.4 414.2,668.7 415.2,671.0 416.2,673.2 417.1,675.3 418.1,677.4 419.0,679.4 420.0,681.3 420.9,683.2 421.9,685.0 422.9,686.7 423.8,688.3 424.8,689.9 425.7,691.5 426.7,693.0 427.6,694.4 428.6,695.7 429.5,697.0 430.5,698.3 431.5,699.5 432.4,700.6 433.4,701.7 434.3,702.7 435.3,703.7 436.2,704.6 437.2,705.5 438.2,706.4 439.1,707.2 440.1,708.0 441.0,708.7 442.0,709.4 442.9,710.1 443.9,710.7 444.9,711.3 445.8,711.9 446.8,712.4 447.7,712.9 448.7,713.4 449.6,713.8 450.6,714.3 451.5,714.7 452.5,715.0 453.5,715.4 454.4,715.7 455.4,716.0 456.3,716.3 457.3,716.6 458.2,716.9 459.2,717.1 460.2,717.4 461.1,717.6 462.1,717.8 463.0,718.0 464.0,718.1 464.9,718.3 465.9,718.5 466.9,718.6 467.8,718.8 468.8,718.9 469.7,719.0 470.7,719.1 471.6,719.2 472.6,719.3 473.5,719.4 474.5,719.5 475.5,719.6 476.4,719.6 477.4,719.7 478.3,719.8 479.3,719.8 480.2,719.9 481.2,719.9 482.2,720.0 483.1,720.0 484.1,720.0 485.0,720.1 486.0,720.1 486.9,720.1 487.9,720.2 488.8,720.2 489.8,720.2 490.8,720.2 491.7,720.3 492.7,720.3"/>
<path d="M111.0,720.5 128.2,720.5 129.2,720.4 130.2,720.4 131.1,720.4 132.1,720.4 133.0,720.3 134.0,720.3 134.9,720.2 135.9,720.1 136.9,720.0 137.8,719.9 138.8,719.7 139.7,719.6 140.7,719.4 141.6,719.1 142.6,718.9 143.6,718.5 144.5,718.2 145.5,717.7 146.4,717.3 147.4,716.7 148.3,716.1 149.3,715.4 150.2,714.6 151.2,713.8 152.2,712.8 153.1,711.8 154.1,710.6 155.0,709.3 156.0,707.9 156.9,706.4 157.9,704.8 158.9,703.0 159.8,701.1 160.8,699.0 161.7,696.8 162.7,694.5 163.6,692.0 164.6,689.4 165.6,686.6 166.5,683.7 167.5,680.6 168.4,677.4 169.4,674.1 170.3,670.7 171.3,667.1 172.2,663.5 173.2,659.7 174.2,655.9 175.1,652.0 176.1,648.0 177.0,644.0 178.0,639.9 178.9,635.8 179.9,631.8 180.9,627.7 181.8,623.7 182.8,619.8 183.7,615.9 184.7,612.1 185.6,608.5 186.6,605.0 187.6,601.6 188.5,598.5 189.5,595.5 190.4,592.8 191.4,590.3 192.3,588.0 193.3,586.0 194.2,584.3 195.2,583.0 196.2,581.9 197.1,581.2 198.1,580.7 199.0,580.7 200.0,581.0 200.9,581.6 201.9,582.6 202.9,584.0 203.8,585.7 204.8,587.8 205.7,590.2 206.7,592.9 207.6,596.0 208.6,599.3 209.6,603.0 210.5,606.9 211.5,611.1 212.4,615.5 213.4,620.1 214.3,625.0 215.3,629.9 216.2,635.0 217.2,640.2 218.2,645.5 219.1,650.8 220.1,656.1 221.0,661.4 222.0,666.7 222.9,671.8 223.9,676.9 224.9,681.8 225.8,686.5 226.8,691.0 227.7,695.3 228.7,699.3 229.6,703.0 230.6,706.4 231.6,709.5 232.5,712.3 233.5,714.6 234.4,716.6 235.4,718.2 236.3,719.4 237.3,720.1 238.2,720.5 239.2,720.4 240.2,719.9 241.1,719.0 242.1,717.7 243.0,715.9 244.0,713.8 244.9,711.3 245.9,708.4 246.9,705.2 247.8,701.7 248.8,697.9 249.7,693.8 250.7,689.4 251.6,684.8 252.6,680.0 253.6,675.1 254.5,670.1 255.5,664.9 256.4,659.7 257.4,654.4 258.3,649.2 259.3,644.0 260.2,638.8 261.2,633.8 262.2,628.9 263.1,624.1 264.1,619.6 265.0,615.2 266.0,611.1 266.9,607.3 267.9,603.8 268.9,600.6 269.8,597.7 270.8,595.2 271.7,593.0 272.7,591.3 273.6,589.9 274.6,588.9 275.6,588.3 276.5,588.1 277.5,588.3 278.4,588.9 279.4,590.0 280.3,591.4 281.3,593.1 282.2,595.3 283.2,597.8 284.2,600.6 285.1,603.7 286.1,607.2 287.0,610.9 288.0,614.9 288.9,619.1 289.9,623.5 290.9,628.1 291.8,632.8 292.8,637.6 293.7,642.5 294.7,647.5 295.6,652.6 296.6,657.6 297.5,662.6 298.5,667.5 299.5,672.4 300.4,677.2 301.4,681.8 302.3,686.3 303.3,690.5 304.2,694.6 305.2,698.4 306.2,702.0 307.1,705.3 308.1,708.3 309.0,711.0 310.0,713.4 310.9,715.5 311.9,717.2 312.9,718.6 313.8,719.6 314.8,720.2 315.7,720.5 316.7,720.4 317.6,719.9 318.6,719.1 319.5,717.9 320.5,716.4 321.5,714.5 322.4,712.3 323.4,709.7 324.3,706.8 325.3,703.7 326.2,700.2 327.2,696.4 328.2,692.4 329.1,688.2 330.1,683.7 331.0,679.0 332.0,674.2 332.9,669.1 333.9,664.0 334.9,658.7 335.8,653.2 336.8,647.8 337.7,642.2 338.7,636.6 339.6,631.0 340.6,625.3 341.5,619.7 342.5,614.1 343.5,608.6 344.4,603.2 345.4,597.8 346.3,592.6 347.3,587.4 348.2,582.4 349.2,577.6 350.2,572.9 351.1,568.4 352.1,564.1 353.0,560.0 354.0,556.1 354.9,552.5 355.9,549.0 356.9,545.8 357.8,542.8 358.8,540.1 359.7,537.6 360.7,535.4 361.6,533.4 362.6,531.6 363.5,530.2 364.5,528.9 365.5,527.9 366.4,527.2 367.4,526.7 368.3,526.5 369.3,526.5 370.2,526.7 371.2,527.1 372.2,527.8 373.1,528.7 374.1,529.8 375.0,531.1 376.0,532.6 376.9,534.2 377.9,536.0 378.9,538.0 379.8,540.2 380.8,542.5 381.7,545.0 382.7,547.5 383.6,550.2 384.6,553.0 385.5,556.0 386.5,559.0 387.5,562.1 388.4,565.2 389.4,568.5 390.3,571.7 391.3,575.1 392.2,578.5 393.2,581.9 394.2,585.3 395.1,588.8 396.1,592.3 397.0,595.8 398.0,599.3 398.9,602.7 399.9,606.2 400.9,609.6 401.8,613.1 402.8,616.5 403.7,619.8 404.7,623.1 405.6,626.4 406.6,629.6 407.5,632.8 408.5,636.0 409.5,639.0 410.4,642.1 411.4,645.0 412.3,647.9 413.3,650.7 414.2,653.5 415.2,656.2 416.2,658.8 417.1,661.4 418.1,663.9 419.0,666.3 420.0,668.7 420.9,670.9 421.9,673.1 422.9,675.3 423.8,677.4 424.8,679.4 425.7,681.3 426.7,683.1 427.6,684.9 428.6,686.7 429.5,688.3 430.5,689.9 431.5,691.5 432.4,693.0 433.4,694.4 434.3,695.7 435.3,697.0 436.2,698.3 437.2,699.5 438.2,700.6 439.1,701.7 440.1,702.7 441.0,703.7 442.0,704.7 442.9,705.6 443.9,706.4 444.9,707.3 445.8,708.0 446.8,708.8 447.7,709.5 448.7,710.1 449.6,710.8 450.6,711.3 451.5,711.9 452.5,712.4 453.5,712.9 454.4,713.4 455.4,713.9 456.3,714.3 457.3,714.7 458.2,715.1 459.2,715.4 460.2,715.8 461.1,716.1 462.1,716.4 463.0,716.7 464.0,716.9 464.9,717.2 465.9,717.4 466.9,717.6 467.8,717.8 468.8,718.0 469.7,718.2 470.7,718.3 471.6,718.5 472.6,718.6 473.5,718.8 474.5,718.9 475.5,719.0 476.4,719.1 477.4,719.2 478.3,719.3 479.3,719.4 480.2,719.5 481.2,719.6 482.2,719.6 483.1,719.7 484.1,719.8 485.0,719.8 486.0,719.9 486.9,719.9 487.9,720.0 488.8,720.0 489.8,720.1 490.8,720.1 491.7,720.1 492.7,720.2 493.6,720.2 494.6,720.2 495.5,720.2 496.5,720.3 497.5,720.3 498.4,720.3"/>
<path d="M111.0,720.5 132.1,720.5 133.0,720.4 134.0,720.4 134.9,720.4 135.9,720.4 136.9,720.3 137.8,720.3 138.8,720.2 139.7,720.2 140.7,720.1 141.6,720.0 142.6,719.8 143.6,719.7 144.5,719.5 145.5,719.3 146.4,719.1 147.4,718.8 148.3,718.5 149.3,718.2 150.2,717.8 151.2,717.3 152.2,716.8 153.1,716.2 154.1,715.6 155.0,714.8 156.0,714.0 156.9,713.1 157.9,712.1 158.9,711.1 159.8,709.9 160.8,708.6 161.7,707.1 162.7,705.6 163.6,703.9 164.6,702.1 165.6,700.2 166.5,698.2 167.5,696.0 168.4,693.6 169.4,691.1 170.3,688.5 171.3,685.8 172.2,682.9 173.2,679.8 174.2,676.7 175.1,673.4 176.1,670.0 177.0,666.5 178.0,662.9 178.9,659.1 179.9,655.3 180.9,651.5 181.8,647.5 182.8,643.5 183.7,639.5 184.7,635.5 185.6,631.5 186.6,627.4 187.6,623.5 188.5,619.5 189.5,615.7 190.4,611.9 191.4,608.3 192.3,604.8 193.3,601.4 194.2,598.2 195.2,595.2 196.2,592.4 197.1,589.9 198.1,587.6 199.0,585.5 200.0,583.8 200.9,582.3 201.9,581.1 202.9,580.3 203.8,579.8 204.8,579.6 205.7,579.8 206.7,580.3 207.6,581.2 208.6,582.4 209.6,584.0 210.5,585.9 211.5,588.2 212.4,590.8 213.4,593.7 214.3,597.0 215.3,600.5 216.2,604.3 217.2,608.4 218.2,612.7 219.1,617.3 220.1,622.0 221.0,626.9 222.0,631.9 222.9,637.1 223.9,642.4 224.9,647.7 225.8,653.0 226.8,658.3 227.7,663.6 228.7,668.8 229.6,673.9 230.6,678.9 231.6,683.8 232.5,688.4 233.5,692.8 234.4,697.0 235.4,700.9 236.3,704.5 237.3,707.8 238.2,710.7 239.2,713.3 240.2,715.5 241.1,717.3 242.1,718.7 243.0,719.7 244.0,720.3 244.9,720.5 245.9,720.2 246.9,719.6 247.8,718.5 248.8,717.0 249.7,715.1 250.7,712.8 251.6,710.2 252.6,707.2 253.6,703.8 254.5,700.2 255.5,696.2 256.4,692.0 257.4,687.5 258.3,682.9 259.3,678.1 260.2,673.1 261.2,668.0 262.2,662.8 263.1,657.6 264.1,652.3 265.0,647.1 266.0,641.9 266.9,636.8 267.9,631.8 268.9,626.9 269.8,622.3 270.8,617.8 271.7,613.6 272.7,609.6 273.6,605.9 274.6,602.5 275.6,599.5 276.5,596.8 277.5,594.4 278.4,592.4 279.4,590.8 280.3,589.6 281.3,588.8 282.2,588.4 283.2,588.4 284.2,588.8 285.1,589.6 286.1,590.8 287.0,592.4 288.0,594.3 288.9,596.7 289.9,599.3 290.9,602.3 291.8,605.6 292.8,609.2 293.7,613.0 294.7,617.1 295.6,621.4 296.6,625.9 297.5,630.5 298.5,635.3 299.5,640.2 300.4,645.2 301.4,650.2 302.3,655.2 303.3,660.3 304.2,665.2 305.2,670.1 306.2,675.0 307.1,679.7 308.1,684.2 309.0,688.6 310.0,692.7 310.9,696.7 311.9,700.4 312.9,703.8 313.8,707.0 314.8,709.8 315.7,712.4 316.7,714.6 317.6,716.5 318.6,718.0 319.5,719.2 320.5,720.0 321.5,720.4 322.4,720.5 323.4,720.2 324.3,719.5 325.3,718.5 326.2,717.1 327.2,715.4 328.2,713.3 329.1,710.9 330.1,708.1 331.0,705.1 332.0,701.7 332.9,698.1 333.9,694.2 334.9,690.0 335.8,685.6 336.8,681.0 337.7,676.2 338.7,671.3 339.6,666.1 340.6,660.9 341.5,655.5 342.5,650.0 343.5,644.5 344.4,638.9 345.4,633.3 346.3,627.7 347.3,622.1 348.2,616.5 349.2,610.9 350.2,605.4 351.1,600.1 352.1,594.8 353.0,589.6 354.0,584.6 354.9,579.7 355.9,574.9 356.9,570.4 357.8,566.0 358.8,561.9 359.7,557.9 360.7,554.2 361.6,550.7 362.6,547.4 363.5,544.3 364.5,541.5 365.5,539.0 366.4,536.7 367.4,534.6 368.3,532.8 369.3,531.3 370.2,530.0 371.2,528.9 372.2,528.1 373.1,527.6 374.1,527.3 375.0,527.2 376.0,527.4 376.9,527.8 377.9,528.4 378.9,529.2 379.8,530.3 380.8,531.5 381.7,533.0 382.7,534.6 383.6,536.4 384.6,538.4 385.5,540.5 386.5,542.8 387.5,545.2 388.4,547.7 389.4,550.4 390.3,553.2 391.3,556.1 392.2,559.1 393.2,562.2 394.2,565.3 395.1,568.6 396.1,571.8 397.0,575.2 398.0,578.6 398.9,582.0 399.9,585.4 400.9,588.9 401.8,592.4 402.8,595.8 403.7,599.3 404.7,602.8 405.6,606.3 406.6,609.7 407.5,613.1 408.5,616.5 409.5,619.9 410.4,623.2 411.4,626.5 412.3,629.7 413.3,632.9 414.2,636.1 415.2,639.2 416.2,642.2 417.1,645.1 418.1,648.0 419.0,650.9 420.0,653.6 420.9,656.3 421.9,659.0 422.9,661.5 423.8,664.0 424.8,666.5 425.7,668.8 426.7,671.1 427.6,673.3 428.6,675.4 429.5,677.5 430.5,679.5 431.5,681.4 432.4,683.3 433.4,685.1 434.3,686.8 435.3,688.5 436.2,690.1 437.2,691.6 438.2,693.1 439.1,694.5 440.1,695.9 441.0,697.2 442.0,698.4 442.9,699.6 443.9,700.8 444.9,701.8 445.8,702.9 446.8,703.9 447.7,704.8 448.7,705.7 449.6,706.6 450.6,707.4 451.5,708.1 452.5,708.9 453.5,709.6 454.4,710.2 455.4,710.9 456.3,711.4 457.3,712.0 458.2,712.5 459.2,713.0 460.2,713.5 461.1,714.0 462.1,714.4 463.0,714.8 464.0,715.1 464.9,715.5 465.9,715.8 466.9,716.1 467.8,716.4 468.8,716.7 469.7,717.0 470.7,717.2 471.6,717.4 472.6,717.7 473.5,717.9 474.5,718.0 475.5,718.2 476.4,718.4 477.4,718.5 478.3,718.7 479.3,718.8 480.2,718.9 481.2,719.0 482.2,719.2 483.1,719.3 484.1,719.3 485.0,719.4 486.0,719.5 486.9,719.6 487.9,719.7 488.8,719.7 489.8,719.8 490.8,719.8 491.7,719.9 492.7,719.9 493.6,720.0 494.6,720.0 495.5,720.1 496.5,720.1 497.5,720.1 498.4,720.2 499.4,720.2 500.3,720.2 501.3,720.2 502.2,720.3 503.2,720.3"/>
<path d="M111.0,720.5 135.9,720.5 136.9,720.4 137.8,720.4 138.8,720.4 139.7,720.4 140.7,720.3 141.6,720.3 142.6,720.3 143.6,720.2 144.5,720.1 145.5,720.0 146.4,719.9 147.4,719.8 148.3,719.7 149.3,719.5 150.2,719.3 151.2,719.1 152.2,718.8 153.1,718.5 154.1,718.2 155.0,717.8 156.0,717.4 156.9,716.9 157.9,716.3 158.9,715.7 159.8,715.0 160.8,714.2 161.7,713.4 162.7,712.4 163.6,711.4 164.6,710.3 165.6,709.1 166.5,707.7 167.5,706.3 168.4,704.7 169.4,703.0 170.3,701.2 171.3,699.2 172.2,697.1 173.2,694.9 174.2,692.6 175.1,690.1 176.1,687.5 177.0,684.7 178.0,681.8 178.9,678.8 179.9,675.6 180.9,672.4 181.8,669.0 182.8,665.5 183.7,661.9 184.7,658.2 185.6,654.4 186.6,650.6 187.6,646.7 188.5,642.7 189.5,638.7 190.4,634.7 191.4,630.7 192.3,626.7 193.3,622.8 194.2,618.9 195.2,615.0 196.2,611.3 197.1,607.7 198.1,604.2 199.0,600.8 200.0,597.6 200.9,594.6 201.9,591.8 202.9,589.3 203.8,586.9 204.8,584.9 205.7,583.1 206.7,581.6 207.6,580.4 208.6,579.5 209.6,578.9 210.5,578.7 211.5,578.8 212.4,579.2 213.4,580.0 214.3,581.2 215.3,582.7 216.2,584.5 217.2,586.7 218.2,589.2 219.1,592.1 220.1,595.2 221.0,598.7 222.0,602.4 222.9,606.5 223.9,610.7 224.9,615.2 225.8,619.9 226.8,624.7 227.7,629.8 228.7,634.9 229.6,640.1 230.6,645.4 231.6,650.8 232.5,656.1 233.5,661.4 234.4,666.7 235.4,671.8 236.3,676.9 237.3,681.8 238.2,686.5 239.2,691.0 240.2,695.3 241.1,699.3 242.1,703.0 243.0,706.5 244.0,709.5 244.9,712.3 245.9,714.6 246.9,716.6 247.8,718.2 248.8,719.4 249.7,720.1 250.7,720.5 251.6,720.4 252.6,719.9 253.6,719.0 254.5,717.7 255.5,715.9 256.4,713.8 257.4,711.3 258.3,708.5 259.3,705.3 260.2,701.7 261.2,697.9 262.2,693.8 263.1,689.4 264.1,684.9 265.0,680.1 266.0,675.2 266.9,670.1 267.9,665.0 268.9,659.8 269.8,654.5 270.8,649.3 271.7,644.1 272.7,638.9 273.6,633.9 274.6,629.0 275.6,624.3 276.5,619.7 277.5,615.4 278.4,611.3 279.4,607.5 280.3,604.0 281.3,600.8 282.2,598.0 283.2,595.5 284.2,593.4 285.1,591.6 286.1,590.3 287.0,589.3 288.0,588.8 288.9,588.6 289.9,588.9 290.9,589.5 291.8,590.6 292.8,592.0 293.7,593.8 294.7,596.0 295.6,598.5 296.6,601.4 297.5,604.6 298.5,608.0 299.5,611.8 300.4,615.8 301.4,620.0 302.3,624.5 303.3,629.1 304.2,633.8 305.2,638.7 306.2,643.6 307.1,648.6 308.1,653.6 309.0,658.7 310.0,663.7 310.9,668.6 311.9,673.5 312.9,678.2 313.8,682.8 314.8,687.2 315.7,691.5 316.7,695.5 317.6,699.3 318.6,702.8 319.5,706.0 320.5,709.0 321.5,711.6 322.4,714.0 323.4,715.9 324.3,717.6 325.3,718.9 326.2,719.8 327.2,720.3 328.2,720.5 329.1,720.3 330.1,719.8 331.0,718.8 332.0,717.5 332.9,715.9 333.9,713.9 334.9,711.6 335.8,708.9 336.8,705.9 337.7,702.7 338.7,699.1 339.6,695.3 340.6,691.2 341.5,686.8 342.5,682.3 343.5,677.5 344.4,672.6 345.4,667.5 346.3,662.3 347.3,657.0 348.2,651.5 349.2,646.0 350.2,640.4 351.1,634.8 352.1,629.2 353.0,623.6 354.0,618.0 354.9,612.4 355.9,606.9 356.9,601.5 357.8,596.2 358.8,591.0 359.7,585.9 360.7,581.0 361.6,576.3 362.6,571.7 363.5,567.3 364.5,563.1 365.5,559.1 366.4,555.3 367.4,551.8 368.3,548.5 369.3,545.4 370.2,542.5 371.2,540.0 372.2,537.6 373.1,535.5 374.1,533.7 375.0,532.1 376.0,530.8 376.9,529.7 377.9,528.9 378.9,528.3 379.8,528.0 380.8,527.9 381.7,528.1 382.7,528.4 383.6,529.0 384.6,529.9 385.5,530.9 386.5,532.1 387.5,533.5 388.4,535.1 389.4,536.9 390.3,538.9 391.3,541.0 392.2,543.3 393.2,545.7 394.2,548.2 395.1,550.9 396.1,553.7 397.0,556.6 398.0,559.6 398.9,562.7 399.9,565.8 400.9,569.0 401.8,572.3 402.8,575.6 403.7,579.0 404.7,582.4 405.6,585.9 406.6,589.4 407.5,592.8 408.5,596.3 409.5,599.8 410.4,603.3 411.4,606.7 412.3,610.2 413.3,613.6 414.2,617.0 415.2,620.4 416.2,623.7 417.1,627.0 418.1,630.2 419.0,633.4 420.0,636.5 420.9,639.6 421.9,642.6 422.9,645.6 423.8,648.5 424.8,651.3 425.7,654.1 426.7,656.8 427.6,659.4 428.6,662.0 429.5,664.5 430.5,666.9 431.5,669.2 432.4,671.5 433.4,673.7 434.3,675.8 435.3,677.9 436.2,679.9 437.2,681.8 438.2,683.7 439.1,685.5 440.1,687.2 441.0,688.8 442.0,690.4 442.9,692.0 443.9,693.4 444.9,694.8 445.8,696.2 446.8,697.5 447.7,698.7 448.7,699.9 449.6,701.0 450.6,702.1 451.5,703.1 452.5,704.1 453.5,705.0 454.4,705.9 455.4,706.8 456.3,707.6 457.3,708.3 458.2,709.1 459.2,709.7 460.2,710.4 461.1,711.0 462.1,711.6 463.0,712.2 464.0,712.7 464.9,713.2 465.9,713.6 466.9,714.1 467.8,714.5 468.8,714.9 469.7,715.3 470.7,715.6 471.6,715.9 472.6,716.2 473.5,716.5 474.5,716.8 475.5,717.0 476.4,717.3 477.4,717.5 478.3,717.7 479.3,717.9 480.2,718.1 481.2,718.3 482.2,718.4 483.1,718.6 484.1,718.7 485.0,718.8 486.0,719.0 486.9,719.1 487.9,719.2 488.8,719.3 489.8,719.4 490.8,719.5 491.7,719.5 492.7,719.6 493.6,719.7 494.6,719.7 495.5,719.8 496.5,719.9 497.5,719.9 498.4,720.0 499.4,720.0 500.3,720.0 501.3,720.1 502.2,720.1 503.2,720.1 504.2,720.2 505.1,720.2 506.1,720.2 507.0,720.2 508.0,720.3 508.9,720.3"/>
</g>
<path d="M106.2,720.5 109.1,720.5 110.1,720.4 111.0,720.2 112.0,720.0 112.9,719.7 113.9,719.3 114.9,718.8 115.8,718.2 116.8,717.3 117.7,716.4 118.7,715.2 119.6,713.8 120.6,712.3 121.6,710.5 122.5,708.5 123.5,706.3 124.4,703.8 125.4,701.2 126.3,698.3 127.3,695.2 128.2,691.9 129.2,688.3 130.2,684.6 131.1,680.8 132.1,676.7 133.0,672.5 134.0,668.2 134.9,663.8 135.9,659.3 136.9,654.7 137.8,650.1 138.8,645.5 139.7,640.9 140.7,636.3 141.6,631.9 142.6,627.5 143.6,623.2 144.5,619.1 145.5,615.2 146.4,611.5 147.4,608.1 148.3,604.8 149.3,601.9 150.2,599.3 151.2,597.0 152.2,595.0 153.1,593.4 154.1,592.2 155.0,591.3 156.0,590.8 156.9,590.7 157.9,591.0 158.9,591.7 159.8,592.9 160.8,594.4 161.7,596.2 162.7,598.5 163.6,601.1 164.6,604.1 165.6,607.4 166.5,611.0 167.5,614.9 168.4,619.0 169.4,623.4 170.3,628.0 171.3,632.8 172.2,637.8 173.2,642.8 174.2,647.9 175.1,653.1 176.1,658.4 177.0,663.5 178.0,668.7 178.9,673.8 179.9,678.7 180.9,683.5 181.8,688.1 182.8,692.6 183.7,696.7 184.7,700.6 185.6,704.3 186.6,707.6 187.6,710.5 188.5,713.1 189.5,715.4 190.4,717.2 191.4,718.7 192.3,719.7 193.3,720.3 194.2,720.5 195.2,720.3 196.2,719.6 197.1,718.6 198.1,717.1 199.0,715.2 200.0,713.0 200.9,710.3 201.9,707.3 202.9,704.0 203.8,700.4 204.8,696.4 205.7,692.2 206.7,687.8 207.6,683.1 208.6,678.3 209.6,673.3 210.5,668.2 211.5,663.0 212.4,657.7 213.4,652.4 214.3,647.1 215.3,641.9 216.2,636.7 217.2,631.6 218.2,626.7 219.1,621.9 220.1,617.3 221.0,613.0 222.0,608.8 222.9,605.0 223.9,601.4 224.9,598.2 225.8,595.2 226.8,592.7 227.7,590.4 228.7,588.6 229.6,587.1 230.6,586.0 231.6,585.3 232.5,585.0 233.5,585.1 234.4,585.6 235.4,586.5 236.3,587.8 237.3,589.4 238.2,591.4 239.2,593.7 240.2,596.4 241.1,599.4 242.1,602.7 243.0,606.3 244.0,610.1 244.9,614.2 245.9,618.4 246.9,622.9 247.8,627.5 248.8,632.3 249.7,637.1 250.7,642.1 251.6,647.1 252.6,652.1 253.6,657.1 254.5,662.1 255.5,667.0 256.4,671.8 257.4,676.6 258.3,681.2 259.3,685.6 260.2,689.8 261.2,693.9 262.2,697.7 263.1,701.3 264.1,704.6 265.0,707.7 266.0,710.4 266.9,712.8 267.9,714.9 268.9,716.7 269.8,718.2 270.8,719.3 271.7,720.0 272.7,720.4 273.6,720.5 274.6,720.2 275.6,719.5 276.5,718.5 277.5,717.1 278.4,715.4 279.4,713.3 280.3,711.0 281.3,708.3 282.2,705.3 283.2,702.0 284.2,698.5 285.1,694.7 286.1,690.6 287.0,686.3 288.0,681.8 288.9,677.1 289.9,672.2 290.9,667.2 291.8,662.0 292.8,656.7 293.7,651.2 294.7,645.8 295.6,640.2 296.6,634.6 297.5,629.0 298.5,623.3 299.5,617.7 300.4,612.1 301.4,606.6 302.3,601.1 303.3,595.7 304.2,590.4 305.2,585.2 306.2,580.1 307.1,575.2 308.1,570.4 309.0,565.8 310.0,561.4 310.9,557.2 311.9,553.1 312.9,549.3 313.8,545.7 314.8,542.3 315.7,539.1 316.7,536.2 317.6,533.4 318.6,531.0 319.5,528.8 320.5,526.8 321.5,525.0 322.4,523.5 323.4,522.3 324.3,521.3 325.3,520.5 326.2,520.0 327.2,519.7 328.2,519.6 329.1,519.8 330.1,520.1 331.0,520.7 332.0,521.5 332.9,522.5 333.9,523.7 334.9,525.1 335.8,526.7 336.8,528.4 337.7,530.3 338.7,532.4 339.6,534.6 340.6,536.9 341.5,539.4 342.5,542.0 343.5,544.8 344.4,547.6 345.4,550.5 346.3,553.5 347.3,556.6 348.2,559.8 349.2,563.0 350.2,566.3 351.1,569.7 352.1,573.1 353.0,576.5 354.0,579.9 354.9,583.4 355.9,586.9 356.9,590.3 357.8,593.8 358.8,597.3 359.7,600.8 360.7,604.2 361.6,607.7 362.6,611.1 363.5,614.5 364.5,617.8 365.5,621.1 366.4,624.4 367.4,627.6 368.3,630.8 369.3,633.9 370.2,637.0 371.2,640.0 372.2,642.9 373.1,645.8 374.1,648.6 375.0,651.4 376.0,654.1 376.9,656.7 377.9,659.3 378.9,661.8 379.8,664.2 380.8,666.6 381.7,668.9 382.7,671.1 383.6,673.2 384.6,675.3 385.5,677.3 386.5,679.3 387.5,681.2 388.4,683.0 389.4,684.8 390.3,686.5 391.3,688.1 392.2,689.7 393.2,691.2 394.2,692.6 395.1,694.0 396.1,695.4 397.0,696.7 398.0,697.9 398.9,699.1 399.9,700.2 400.9,701.3 401.8,702.3 402.8,703.3 403.7,704.2 404.7,705.1 405.6,706.0 406.6,706.8 407.5,707.6 408.5,708.3 409.5,709.0 410.4,709.7 411.4,710.3 412.3,710.9 413.3,711.5 414.2,712.0 415.2,712.5 416.2,713.0 417.1,713.5 418.1,713.9 419.0,714.3 420.0,714.7 420.9,715.1 421.9,715.4 422.9,715.8 423.8,716.1 424.8,716.3 425.7,716.6 426.7,716.9 427.6,717.1 428.6,717.3 429.5,717.6 430.5,717.8 431.5,717.9 432.4,718.1 433.4,718.3 434.3,718.4 435.3,718.6 436.2,718.7 437.2,718.8 438.2,719.0 439.1,719.1 440.1,719.2 441.0,719.3 442.0,719.4 442.9,719.4 443.9,719.5 444.9,719.6 445.8,719.7 446.8,719.7 447.7,719.8 448.7,719.8 449.6,719.9 450.6,719.9 451.5,720.0 452.5,720.0 453.5,720.1 454.4,720.1 455.4,720.1 456.3,720.2 457.3,720.2 458.2,720.2 459.2,720.2 460.2,720.3 461.1,720.3 462.1,720.3 463.0,720.3 464.0,720.3 464.9,720.3 465.9,720.4 466.9,720.4 467.8,720.4 468.8,720.4 469.7,720.4 470.7,720.4 471.6,720.4 472.6,720.4 473.5,720.4 474.5,720.4 475.5,720.4 476.4,720.4 477.4,720.4 584.5,720.5" fill="none" stroke="#000" stroke-width="1.65" stroke-linejoin="round"/>
<path d="M96.20,722.4H594.50" stroke="#b0b0b0" stroke-width="1.25" fill="none"/>
<rect x="96.20" y="414.80" width="498.30" height="308.60" fill="none" stroke="#000" stroke-width="0.85"/>
<path d="M106.25,723.40v-6M201.90,723.40v-6M297.55,723.40v-6M393.20,723.40v-6M488.85,723.40v-6M584.50,723.40v-6M96.20,720.50h5.7M96.20,669.56h5.7M96.20,618.62h5.7M96.20,567.68h5.7M96.20,516.74h5.7M96.20,465.80h5.7M96.20,414.86h5.7" fill="none" stroke="#000" stroke-width="0.9"/>
<text x="41.60" y="726.40" font-size="24" textLength="49.3" lengthAdjust="spacingAndGlyphs">0.000</text>
<text x="41.60" y="675.46" font-size="24" textLength="49.3" lengthAdjust="spacingAndGlyphs">0.020</text>
<text x="41.60" y="624.52" font-size="24" textLength="49.3" lengthAdjust="spacingAndGlyphs">0.040</text>
<text x="41.60" y="573.58" font-size="24" textLength="49.3" lengthAdjust="spacingAndGlyphs">0.060</text>
<text x="41.60" y="522.64" font-size="24" textLength="49.3" lengthAdjust="spacingAndGlyphs">0.080</text>
<text x="41.60" y="471.70" font-size="24" textLength="49.3" lengthAdjust="spacingAndGlyphs">0.100</text>
<text x="41.60" y="420.76" font-size="24" textLength="49.3" lengthAdjust="spacingAndGlyphs">0.120</text>
<text x="100.75" y="747.40" font-size="24" textLength="11.0" lengthAdjust="spacingAndGlyphs">0</text>
<text x="190.90" y="747.40" font-size="24" textLength="22.0" lengthAdjust="spacingAndGlyphs">10</text>
<text x="286.55" y="747.40" font-size="24" textLength="22.0" lengthAdjust="spacingAndGlyphs">20</text>
<text x="382.20" y="747.40" font-size="24" textLength="22.0" lengthAdjust="spacingAndGlyphs">30</text>
<text x="477.85" y="747.40" font-size="24" textLength="22.0" lengthAdjust="spacingAndGlyphs">40</text>
<text x="573.50" y="747.40" font-size="24" textLength="22.0" lengthAdjust="spacingAndGlyphs">50</text>
<g font-size="22"><text x="413.2" y="451.2" font-size="25.6" textLength="7.3" lengthAdjust="spacingAndGlyphs">(</text><text class="i" x="420.0" y="451.2" font-size="23.5">c</text><text x="431.6" y="451.2" font-size="25.6" textLength="7.3" lengthAdjust="spacingAndGlyphs">)</text><text class="i" x="446.8" y="451.2" font-size="23.5">n</text><text x="488.8" y="451.2">2,</text><text class="i" x="517.6" y="451.2" font-size="23.5" textLength="18.0" lengthAdjust="spacingAndGlyphs">m</text><text x="565.8" y="451.2">0</text><path d="M466.4,442.4h15.6m-15.6,4.9h15.6M543.4,442.4h15.6m-15.6,4.9h15.6" stroke="#000" stroke-width="1.05" fill="none"/></g>
<g transform="translate(20.6,653.15) rotate(-90)" font-size="24"><text x="-0.4" y="0" font-size="25.5" textLength="11.6" lengthAdjust="spacingAndGlyphs">2</text><text class="i" x="11.3" y="0" font-size="26">π</text><text class="i" x="25.3" y="0" font-size="26">r</text><text class="i" x="43.5" y="0">ψ</text><text class="i" x="59.2" y="4.4" font-size="17" textLength="27.6" lengthAdjust="spacingAndGlyphs">nm</text><text x="94.6" y="-10" font-size="16.5">2</text><text x="112.3" y="0" textLength="33.4" lengthAdjust="spacingAndGlyphs">nm</text><text x="161.3" y="-10" font-size="16.5">1</text><path d="M40.65,-18.7V6.3M91.5,-18.7V6.3M148.2,-15h10" stroke="#000" stroke-width="1.05" fill="none"/></g>
<g font-size="25"><text class="i" x="308.6" y="787.5" font-size="26">r</text><text x="329.4" y="788.6" font-size="29.5" textLength="8.3" lengthAdjust="spacingAndGlyphs">(</text><text x="338.6" y="787.5" textLength="33.4" lengthAdjust="spacingAndGlyphs">nm</text><text x="372.4" y="788.6" font-size="29.5" textLength="8.3" lengthAdjust="spacingAndGlyphs">)</text></g>
</g>
<g>
<path d="M710.45,418.40V723.40M806.17,418.40V723.40M901.89,418.40V723.40M997.61,418.40V723.40M1093.33,418.40V723.40M1189.05,418.40V723.40M708.50,669.46H1199.30M708.50,618.52H1199.30M708.50,567.58H1199.30M708.50,516.64H1199.30M708.50,465.70H1199.30M708.50,720.50H1199.30" fill="none" stroke="#e9e9e9" stroke-width="0.85" stroke-dasharray="4.17 4.17"/>
<g fill="none" stroke="#800080" stroke-width="1.4" stroke-linejoin="round">
<path d="M715.6,720.3 716.5,720.0 717.5,719.7 718.5,719.3 719.4,718.8 720.4,718.0 721.3,717.1 722.3,716.0 723.2,714.7 724.2,713.2 725.2,711.5 726.1,709.5 727.1,707.2 728.0,704.7 729.0,702.0 729.9,699.0 730.9,695.7 731.9,692.3 732.8,688.6 733.8,684.7 734.7,680.7 735.7,676.5 736.6,672.2 737.6,667.7 738.6,663.2 739.5,658.7 740.5,654.1 741.4,649.6 742.4,645.1 743.3,640.7 744.3,636.5 745.3,632.5 746.2,628.6 747.2,625.0 748.1,621.7 749.1,618.7 750.0,616.0 751.0,613.6 752.0,611.7 752.9,610.2 753.9,609.1 754.8,608.4 755.8,608.2 756.7,608.5 757.7,609.2 758.7,610.4 759.6,612.0 760.6,614.1 761.5,616.6 762.5,619.5 763.4,622.8 764.4,626.4 765.4,630.4 766.3,634.7 767.3,639.2 768.2,644.0 769.2,648.9 770.1,654.0 771.1,659.2 772.1,664.5 773.0,669.7 774.0,674.9 774.9,680.0 775.9,685.0 776.8,689.8 777.8,694.4 778.8,698.7 779.7,702.7 780.7,706.4 781.6,709.7 782.6,712.6 783.5,715.1 784.5,717.1 785.5,718.7 786.4,719.8M788.3,720.5 789.3,720.1 790.2,719.2 791.2,717.8 792.2,715.9 793.1,713.6 794.1,710.8 795.0,707.7 796.0,704.1 796.9,700.2 797.9,696.0 798.9,691.5 799.8,686.8 800.8,681.9 801.7,676.8 802.7,671.6 803.6,666.4 804.6,661.2 805.6,656.0 806.5,650.9 807.5,645.9 808.4,641.1 809.4,636.5 810.3,632.2 811.3,628.2 812.3,624.5 813.2,621.1 814.2,618.2 815.1,615.7 816.1,613.6 817.0,612.0 818.0,610.8 819.0,610.2 819.9,610.0 820.9,610.3 821.8,611.1 822.8,612.3 823.7,614.1 824.7,616.2 825.7,618.8 826.6,621.8 827.6,625.2 828.5,629.0 829.5,633.0 830.4,637.3 831.4,641.9 832.4,646.6 833.3,651.5 834.3,656.6 835.2,661.7 836.2,666.8 837.1,671.9 838.1,677.0 839.1,681.9 840.0,686.7 841.0,691.3 841.9,695.7 842.9,699.8 843.8,703.7 844.8,707.2 845.8,710.3 846.7,713.0 847.7,715.4 848.6,717.3 849.6,718.8 850.5,719.8M852.5,720.5 853.4,720.1 854.4,719.3 855.3,718.0 856.3,716.2 857.2,714.1 858.2,711.5 859.2,708.5 860.1,705.1 861.1,701.4 862.0,697.4 863.0,693.0 863.9,688.5 864.9,683.7 865.9,678.7 866.8,673.6 867.8,668.4 868.7,663.1 869.7,657.7 870.6,652.4 871.6,647.1 872.5,642.0 873.5,636.9 874.5,632.0 875.4,627.3 876.4,622.8 877.3,618.6 878.3,614.7 879.2,611.0 880.2,607.8 881.2,604.8 882.1,602.3 883.1,600.2 884.0,598.4 885.0,597.1 885.9,596.2 886.9,595.7 887.9,595.7 888.8,596.1 889.8,596.9 890.7,598.1 891.7,599.7 892.6,601.7 893.6,604.1 894.6,606.9 895.5,610.0 896.5,613.4 897.4,617.1 898.4,621.0 899.3,625.2 900.3,629.6 901.3,634.2 902.2,638.9 903.2,643.8 904.1,648.7 905.1,653.7 906.0,658.7 907.0,663.7 908.0,668.6 908.9,673.5 909.9,678.2 910.8,682.8 911.8,687.3 912.7,691.6 913.7,695.6 914.7,699.4 915.6,703.0 916.6,706.3 917.5,709.2 918.5,711.9 919.4,714.2 920.4,716.2 921.4,717.8 922.3,719.0 923.3,719.9M925.2,720.5 926.1,720.2 927.1,719.6 928.1,718.5 929.0,717.1 930.0,715.4 930.9,713.3 931.9,710.8 932.8,708.0 933.8,704.9 934.8,701.5 935.7,697.7 936.7,693.8 937.6,689.5 938.6,685.1 939.5,680.4 940.5,675.5 941.5,670.4 942.4,665.2 943.4,659.9 944.3,654.5 945.3,648.9 946.2,643.4 947.2,637.7 948.2,632.1 949.1,626.4 950.1,620.8 951.0,615.2 952.0,609.7 952.9,604.2 953.9,598.9 954.9,593.7 955.8,588.6 956.8,583.6 957.7,578.8 958.7,574.2 959.6,569.8 960.6,565.6 961.6,561.5 962.5,557.8 963.5,554.2 964.4,550.9 965.4,547.8 966.3,544.9 967.3,542.4 968.3,540.0 969.2,538.0 970.2,536.2 971.1,534.6 972.1,533.3 973.0,532.3 974.0,531.5 975.0,531.0 975.9,530.7 976.9,530.6 977.8,530.8 978.8,531.2 979.7,531.9 980.7,532.8 981.7,533.8 982.6,535.1 983.6,536.6 984.5,538.2 985.5,540.1 986.4,542.1 987.4,544.2 988.4,546.6 989.3,549.0 990.3,551.6 991.2,554.3 992.2,557.1 993.1,560.0 994.1,563.1 995.1,566.2 996.0,569.3 997.0,572.6 997.9,575.9 998.9,579.2 999.8,582.6 1000.8,586.0 1001.8,589.4 1002.7,592.9 1003.7,596.4 1004.6,599.8 1005.6,603.3 1006.5,606.8 1007.5,610.2 1008.5,613.6 1009.4,617.0 1010.4,620.4 1011.3,623.7 1012.3,627.0 1013.2,630.2 1014.2,633.4 1015.2,636.5 1016.1,639.6 1017.1,642.6 1018.0,645.6 1019.0,648.5 1019.9,651.3 1020.9,654.1 1021.9,656.8 1022.8,659.4 1023.8,662.0 1024.7,664.5 1025.7,666.9 1026.6,669.2 1027.6,671.5 1028.6,673.7 1029.5,675.9 1030.5,677.9 1031.4,679.9 1032.4,681.8 1033.3,683.7 1034.3,685.5 1035.3,687.2 1036.2,688.9 1037.2,690.5 1038.1,692.0 1039.1,693.5 1040.0,694.9 1041.0,696.2 1042.0,697.5 1042.9,698.8 1043.9,699.9 1044.8,701.1 1045.8,702.1 1046.7,703.2 1047.7,704.2 1048.7,705.1 1049.6,706.0 1050.6,706.8 1051.5,707.6 1052.5,708.4 1053.4,709.1 1054.4,709.8 1055.4,710.4 1056.3,711.1 1057.3,711.6 1058.2,712.2 1059.2,712.7 1060.1,713.2 1061.1,713.7 1062.1,714.1 1063.0,714.5 1064.0,714.9 1064.9,715.3 1065.9,715.6 1066.8,716.0 1067.8,716.3 1068.8,716.5 1069.7,716.8 1070.7,717.1 1071.6,717.3 1072.6,717.5 1073.5,717.7 1074.5,717.9 1075.5,718.1 1076.4,718.3 1077.4,718.4 1078.3,718.6 1079.3,718.7 1080.2,718.9 1081.2,719.0 1082.2,719.1 1083.1,719.2 1084.1,719.3 1085.0,719.4 1086.0,719.5 1086.9,719.6 1087.9,719.6 1088.9,719.7 1089.8,719.8 1090.8,719.8 1091.7,719.9 1092.7,719.9 1093.6,720.0 1094.6,720.0 1095.6,720.0 1096.5,720.1 1097.5,720.1 1098.4,720.2 1099.4,720.2 1100.3,720.2 1101.3,720.2 1102.3,720.3 1103.2,720.3 1104.2,720.3"/>
<path d="M715.6,720.4 716.5,720.3 717.5,720.2 718.5,720.0 719.4,719.7 720.4,719.3 721.3,718.8 722.3,718.1 723.2,717.3 724.2,716.4 725.2,715.2 726.1,713.9 727.1,712.4 728.0,710.6 729.0,708.6 729.9,706.4 730.9,704.0 731.9,701.3 732.8,698.5 733.8,695.3 734.7,692.0 735.7,688.5 736.6,684.7 737.6,680.8 738.6,676.8 739.5,672.6 740.5,668.2 741.4,663.9 742.4,659.4 743.3,654.9 744.3,650.5 745.3,646.1 746.2,641.7 747.2,637.5 748.1,633.4 749.1,629.5 750.0,625.8 751.0,622.4 752.0,619.2 752.9,616.3 753.9,613.8 754.8,611.7 755.8,609.9 756.7,608.5 757.7,607.6 758.7,607.1 759.6,607.0 760.6,607.4 761.5,608.2 762.5,609.5 763.4,611.2 764.4,613.4 765.4,616.0 766.3,619.0 767.3,622.3 768.2,626.0 769.2,630.1 770.1,634.4 771.1,639.0 772.1,643.8 773.0,648.8 774.0,653.9 774.9,659.1 775.9,664.4 776.8,669.6 777.8,674.8 778.8,680.0 779.7,685.0 780.7,689.8 781.6,694.3 782.6,698.7 783.5,702.7 784.5,706.4 785.5,709.7 786.4,712.6 787.4,715.1 788.3,717.1 789.3,718.7 790.2,719.8 791.2,720.4 792.2,720.5 793.1,720.1 794.1,719.2 795.0,717.8 796.0,715.9 796.9,713.6 797.9,710.9 798.9,707.7 799.8,704.2 800.8,700.3 801.7,696.1 802.7,691.6 803.6,686.9 804.6,682.0 805.6,676.9 806.5,671.8 807.5,666.5 808.4,661.3 809.4,656.1 810.3,651.0 811.3,646.1 812.3,641.3 813.2,636.7 814.2,632.3 815.1,628.3 816.1,624.6 817.0,621.3 818.0,618.4 819.0,615.8 819.9,613.8 820.9,612.2 821.8,611.0 822.8,610.4 823.7,610.2 824.7,610.5 825.7,611.3 826.6,612.6 827.6,614.3 828.5,616.5 829.5,619.1 830.4,622.1 831.4,625.5 832.4,629.3 833.3,633.3 834.3,637.6 835.2,642.2 836.2,647.0 837.1,651.9 838.1,656.9 839.1,662.0 840.0,667.2 841.0,672.3 841.9,677.3 842.9,682.3 843.8,687.1 844.8,691.7 845.8,696.0 846.7,700.1 847.7,703.9 848.6,707.4 849.6,710.5 850.5,713.3 851.5,715.6 852.5,717.5 853.4,718.9 854.4,719.9 855.3,720.4 856.3,720.5 857.2,720.0 858.2,719.2 859.2,717.8 860.1,716.0 861.1,713.8 862.0,711.2 863.0,708.1 863.9,704.7 864.9,701.0 865.9,696.9 866.8,692.6 867.8,688.0 868.7,683.1 869.7,678.1 870.6,673.0 871.6,667.8 872.5,662.5 873.5,657.1 874.5,651.8 875.4,646.6 876.4,641.4 877.3,636.4 878.3,631.5 879.2,626.8 880.2,622.4 881.2,618.2 882.1,614.3 883.1,610.8 884.0,607.6 885.0,604.7 885.9,602.2 886.9,600.2 887.9,598.5 888.8,597.3 889.8,596.5 890.7,596.1 891.7,596.1 892.6,596.6 893.6,597.5 894.6,598.8 895.5,600.5 896.5,602.7 897.4,605.1 898.4,608.0 899.3,611.1 900.3,614.6 901.3,618.4 902.2,622.4 903.2,626.6 904.1,631.1 905.1,635.7 906.0,640.5 907.0,645.3 908.0,650.3 908.9,655.2 909.9,660.2 910.8,665.2 911.8,670.1 912.7,675.0 913.7,679.7 914.7,684.3 915.6,688.7 916.6,692.9 917.5,696.9 918.5,700.6 919.4,704.1 920.4,707.3 921.4,710.1 922.3,712.7 923.3,714.9 924.2,716.7 925.2,718.2 926.1,719.4 927.1,720.1 928.1,720.5 929.0,720.4 930.0,720.0 930.9,719.3 931.9,718.1 932.8,716.6 933.8,714.7 934.8,712.4 935.7,709.8 936.7,706.9 937.6,703.7 938.6,700.2 939.5,696.4 940.5,692.3 941.5,687.9 942.4,683.4 943.4,678.6 944.3,673.7 945.3,668.6 946.2,663.3 947.2,657.9 948.2,652.5 949.1,646.9 950.1,641.3 951.0,635.6 952.0,630.0 952.9,624.3 953.9,618.7 954.9,613.2 955.8,607.7 956.8,602.3 957.7,597.0 958.7,591.8 959.6,586.8 960.6,581.9 961.6,577.2 962.5,572.6 963.5,568.3 964.4,564.2 965.4,560.3 966.3,556.6 967.3,553.1 968.3,549.9 969.2,547.0 970.2,544.2 971.1,541.8 972.1,539.6 973.0,537.6 974.0,535.9 975.0,534.5 975.9,533.4 976.9,532.4 977.8,531.8 978.8,531.4 979.7,531.2 980.7,531.3 981.7,531.6 982.6,532.1 983.6,532.9 984.5,533.9 985.5,535.1 986.4,536.5 987.4,538.0 988.4,539.8 989.3,541.7 990.3,543.8 991.2,546.1 992.2,548.4 993.1,551.0 994.1,553.6 995.1,556.4 996.0,559.3 997.0,562.2 997.9,565.3 998.9,568.4 999.8,571.7 1000.8,574.9 1001.8,578.2 1002.7,581.6 1003.7,585.0 1004.6,588.4 1005.6,591.9 1006.5,595.4 1007.5,598.8 1008.5,602.3 1009.4,605.8 1010.4,609.2 1011.3,612.6 1012.3,616.0 1013.2,619.4 1014.2,622.7 1015.2,626.0 1016.1,629.3 1017.1,632.5 1018.0,635.6 1019.0,638.7 1019.9,641.8 1020.9,644.8 1021.9,647.7 1022.8,650.5 1023.8,653.3 1024.7,656.1 1025.7,658.7 1026.6,661.3 1027.6,663.8 1028.6,666.3 1029.5,668.6 1030.5,670.9 1031.4,673.2 1032.4,675.3 1033.3,677.4 1034.3,679.4 1035.3,681.4 1036.2,683.3 1037.2,685.1 1038.1,686.8 1039.1,688.5 1040.0,690.1 1041.0,691.6 1042.0,693.1 1042.9,694.6 1043.9,695.9 1044.8,697.2 1045.8,698.5 1046.7,699.7 1047.7,700.8 1048.7,701.9 1049.6,703.0 1050.6,703.9 1051.5,704.9 1052.5,705.8 1053.4,706.6 1054.4,707.5 1055.4,708.2 1056.3,709.0 1057.3,709.7 1058.2,710.3 1059.2,710.9 1060.1,711.5 1061.1,712.1 1062.1,712.6 1063.0,713.1 1064.0,713.6 1064.9,714.0 1065.9,714.5 1066.8,714.9 1067.8,715.2 1068.8,715.6 1069.7,715.9 1070.7,716.2 1071.6,716.5 1072.6,716.8 1073.5,717.0 1074.5,717.3 1075.5,717.5 1076.4,717.7 1077.4,717.9 1078.3,718.1 1079.3,718.3 1080.2,718.4 1081.2,718.6 1082.2,718.7 1083.1,718.8 1084.1,719.0 1085.0,719.1 1086.0,719.2 1086.9,719.3 1087.9,719.4 1088.9,719.5 1089.8,719.5 1090.8,719.6 1091.7,719.7 1092.7,719.8 1093.6,719.8 1094.6,719.9 1095.6,719.9 1096.5,720.0 1097.5,720.0 1098.4,720.0 1099.4,720.1 1100.3,720.1 1101.3,720.1 1102.3,720.2 1103.2,720.2 1104.2,720.2 1105.1,720.3 1106.1,720.3 1107.0,720.3"/>
<path d="M715.6,720.5 716.5,720.4 717.5,720.4 718.5,720.3 719.4,720.2 720.4,720.1 721.3,719.8 722.3,719.6 723.2,719.2 724.2,718.7 725.2,718.2 726.1,717.5 727.1,716.6 728.0,715.7 729.0,714.5 729.9,713.2 730.9,711.7 731.9,710.0 732.8,708.1 733.8,706.0 734.7,703.7 735.7,701.2 736.6,698.4 737.6,695.5 738.6,692.3 739.5,689.0 740.5,685.4 741.4,681.7 742.4,677.8 743.3,673.8 744.3,669.7 745.3,665.5 746.2,661.1 747.2,656.8 748.1,652.4 749.1,648.1 750.0,643.8 751.0,639.5 752.0,635.4 752.9,631.4 753.9,627.6 754.8,624.0 755.8,620.6 756.7,617.5 757.7,614.7 758.7,612.2 759.6,610.1 760.6,608.3 761.5,607.0 762.5,606.0 763.4,605.5 764.4,605.4 765.4,605.7 766.3,606.5 767.3,607.7 768.2,609.3 769.2,611.4 770.1,613.9 771.1,616.8 772.1,620.1 773.0,623.8 774.0,627.7 774.9,632.0 775.9,636.5 776.8,641.3 777.8,646.2 778.8,651.3 779.7,656.5 780.7,661.8 781.6,667.0 782.6,672.3 783.5,677.5 784.5,682.5 785.5,687.4 786.4,692.1 787.4,696.6 788.3,700.8 789.3,704.6 790.2,708.1 791.2,711.2 792.2,713.9 793.1,716.2 794.1,718.0 795.0,719.3 796.0,720.1 796.9,720.5 797.9,720.3 798.9,719.7 799.8,718.5 800.8,716.9 801.7,714.8 802.7,712.3 803.6,709.4 804.6,706.0 805.6,702.3 806.5,698.2 807.5,693.9 808.4,689.3 809.4,684.5 810.3,679.5 811.3,674.4 812.3,669.2 813.2,664.0 814.2,658.8 815.1,653.6 816.1,648.6 817.0,643.7 818.0,639.0 819.0,634.6 819.9,630.4 820.9,626.5 821.8,623.0 822.8,619.9 823.7,617.2 824.7,614.9 825.7,613.1 826.6,611.7 827.6,610.8 828.5,610.4 829.5,610.5 830.4,611.1 831.4,612.2 832.4,613.7 833.3,615.7 834.3,618.1 835.2,621.0 836.2,624.2 837.1,627.8 838.1,631.7 839.1,635.9 840.0,640.4 841.0,645.1 841.9,649.9 842.9,654.9 843.8,660.0 844.8,665.1 845.8,670.3 846.7,675.3 847.7,680.3 848.6,685.2 849.6,689.9 850.5,694.4 851.5,698.6 852.5,702.5 853.4,706.1 854.4,709.4 855.3,712.3 856.3,714.7 857.2,716.8 858.2,718.4 859.2,719.6 860.1,720.3 861.1,720.5 862.0,720.3 863.0,719.5 863.9,718.4 864.9,716.7 865.9,714.7 866.8,712.2 867.8,709.3 868.7,706.0 869.7,702.4 870.6,698.4 871.6,694.1 872.5,689.6 873.5,684.9 874.5,679.9 875.4,674.8 876.4,669.6 877.3,664.3 878.3,659.0 879.2,653.7 880.2,648.4 881.2,643.2 882.1,638.1 883.1,633.2 884.0,628.5 885.0,624.0 885.9,619.7 886.9,615.8 887.9,612.1 888.8,608.8 889.8,605.9 890.7,603.3 891.7,601.1 892.6,599.4 893.6,598.1 894.6,597.1 895.5,596.7 896.5,596.6 897.4,597.0 898.4,597.8 899.3,599.0 900.3,600.7 901.3,602.7 902.2,605.1 903.2,607.9 904.1,611.0 905.1,614.4 906.0,618.1 907.0,622.1 908.0,626.3 908.9,630.7 909.9,635.3 910.8,640.0 911.8,644.9 912.7,649.8 913.7,654.8 914.7,659.8 915.6,664.8 916.6,669.7 917.5,674.6 918.5,679.3 919.4,683.9 920.4,688.3 921.4,692.6 922.3,696.6 923.3,700.3 924.2,703.8 925.2,707.0 926.1,709.9 927.1,712.5 928.1,714.8 929.0,716.6 930.0,718.1 930.9,719.3 931.9,720.1 932.8,720.5 933.8,720.5 934.8,720.1 935.7,719.3 936.7,718.2 937.6,716.6 938.6,714.8 939.5,712.5 940.5,710.0 941.5,707.0 942.4,703.8 943.4,700.3 944.3,696.5 945.3,692.4 946.2,688.1 947.2,683.5 948.2,678.8 949.1,673.8 950.1,668.7 951.0,663.4 952.0,658.0 952.9,652.6 953.9,647.0 954.9,641.4 955.8,635.7 956.8,630.1 957.7,624.4 958.7,618.8 959.6,613.3 960.6,607.8 961.6,602.4 962.5,597.1 963.5,591.9 964.4,586.9 965.4,582.0 966.3,577.3 967.3,572.8 968.3,568.5 969.2,564.4 970.2,560.5 971.1,556.9 972.1,553.4 973.0,550.3 974.0,547.3 975.0,544.6 975.9,542.2 976.9,540.1 977.8,538.1 978.8,536.5 979.7,535.1 980.7,534.0 981.7,533.1 982.6,532.5 983.6,532.1 984.5,532.0 985.5,532.1 986.4,532.5 987.4,533.1 988.4,533.9 989.3,534.9 990.3,536.1 991.2,537.5 992.2,539.1 993.1,540.9 994.1,542.9 995.1,545.0 996.0,547.3 997.0,549.7 997.9,552.3 998.9,555.0 999.8,557.8 1000.8,560.7 1001.8,563.6 1002.7,566.7 1003.7,569.9 1004.6,573.1 1005.6,576.4 1006.5,579.7 1007.5,583.1 1008.5,586.5 1009.4,590.0 1010.4,593.4 1011.3,596.9 1012.3,600.3 1013.2,603.8 1014.2,607.3 1015.2,610.7 1016.1,614.1 1017.1,617.5 1018.0,620.9 1019.0,624.2 1019.9,627.5 1020.9,630.7 1021.9,633.9 1022.8,637.0 1023.8,640.1 1024.7,643.1 1025.7,646.1 1026.6,649.0 1027.6,651.8 1028.6,654.6 1029.5,657.3 1030.5,659.9 1031.4,662.5 1032.4,665.0 1033.3,667.4 1034.3,669.7 1035.3,672.0 1036.2,674.2 1037.2,676.3 1038.1,678.4 1039.1,680.4 1040.0,682.3 1041.0,684.2 1042.0,685.9 1042.9,687.7 1043.9,689.3 1044.8,690.9 1045.8,692.4 1046.7,693.9 1047.7,695.3 1048.7,696.6 1049.6,697.9 1050.6,699.1 1051.5,700.3 1052.5,701.4 1053.4,702.5 1054.4,703.5 1055.4,704.5 1056.3,705.4 1057.3,706.3 1058.2,707.1 1059.2,707.9 1060.1,708.6 1061.1,709.4 1062.1,710.0 1063.0,710.7 1064.0,711.3 1064.9,711.9 1065.9,712.4 1066.8,712.9 1067.8,713.4 1068.8,713.9 1069.7,714.3 1070.7,714.7 1071.6,715.1 1072.6,715.4 1073.5,715.8 1074.5,716.1 1075.5,716.4 1076.4,716.7 1077.4,716.9 1078.3,717.2 1079.3,717.4 1080.2,717.6 1081.2,717.8 1082.2,718.0 1083.1,718.2 1084.1,718.4 1085.0,718.5 1086.0,718.7 1086.9,718.8 1087.9,718.9 1088.9,719.0 1089.8,719.2 1090.8,719.3 1091.7,719.3 1092.7,719.4 1093.6,719.5 1094.6,719.6 1095.6,719.7 1096.5,719.7 1097.5,719.8 1098.4,719.8 1099.4,719.9 1100.3,719.9 1101.3,720.0 1102.3,720.0 1103.2,720.1 1104.2,720.1 1105.1,720.1 1106.1,720.2 1107.0,720.2 1108.0,720.2 1109.0,720.2 1109.9,720.3 1110.9,720.3"/>
<path d="M715.6,720.5 718.5,720.5 719.4,720.4 720.4,720.4 721.3,720.3 722.3,720.2 723.2,720.1 724.2,719.9 725.2,719.7 726.1,719.4 727.1,719.0 728.0,718.6 729.0,718.0 729.9,717.4 730.9,716.6 731.9,715.7 732.8,714.7 733.8,713.5 734.7,712.1 735.7,710.6 736.6,708.9 737.6,707.0 738.6,704.9 739.5,702.6 740.5,700.1 741.4,697.5 742.4,694.6 743.3,691.5 744.3,688.3 745.3,684.9 746.2,681.3 747.2,677.5 748.1,673.6 749.1,669.6 750.0,665.5 751.0,661.3 752.0,657.1 752.9,652.8 753.9,648.5 754.8,644.3 755.8,640.1 756.7,636.0 757.7,632.0 758.7,628.1 759.6,624.5 760.6,621.0 761.5,617.8 762.5,614.8 763.4,612.2 764.4,609.8 765.4,607.8 766.3,606.2 767.3,604.9 768.2,604.1 769.2,603.7 770.1,603.7 771.1,604.1 772.1,605.0 773.0,606.3 774.0,608.0 774.9,610.1 775.9,612.7 776.8,615.6 777.8,618.9 778.8,622.6 779.7,626.6 780.7,630.8 781.6,635.4 782.6,640.2 783.5,645.1 784.5,650.2 785.5,655.4 786.4,660.7 787.4,666.0 788.3,671.3 789.3,676.5 790.2,681.6 791.2,686.5 792.2,691.3 793.1,695.8 794.1,700.0 795.0,703.9 796.0,707.5 796.9,710.7 797.9,713.5 798.9,715.8 799.8,717.7 800.8,719.1 801.7,720.0 802.7,720.5 803.6,720.4 804.6,719.9 805.6,718.8 806.5,717.3 807.5,715.3 808.4,712.9 809.4,710.0 810.3,706.7 811.3,703.1 812.3,699.1 813.2,694.8 814.2,690.3 815.1,685.5 816.1,680.5 817.0,675.5 818.0,670.3 819.0,665.1 819.9,659.9 820.9,654.7 821.8,649.7 822.8,644.8 823.7,640.0 824.7,635.5 825.7,631.3 826.6,627.4 827.6,623.8 828.5,620.6 829.5,617.9 830.4,615.5 831.4,613.6 832.4,612.1 833.3,611.2 834.3,610.7 835.2,610.7 836.2,611.2 837.1,612.2 838.1,613.6 839.1,615.5 840.0,617.9 841.0,620.7 841.9,623.8 842.9,627.4 843.8,631.3 844.8,635.4 845.8,639.9 846.7,644.5 847.7,649.4 848.6,654.3 849.6,659.4 850.5,664.6 851.5,669.7 852.5,674.8 853.4,679.8 854.4,684.7 855.3,689.4 856.3,693.9 857.2,698.1 858.2,702.1 859.2,705.8 860.1,709.1 861.1,712.0 862.0,714.5 863.0,716.6 863.9,718.3 864.9,719.5 865.9,720.2 866.8,720.5 867.8,720.3 868.7,719.6 869.7,718.5 870.6,716.9 871.6,714.8 872.5,712.4 873.5,709.5 874.5,706.2 875.4,702.6 876.4,698.7 877.3,694.4 878.3,689.9 879.2,685.2 880.2,680.3 881.2,675.2 882.1,670.0 883.1,664.7 884.0,659.3 885.0,654.0 885.9,648.7 886.9,643.6 887.9,638.5 888.8,633.6 889.8,628.8 890.7,624.3 891.7,620.1 892.6,616.1 893.6,612.5 894.6,609.2 895.5,606.3 896.5,603.7 897.4,601.6 898.4,599.9 899.3,598.5 900.3,597.6 901.3,597.2 902.2,597.2 903.2,597.6 904.1,598.4 905.1,599.7 906.0,601.4 907.0,603.4 908.0,605.9 908.9,608.7 909.9,611.8 910.8,615.3 911.8,619.0 912.7,623.0 913.7,627.2 914.7,631.7 915.6,636.3 916.6,641.1 917.5,645.9 918.5,650.9 919.4,655.8 920.4,660.8 921.4,665.8 922.3,670.7 923.3,675.6 924.2,680.3 925.2,684.9 926.1,689.3 927.1,693.5 928.1,697.4 929.0,701.1 930.0,704.6 930.9,707.7 931.9,710.6 932.8,713.1 933.8,715.2 934.8,717.0 935.7,718.5 936.7,719.5 937.6,720.2 938.6,720.5 939.5,720.4 940.5,719.9 941.5,719.1 942.4,717.8 943.4,716.2 944.3,714.2 945.3,711.9 946.2,709.2 947.2,706.2 948.2,702.9 949.1,699.3 950.1,695.4 951.0,691.3 952.0,686.9 952.9,682.2 953.9,677.4 954.9,672.4 955.8,667.2 956.8,661.9 957.7,656.5 958.7,651.0 959.6,645.4 960.6,639.8 961.6,634.2 962.5,628.5 963.5,622.9 964.4,617.3 965.4,611.7 966.3,606.3 967.3,600.9 968.3,595.7 969.2,590.6 970.2,585.6 971.1,580.8 972.1,576.2 973.0,571.7 974.0,567.5 975.0,563.5 975.9,559.7 976.9,556.1 977.8,552.8 978.8,549.7 979.7,546.9 980.7,544.3 981.7,542.0 982.6,540.0 983.6,538.2 984.5,536.7 985.5,535.4 986.4,534.4 987.4,533.6 988.4,533.1 989.3,532.9 990.3,532.9 991.2,533.1 992.2,533.6 993.1,534.3 994.1,535.2 995.1,536.3 996.0,537.6 997.0,539.2 997.9,540.9 998.9,542.8 999.8,544.8 1000.8,547.0 1001.8,549.4 1002.7,551.9 1003.7,554.5 1004.6,557.2 1005.6,560.1 1006.5,563.1 1007.5,566.1 1008.5,569.2 1009.4,572.4 1010.4,575.7 1011.3,579.0 1012.3,582.4 1013.2,585.8 1014.2,589.2 1015.2,592.6 1016.1,596.1 1017.1,599.6 1018.0,603.0 1019.0,606.5 1019.9,609.9 1020.9,613.3 1021.9,616.7 1022.8,620.1 1023.8,623.5 1024.7,626.8 1025.7,630.0 1026.6,633.2 1027.6,636.4 1028.6,639.5 1029.5,642.5 1030.5,645.5 1031.4,648.4 1032.4,651.2 1033.3,654.0 1034.3,656.8 1035.3,659.4 1036.2,662.0 1037.2,664.5 1038.1,666.9 1039.1,669.3 1040.0,671.6 1041.0,673.8 1042.0,676.0 1042.9,678.0 1043.9,680.0 1044.8,682.0 1045.8,683.9 1046.7,685.7 1047.7,687.4 1048.7,689.0 1049.6,690.6 1050.6,692.2 1051.5,693.7 1052.5,695.1 1053.4,696.4 1054.4,697.7 1055.4,699.0 1056.3,700.1 1057.3,701.3 1058.2,702.3 1059.2,703.4 1060.1,704.4 1061.1,705.3 1062.1,706.2 1063.0,707.0 1064.0,707.8 1064.9,708.6 1065.9,709.3 1066.8,710.0 1067.8,710.6 1068.8,711.2 1069.7,711.8 1070.7,712.4 1071.6,712.9 1072.6,713.4 1073.5,713.8 1074.5,714.3 1075.5,714.7 1076.4,715.1 1077.4,715.4 1078.3,715.8 1079.3,716.1 1080.2,716.4 1081.2,716.7 1082.2,716.9 1083.1,717.2 1084.1,717.4 1085.0,717.6 1086.0,717.8 1086.9,718.0 1087.9,718.2 1088.9,718.4 1089.8,718.5 1090.8,718.7 1091.7,718.8 1092.7,718.9 1093.6,719.0 1094.6,719.2 1095.6,719.3 1096.5,719.4 1097.5,719.4 1098.4,719.5 1099.4,719.6 1100.3,719.7 1101.3,719.7 1102.3,719.8 1103.2,719.8 1104.2,719.9 1105.1,719.9 1106.1,720.0 1107.0,720.0 1108.0,720.1 1109.0,720.1 1109.9,720.1 1110.9,720.2 1111.8,720.2 1112.8,720.2 1113.7,720.2 1114.7,720.3 1115.7,720.3"/>
<path d="M715.6,720.5 721.3,720.5 722.3,720.4 723.2,720.4 724.2,720.3 725.2,720.2 726.1,720.1 727.1,720.0 728.0,719.8 729.0,719.6 729.9,719.3 730.9,719.0 731.9,718.6 732.8,718.1 733.8,717.5 734.7,716.8 735.7,716.0 736.6,715.1 737.6,714.1 738.6,712.9 739.5,711.6 740.5,710.1 741.4,708.4 742.4,706.6 743.3,704.6 744.3,702.4 745.3,700.0 746.2,697.5 747.2,694.7 748.1,691.8 749.1,688.7 750.0,685.4 751.0,682.0 752.0,678.4 752.9,674.7 753.9,670.8 754.8,666.8 755.8,662.8 756.7,658.6 757.7,654.5 758.7,650.3 759.6,646.1 760.6,641.9 761.5,637.8 762.5,633.8 763.4,629.8 764.4,626.1 765.4,622.5 766.3,619.1 767.3,615.9 768.2,613.0 769.2,610.4 770.1,608.1 771.1,606.2 772.1,604.5 773.0,603.3 774.0,602.5 774.9,602.0 775.9,602.0 776.8,602.4 777.8,603.2 778.8,604.5 779.7,606.1 780.7,608.2 781.6,610.7 782.6,613.6 783.5,616.8 784.5,620.4 785.5,624.3 786.4,628.6 787.4,633.0 788.3,637.8 789.3,642.7 790.2,647.8 791.2,653.0 792.2,658.3 793.1,663.6 794.1,668.9 795.0,674.1 796.0,679.3 796.9,684.3 797.9,689.2 798.9,693.8 799.8,698.1 800.8,702.2 801.7,705.9 802.7,709.3 803.6,712.2 804.6,714.8 805.6,716.9 806.5,718.5 807.5,719.7 808.4,720.3 809.4,720.5 810.3,720.2 811.3,719.4 812.3,718.1 813.2,716.3 814.2,714.1 815.1,711.4 816.1,708.3 817.0,704.8 818.0,701.0 819.0,696.9 819.9,692.5 820.9,687.8 821.8,682.9 822.8,677.9 823.7,672.8 824.7,667.6 825.7,662.4 826.6,657.2 827.6,652.1 828.5,647.1 829.5,642.3 830.4,637.7 831.4,633.4 832.4,629.3 833.3,625.6 834.3,622.2 835.2,619.3 836.2,616.7 837.1,614.6 838.1,612.9 839.1,611.7 840.0,611.0 841.0,610.8 841.9,611.1 842.9,611.9 843.8,613.1 844.8,614.8 845.8,617.0 846.7,619.6 847.7,622.6 848.6,626.0 849.6,629.7 850.5,633.7 851.5,638.1 852.5,642.6 853.4,647.4 854.4,652.3 855.3,657.4 856.3,662.5 857.2,667.6 858.2,672.7 859.2,677.8 860.1,682.7 861.1,687.5 862.0,692.1 863.0,696.5 863.9,700.6 864.9,704.4 865.9,707.8 866.8,710.9 867.8,713.6 868.7,715.9 869.7,717.7 870.6,719.1 871.6,720.0 872.5,720.5 873.5,720.4 874.5,719.9 875.4,719.0 876.4,717.5 877.3,715.7 878.3,713.3 879.2,710.6 880.2,707.5 881.2,704.0 882.1,700.2 883.1,696.0 884.0,691.6 885.0,686.9 885.9,682.0 886.9,677.0 887.9,671.8 888.8,666.6 889.8,661.2 890.7,655.9 891.7,650.6 892.6,645.4 893.6,640.3 894.6,635.3 895.5,630.5 896.5,626.0 897.4,621.7 898.4,617.6 899.3,613.9 900.3,610.5 901.3,607.5 902.2,604.9 903.2,602.6 904.1,600.8 905.1,599.3 906.0,598.3 907.0,597.8 908.0,597.7 908.9,598.0 909.9,598.7 910.8,599.9 911.8,601.5 912.7,603.5 913.7,605.8 914.7,608.6 915.6,611.6 916.6,615.0 917.5,618.7 918.5,622.7 919.4,626.9 920.4,631.3 921.4,635.9 922.3,640.6 923.3,645.5 924.2,650.4 925.2,655.4 926.1,660.4 927.1,665.4 928.1,670.3 929.0,675.1 930.0,679.9 930.9,684.5 931.9,688.9 932.8,693.1 933.8,697.1 934.8,700.8 935.7,704.3 936.7,707.5 937.6,710.3 938.6,712.9 939.5,715.1 940.5,716.9 941.5,718.4 942.4,719.5 943.4,720.2 944.3,720.5 945.3,720.4 946.2,720.0 947.2,719.1 948.2,717.9 949.1,716.3 950.1,714.3 951.0,712.0 952.0,709.4 952.9,706.4 953.9,703.1 954.9,699.4 955.8,695.6 956.8,691.4 957.7,687.0 958.7,682.4 959.6,677.5 960.6,672.5 961.6,667.4 962.5,662.1 963.5,656.6 964.4,651.1 965.4,645.6 966.3,639.9 967.3,634.3 968.3,628.6 969.2,623.0 970.2,617.4 971.1,611.9 972.1,606.4 973.0,601.1 974.0,595.8 975.0,590.7 975.9,585.8 976.9,581.0 977.8,576.4 978.8,572.0 979.7,567.8 980.7,563.8 981.7,560.0 982.6,556.5 983.6,553.2 984.5,550.1 985.5,547.3 986.4,544.8 987.4,542.5 988.4,540.5 989.3,538.8 990.3,537.3 991.2,536.1 992.2,535.1 993.1,534.4 994.1,533.9 995.1,533.7 996.0,533.8 997.0,534.0 997.9,534.6 998.9,535.3 999.8,536.3 1000.8,537.4 1001.8,538.8 1002.7,540.3 1003.7,542.1 1004.6,544.0 1005.6,546.1 1006.5,548.3 1007.5,550.7 1008.5,553.3 1009.4,555.9 1010.4,558.7 1011.3,561.6 1012.3,564.6 1013.2,567.6 1014.2,570.8 1015.2,574.0 1016.1,577.3 1017.1,580.6 1018.0,584.0 1019.0,587.4 1019.9,590.8 1020.9,594.2 1021.9,597.7 1022.8,601.2 1023.8,604.6 1024.7,608.1 1025.7,611.5 1026.6,615.0 1027.6,618.3 1028.6,621.7 1029.5,625.0 1030.5,628.3 1031.4,631.5 1032.4,634.7 1033.3,637.9 1034.3,640.9 1035.3,644.0 1036.2,646.9 1037.2,649.8 1038.1,652.6 1039.1,655.4 1040.0,658.1 1041.0,660.7 1042.0,663.3 1042.9,665.7 1043.9,668.1 1044.8,670.5 1045.8,672.7 1046.7,674.9 1047.7,677.1 1048.7,679.1 1049.6,681.1 1050.6,683.0 1051.5,684.8 1052.5,686.6 1053.4,688.3 1054.4,689.9 1055.4,691.5 1056.3,693.0 1057.3,694.4 1058.2,695.8 1059.2,697.2 1060.1,698.4 1061.1,699.6 1062.1,700.8 1063.0,701.9 1064.0,702.9 1064.9,703.9 1065.9,704.9 1066.8,705.8 1067.8,706.7 1068.8,707.5 1069.7,708.3 1070.7,709.0 1071.6,709.7 1072.6,710.4 1073.5,711.0 1074.5,711.6 1075.5,712.2 1076.4,712.7 1077.4,713.2 1078.3,713.7 1079.3,714.1 1080.2,714.5 1081.2,714.9 1082.2,715.3 1083.1,715.6 1084.1,716.0 1085.0,716.3 1086.0,716.6 1086.9,716.8 1087.9,717.1 1088.9,717.3 1089.8,717.6 1090.8,717.8 1091.7,718.0 1092.7,718.1 1093.6,718.3 1094.6,718.5 1095.6,718.6 1096.5,718.8 1097.5,718.9 1098.4,719.0 1099.4,719.1 1100.3,719.2 1101.3,719.3 1102.3,719.4 1103.2,719.5 1104.2,719.6 1105.1,719.6 1106.1,719.7 1107.0,719.8 1108.0,719.8 1109.0,719.9 1109.9,719.9 1110.9,720.0 1111.8,720.0 1112.8,720.1 1113.7,720.1 1114.7,720.1 1115.7,720.2 1116.6,720.2 1117.6,720.2 1118.5,720.2 1119.5,720.3 1120.4,720.3"/>
<path d="M715.6,720.5 724.2,720.5 725.2,720.4 726.1,720.4 727.1,720.4 728.0,720.3 729.0,720.2 729.9,720.1 730.9,720.0 731.9,719.8 732.8,719.6 733.8,719.4 734.7,719.1 735.7,718.7 736.6,718.3 737.6,717.8 738.6,717.2 739.5,716.5 740.5,715.7 741.4,714.8 742.4,713.8 743.3,712.6 744.3,711.4 745.3,709.9 746.2,708.3 747.2,706.6 748.1,704.7 749.1,702.6 750.0,700.3 751.0,697.9 752.0,695.3 752.9,692.5 753.9,689.6 754.8,686.4 755.8,683.1 756.7,679.7 757.7,676.1 758.7,672.4 759.6,668.6 760.6,664.6 761.5,660.6 762.5,656.6 763.4,652.4 764.4,648.3 765.4,644.2 766.3,640.1 767.3,636.0 768.2,632.0 769.2,628.2 770.1,624.5 771.1,620.9 772.1,617.6 773.0,614.5 774.0,611.6 774.9,609.0 775.9,606.7 776.8,604.8 777.8,603.1 778.8,601.9 779.7,601.0 780.7,600.5 781.6,600.4 782.6,600.8 783.5,601.5 784.5,602.7 785.5,604.3 786.4,606.3 787.4,608.7 788.3,611.4 789.3,614.6 790.2,618.1 791.2,621.9 792.2,626.1 793.1,630.5 794.1,635.2 795.0,640.0 796.0,645.1 796.9,650.3 797.9,655.5 798.9,660.9 799.8,666.2 800.8,671.5 801.7,676.7 802.7,681.8 803.6,686.8 804.6,691.5 805.6,696.0 806.5,700.2 807.5,704.1 808.4,707.6 809.4,710.8 810.3,713.5 811.3,715.9 812.3,717.7 813.2,719.1 814.2,720.0 815.1,720.5 816.1,720.4 817.0,719.8 818.0,718.8 819.0,717.3 819.9,715.3 820.9,712.8 821.8,710.0 822.8,706.7 823.7,703.1 824.7,699.1 825.7,694.8 826.6,690.3 827.6,685.5 828.5,680.6 829.5,675.5 830.4,670.4 831.4,665.2 832.4,660.0 833.3,654.8 834.3,649.8 835.2,644.9 836.2,640.2 837.1,635.7 838.1,631.5 839.1,627.6 840.0,624.0 841.0,620.9 841.9,618.1 842.9,615.7 843.8,613.8 844.8,612.4 845.8,611.5 846.7,611.0 847.7,611.0 848.6,611.6 849.6,612.6 850.5,614.0 851.5,616.0 852.5,618.4 853.4,621.2 854.4,624.3 855.3,627.9 856.3,631.8 857.2,636.0 858.2,640.5 859.2,645.1 860.1,650.0 861.1,655.0 862.0,660.1 863.0,665.2 863.9,670.4 864.9,675.4 865.9,680.4 866.8,685.3 867.8,690.0 868.7,694.5 869.7,698.7 870.6,702.7 871.6,706.3 872.5,709.5 873.5,712.4 874.5,714.9 875.4,716.9 876.4,718.5 877.3,719.6 878.3,720.3 879.2,720.5 880.2,720.2 881.2,719.5 882.1,718.2 883.1,716.5 884.0,714.4 885.0,711.9 885.9,708.9 886.9,705.6 887.9,701.9 888.8,697.8 889.8,693.5 890.7,689.0 891.7,684.2 892.6,679.2 893.6,674.1 894.6,668.8 895.5,663.5 896.5,658.2 897.4,652.9 898.4,647.6 899.3,642.5 900.3,637.5 901.3,632.6 902.2,628.0 903.2,623.6 904.1,619.4 905.1,615.6 906.0,612.1 907.0,608.9 908.0,606.2 908.9,603.8 909.9,601.8 910.8,600.2 911.8,599.1 912.7,598.4 913.7,598.2 914.7,598.3 915.6,599.0 916.6,600.0 917.5,601.5 918.5,603.3 919.4,605.6 920.4,608.2 921.4,611.2 922.3,614.5 923.3,618.1 924.2,622.0 925.2,626.1 926.1,630.5 927.1,635.0 928.1,639.7 929.0,644.6 930.0,649.5 930.9,654.4 931.9,659.4 932.8,664.4 933.8,669.4 934.8,674.2 935.7,679.0 936.7,683.6 937.6,688.1 938.6,692.4 939.5,696.4 940.5,700.2 941.5,703.7 942.4,707.0 943.4,709.9 944.3,712.5 945.3,714.7 946.2,716.6 947.2,718.2 948.2,719.3 949.1,720.1 950.1,720.5 951.0,720.4 952.0,720.0 952.9,719.3 953.9,718.1 954.9,716.5 955.8,714.6 956.8,712.4 957.7,709.7 958.7,706.8 959.6,703.5 960.6,699.9 961.6,696.1 962.5,691.9 963.5,687.6 964.4,683.0 965.4,678.2 966.3,673.2 967.3,668.0 968.3,662.7 969.2,657.3 970.2,651.8 971.1,646.2 972.1,640.6 973.0,634.9 974.0,629.3 975.0,623.6 975.9,618.1 976.9,612.5 977.8,607.1 978.8,601.7 979.7,596.5 980.7,591.4 981.7,586.4 982.6,581.6 983.6,577.0 984.5,572.6 985.5,568.4 986.4,564.4 987.4,560.7 988.4,557.1 989.3,553.8 990.3,550.8 991.2,548.0 992.2,545.5 993.1,543.2 994.1,541.2 995.1,539.5 996.0,538.0 997.0,536.8 997.9,535.9 998.9,535.2 999.8,534.7 1000.8,534.5 1001.8,534.6 1002.7,534.9 1003.7,535.4 1004.6,536.2 1005.6,537.2 1006.5,538.4 1007.5,539.7 1008.5,541.3 1009.4,543.1 1010.4,545.0 1011.3,547.1 1012.3,549.4 1013.2,551.8 1014.2,554.4 1015.2,557.0 1016.1,559.8 1017.1,562.7 1018.0,565.7 1019.0,568.8 1019.9,572.0 1020.9,575.2 1021.9,578.5 1022.8,581.8 1023.8,585.2 1024.7,588.6 1025.7,592.0 1026.6,595.5 1027.6,598.9 1028.6,602.4 1029.5,605.9 1030.5,609.3 1031.4,612.8 1032.4,616.2 1033.3,619.5 1034.3,622.9 1035.3,626.2 1036.2,629.5 1037.2,632.7 1038.1,635.9 1039.1,639.0 1040.0,642.1 1041.0,645.1 1042.0,648.0 1042.9,650.9 1043.9,653.7 1044.8,656.4 1045.8,659.1 1046.7,661.7 1047.7,664.2 1048.7,666.7 1049.6,669.1 1050.6,671.4 1051.5,673.6 1052.5,675.8 1053.4,677.9 1054.4,679.9 1055.4,681.9 1056.3,683.8 1057.3,685.6 1058.2,687.3 1059.2,689.0 1060.1,690.6 1061.1,692.2 1062.1,693.6 1063.0,695.1 1064.0,696.4 1064.9,697.7 1065.9,699.0 1066.8,700.2 1067.8,701.3 1068.8,702.4 1069.7,703.4 1070.7,704.4 1071.6,705.3 1072.6,706.2 1073.5,707.1 1074.5,707.9 1075.5,708.6 1076.4,709.4 1077.4,710.0 1078.3,710.7 1079.3,711.3 1080.2,711.9 1081.2,712.4 1082.2,712.9 1083.1,713.4 1084.1,713.9 1085.0,714.3 1086.0,714.7 1086.9,715.1 1087.9,715.5 1088.9,715.8 1089.8,716.1 1090.8,716.4 1091.7,716.7 1092.7,717.0 1093.6,717.2 1094.6,717.5 1095.6,717.7 1096.5,717.9 1097.5,718.1 1098.4,718.2 1099.4,718.4 1100.3,718.6 1101.3,718.7 1102.3,718.8 1103.2,719.0 1104.2,719.1 1105.1,719.2 1106.1,719.3 1107.0,719.4 1108.0,719.5 1109.0,719.5 1109.9,719.6 1110.9,719.7 1111.8,719.8 1112.8,719.8 1113.7,719.9 1114.7,719.9 1115.7,720.0 1116.6,720.0 1117.6,720.1 1118.5,720.1 1119.5,720.1 1120.4,720.2 1121.4,720.2 1122.4,720.2 1123.3,720.2 1124.3,720.3 1125.2,720.3 1126.2,720.3"/>
<path d="M715.6,720.5 727.1,720.5 728.0,720.4 729.0,720.4 729.9,720.4 730.9,720.3 731.9,720.3 732.8,720.2 733.8,720.1 734.7,720.0 735.7,719.8 736.6,719.7 737.6,719.4 738.6,719.2 739.5,718.9 740.5,718.5 741.4,718.1 742.4,717.5 743.3,717.0 744.3,716.3 745.3,715.5 746.2,714.6 747.2,713.6 748.1,712.5 749.1,711.3 750.0,709.9 751.0,708.4 752.0,706.7 752.9,704.9 753.9,702.9 754.8,700.7 755.8,698.4 756.7,695.9 757.7,693.3 758.7,690.5 759.6,687.5 760.6,684.3 761.5,681.1 762.5,677.6 763.4,674.0 764.4,670.3 765.4,666.5 766.3,662.6 767.3,658.7 768.2,654.6 769.2,650.5 770.1,646.5 771.1,642.4 772.1,638.3 773.0,634.3 774.0,630.4 774.9,626.6 775.9,623.0 776.8,619.5 777.8,616.2 778.8,613.1 779.7,610.2 780.7,607.7 781.6,605.4 782.6,603.4 783.5,601.8 784.5,600.5 785.5,599.6 786.4,599.1 787.4,599.0 788.3,599.3 789.3,600.0 790.2,601.1 791.2,602.6 792.2,604.5 793.1,606.8 794.1,609.6 795.0,612.6 796.0,616.1 796.9,619.8 797.9,623.9 798.9,628.3 799.8,632.9 800.8,637.7 801.7,642.7 802.7,647.9 803.6,653.1 804.6,658.5 805.6,663.8 806.5,669.1 807.5,674.4 808.4,679.6 809.4,684.6 810.3,689.4 811.3,694.0 812.3,698.4 813.2,702.4 814.2,706.1 815.1,709.4 816.1,712.4 817.0,714.9 818.0,716.9 819.0,718.6 819.9,719.7 820.9,720.3 821.8,720.5 822.8,720.2 823.7,719.3 824.7,718.0 825.7,716.2 826.6,714.0 827.6,711.3 828.5,708.3 829.5,704.8 830.4,701.0 831.4,696.9 832.4,692.4 833.3,687.8 834.3,682.9 835.2,677.9 836.2,672.8 837.1,667.6 838.1,662.4 839.1,657.3 840.0,652.2 841.0,647.2 841.9,642.4 842.9,637.8 843.8,633.5 844.8,629.4 845.8,625.7 846.7,622.4 847.7,619.4 848.6,616.9 849.6,614.8 850.5,613.1 851.5,612.0 852.5,611.3 853.4,611.1 854.4,611.4 855.3,612.2 856.3,613.4 857.2,615.1 858.2,617.3 859.2,619.9 860.1,623.0 861.1,626.4 862.0,630.1 863.0,634.2 863.9,638.5 864.9,643.1 865.9,647.9 866.8,652.9 867.8,657.9 868.7,663.0 869.7,668.2 870.6,673.3 871.6,678.3 872.5,683.3 873.5,688.1 874.5,692.6 875.4,697.0 876.4,701.1 877.3,704.8 878.3,708.2 879.2,711.3 880.2,713.9 881.2,716.1 882.1,717.9 883.1,719.2 884.0,720.1 885.0,720.5 885.9,720.4 886.9,719.8 887.9,718.8 888.8,717.3 889.8,715.3 890.7,712.9 891.7,710.1 892.6,706.9 893.6,703.4 894.6,699.5 895.5,695.2 896.5,690.8 897.4,686.1 898.4,681.1 899.3,676.1 900.3,670.9 901.3,665.6 902.2,660.3 903.2,655.0 904.1,649.7 905.1,644.5 906.0,639.4 907.0,634.5 908.0,629.8 908.9,625.3 909.9,621.1 910.8,617.1 911.8,613.5 912.7,610.3 913.7,607.4 914.7,604.9 915.6,602.8 916.6,601.1 917.5,599.8 918.5,599.0 919.4,598.6 920.4,598.7 921.4,599.2 922.3,600.1 923.3,601.5 924.2,603.2 925.2,605.4 926.1,607.9 927.1,610.8 928.1,614.0 929.0,617.6 930.0,621.4 930.9,625.5 931.9,629.8 932.8,634.3 933.8,638.9 934.8,643.7 935.7,648.6 936.7,653.6 937.6,658.6 938.6,663.6 939.5,668.6 940.5,673.4 941.5,678.2 942.4,682.9 943.4,687.4 944.3,691.7 945.3,695.8 946.2,699.6 947.2,703.2 948.2,706.5 949.1,709.5 950.1,712.1 951.0,714.4 952.0,716.4 952.9,718.0 953.9,719.2 954.9,720.0 955.8,720.4 956.8,720.5 957.7,720.1 958.7,719.4 959.6,718.3 960.6,716.8 961.6,714.9 962.5,712.7 963.5,710.1 964.4,707.2 965.4,703.9 966.3,700.4 967.3,696.5 968.3,692.4 969.2,688.1 970.2,683.5 971.1,678.7 972.1,673.7 973.0,668.6 974.0,663.3 975.0,657.9 975.9,652.4 976.9,646.8 977.8,641.2 978.8,635.5 979.7,629.9 980.7,624.2 981.7,618.6 982.6,613.1 983.6,607.6 984.5,602.3 985.5,597.0 986.4,591.9 987.4,587.0 988.4,582.2 989.3,577.6 990.3,573.2 991.2,569.0 992.2,565.0 993.1,561.2 994.1,557.7 995.1,554.4 996.0,551.4 997.0,548.6 997.9,546.1 998.9,543.9 999.8,541.9 1000.8,540.2 1001.8,538.7 1002.7,537.5 1003.7,536.6 1004.6,535.9 1005.6,535.5 1006.5,535.3 1007.5,535.4 1008.5,535.7 1009.4,536.3 1010.4,537.0 1011.3,538.0 1012.3,539.3 1013.2,540.7 1014.2,542.3 1015.2,544.1 1016.1,546.0 1017.1,548.1 1018.0,550.4 1019.0,552.9 1019.9,555.4 1020.9,558.1 1021.9,560.9 1022.8,563.8 1023.8,566.8 1024.7,569.9 1025.7,573.1 1026.6,576.3 1027.6,579.6 1028.6,583.0 1029.5,586.3 1030.5,589.8 1031.4,593.2 1032.4,596.7 1033.3,600.1 1034.3,603.6 1035.3,607.0 1036.2,610.5 1037.2,613.9 1038.1,617.3 1039.1,620.7 1040.0,624.0 1041.0,627.4 1042.0,630.6 1042.9,633.8 1043.9,637.0 1044.8,640.1 1045.8,643.1 1046.7,646.1 1047.7,649.0 1048.7,651.9 1049.6,654.7 1050.6,657.4 1051.5,660.1 1052.5,662.6 1053.4,665.2 1054.4,667.6 1055.4,670.0 1056.3,672.3 1057.3,674.5 1058.2,676.6 1059.2,678.7 1060.1,680.7 1061.1,682.6 1062.1,684.5 1063.0,686.3 1064.0,688.0 1064.9,689.7 1065.9,691.3 1066.8,692.8 1067.8,694.2 1068.8,695.6 1069.7,697.0 1070.7,698.3 1071.6,699.5 1072.6,700.7 1073.5,701.8 1074.5,702.8 1075.5,703.9 1076.4,704.8 1077.4,705.7 1078.3,706.6 1079.3,707.4 1080.2,708.2 1081.2,709.0 1082.2,709.7 1083.1,710.3 1084.1,711.0 1085.0,711.6 1086.0,712.1 1086.9,712.7 1087.9,713.2 1088.9,713.7 1089.8,714.1 1090.8,714.5 1091.7,714.9 1092.7,715.3 1093.6,715.7 1094.6,716.0 1095.6,716.3 1096.5,716.6 1097.5,716.9 1098.4,717.1 1099.4,717.3 1100.3,717.6 1101.3,717.8 1102.3,718.0 1103.2,718.2 1104.2,718.3 1105.1,718.5 1106.1,718.6 1107.0,718.8 1108.0,718.9 1109.0,719.0 1109.9,719.1 1110.9,719.2 1111.8,719.3 1112.8,719.4 1113.7,719.5 1114.7,719.6 1115.7,719.7 1116.6,719.7 1117.6,719.8 1118.5,719.8 1119.5,719.9 1120.4,719.9 1121.4,720.0 1122.4,720.0 1123.3,720.1 1124.3,720.1 1125.2,720.1 1126.2,720.2 1127.1,720.2 1128.1,720.2 1129.1,720.2 1130.0,720.3 1131.0,720.3"/>
<path d="M715.6,720.5 730.9,720.5 731.9,720.4 732.8,720.4 733.8,720.4 734.7,720.3 735.7,720.3 736.6,720.2 737.6,720.1 738.6,720.0 739.5,719.9 740.5,719.7 741.4,719.5 742.4,719.3 743.3,719.0 744.3,718.7 745.3,718.3 746.2,717.9 747.2,717.4 748.1,716.8 749.1,716.1 750.0,715.4 751.0,714.5 752.0,713.5 752.9,712.5 753.9,711.3 754.8,709.9 755.8,708.5 756.7,706.9 757.7,705.1 758.7,703.2 759.6,701.1 760.6,698.9 761.5,696.6 762.5,694.0 763.4,691.3 764.4,688.5 765.4,685.4 766.3,682.3 767.3,679.0 768.2,675.5 769.2,671.9 770.1,668.2 771.1,664.4 772.1,660.6 773.0,656.6 774.0,652.6 774.9,648.6 775.9,644.5 776.8,640.5 777.8,636.5 778.8,632.6 779.7,628.7 780.7,625.0 781.6,621.4 782.6,617.9 783.5,614.7 784.5,611.6 785.5,608.8 786.4,606.3 787.4,604.0 788.3,602.1 789.3,600.5 790.2,599.2 791.2,598.3 792.2,597.8 793.1,597.7 794.1,598.0 795.0,598.6 796.0,599.7 796.9,601.2 797.9,603.1 798.9,605.4 799.8,608.0 800.8,611.1 801.7,614.5 802.7,618.2 803.6,622.2 804.6,626.6 805.6,631.1 806.5,635.9 807.5,640.9 808.4,646.1 809.4,651.3 810.3,656.6 811.3,662.0 812.3,667.3 813.2,672.6 814.2,677.9 815.1,682.9 816.1,687.8 817.0,692.5 818.0,696.9 819.0,701.1 819.9,704.9 820.9,708.3 821.8,711.4 822.8,714.1 823.7,716.3 824.7,718.1 825.7,719.4 826.6,720.2 827.6,720.5 828.5,720.3 829.5,719.7 830.4,718.5 831.4,716.9 832.4,714.8 833.3,712.3 834.3,709.4 835.2,706.1 836.2,702.4 837.1,698.4 838.1,694.1 839.1,689.5 840.0,684.7 841.0,679.8 841.9,674.7 842.9,669.5 843.8,664.3 844.8,659.1 845.8,654.0 846.7,649.0 847.7,644.2 848.6,639.5 849.6,635.1 850.5,630.9 851.5,627.1 852.5,623.6 853.4,620.5 854.4,617.8 855.3,615.5 856.3,613.7 857.2,612.4 858.2,611.5 859.2,611.2 860.1,611.3 861.1,611.9 862.0,613.0 863.0,614.6 863.9,616.6 864.9,619.1 865.9,622.0 866.8,625.2 867.8,628.9 868.7,632.8 869.7,637.1 870.6,641.6 871.6,646.3 872.5,651.2 873.5,656.2 874.5,661.4 875.4,666.5 876.4,671.6 877.3,676.7 878.3,681.7 879.2,686.5 880.2,691.2 881.2,695.6 882.1,699.8 883.1,703.6 884.0,707.2 885.0,710.3 885.9,713.1 886.9,715.5 887.9,717.4 888.8,718.9 889.8,719.9 890.7,720.4 891.7,720.5 892.6,720.0 893.6,719.1 894.6,717.8 895.5,716.0 896.5,713.7 897.4,711.0 898.4,707.9 899.3,704.5 900.3,700.7 901.3,696.5 902.2,692.1 903.2,687.5 904.1,682.6 905.1,677.6 906.0,672.4 907.0,667.2 908.0,661.8 908.9,656.5 909.9,651.2 910.8,646.0 911.8,640.9 912.7,636.0 913.7,631.2 914.7,626.7 915.6,622.4 916.6,618.4 917.5,614.7 918.5,611.3 919.4,608.4 920.4,605.8 921.4,603.6 922.3,601.8 923.3,600.5 924.2,599.6 925.2,599.1 926.1,599.1 927.1,599.5 928.1,600.3 929.0,601.6 930.0,603.3 930.9,605.3 931.9,607.8 932.8,610.6 933.8,613.8 934.8,617.3 935.7,621.1 936.7,625.1 937.6,629.4 938.6,633.9 939.5,638.5 940.5,643.3 941.5,648.2 942.4,653.1 943.4,658.1 944.3,663.1 945.3,668.1 946.2,673.0 947.2,677.8 948.2,682.5 949.1,687.0 950.1,691.3 951.0,695.4 952.0,699.3 952.9,702.9 953.9,706.2 954.9,709.2 955.8,711.9 956.8,714.3 957.7,716.2 958.7,717.9 959.6,719.1 960.6,719.9 961.6,720.4 962.5,720.5 963.5,720.2 964.4,719.4 965.4,718.3 966.3,716.9 967.3,715.0 968.3,712.8 969.2,710.2 970.2,707.3 971.1,704.1 972.1,700.5 973.0,696.7 974.0,692.6 975.0,688.3 975.9,683.7 976.9,678.9 977.8,673.9 978.8,668.8 979.7,663.5 980.7,658.1 981.7,652.6 982.6,647.0 983.6,641.4 984.5,635.7 985.5,630.1 986.4,624.4 987.4,618.8 988.4,613.3 989.3,607.8 990.3,602.5 991.2,597.3 992.2,592.2 993.1,587.2 994.1,582.4 995.1,577.9 996.0,573.5 997.0,569.3 997.9,565.3 998.9,561.6 999.8,558.1 1000.8,554.8 1001.8,551.8 1002.7,549.1 1003.7,546.6 1004.6,544.3 1005.6,542.4 1006.5,540.7 1007.5,539.3 1008.5,538.1 1009.4,537.2 1010.4,536.6 1011.3,536.2 1012.3,536.0 1013.2,536.2 1014.2,536.5 1015.2,537.1 1016.1,537.9 1017.1,538.9 1018.0,540.2 1019.0,541.6 1019.9,543.3 1020.9,545.1 1021.9,547.1 1022.8,549.2 1023.8,551.5 1024.7,554.0 1025.7,556.6 1026.6,559.3 1027.6,562.1 1028.6,565.0 1029.5,568.1 1030.5,571.2 1031.4,574.4 1032.4,577.6 1033.3,580.9 1034.3,584.3 1035.3,587.7 1036.2,591.1 1037.2,594.5 1038.1,598.0 1039.1,601.5 1040.0,604.9 1041.0,608.4 1042.0,611.8 1042.9,615.2 1043.9,618.6 1044.8,622.0 1045.8,625.3 1046.7,628.6 1047.7,631.9 1048.7,635.1 1049.6,638.2 1050.6,641.3 1051.5,644.3 1052.5,647.3 1053.4,650.2 1054.4,653.0 1055.4,655.8 1056.3,658.5 1057.3,661.1 1058.2,663.7 1059.2,666.2 1060.1,668.6 1061.1,670.9 1062.1,673.2 1063.0,675.4 1064.0,677.5 1064.9,679.6 1065.9,681.5 1066.8,683.4 1067.8,685.3 1068.8,687.1 1069.7,688.8 1070.7,690.4 1071.6,691.9 1072.6,693.5 1073.5,694.9 1074.5,696.3 1075.5,697.6 1076.4,698.8 1077.4,700.0 1078.3,701.2 1079.3,702.3 1080.2,703.3 1081.2,704.3 1082.2,705.3 1083.1,706.2 1084.1,707.0 1085.0,707.8 1086.0,708.6 1086.9,709.3 1087.9,710.0 1088.9,710.7 1089.8,711.3 1090.8,711.9 1091.7,712.4 1092.7,712.9 1093.6,713.4 1094.6,713.9 1095.6,714.3 1096.5,714.7 1097.5,715.1 1098.4,715.5 1099.4,715.8 1100.3,716.2 1101.3,716.5 1102.3,716.7 1103.2,717.0 1104.2,717.2 1105.1,717.5 1106.1,717.7 1107.0,717.9 1108.0,718.1 1109.0,718.3 1109.9,718.4 1110.9,718.6 1111.8,718.7 1112.8,718.9 1113.7,719.0 1114.7,719.1 1115.7,719.2 1116.6,719.3 1117.6,719.4 1118.5,719.5 1119.5,719.6 1120.4,719.6 1121.4,719.7 1122.4,719.8 1123.3,719.8 1124.3,719.9 1125.2,719.9 1126.2,720.0 1127.1,720.0 1128.1,720.1 1129.1,720.1 1130.0,720.1 1131.0,720.2 1131.9,720.2 1132.9,720.2 1133.8,720.2 1134.8,720.3 1135.8,720.3"/>
<path d="M715.6,720.5 734.7,720.4 735.7,720.4 736.6,720.4 737.6,720.4 738.6,720.3 739.5,720.3 740.5,720.2 741.4,720.1 742.4,720.0 743.3,719.9 744.3,719.8 745.3,719.6 746.2,719.4 747.2,719.2 748.1,718.9 749.1,718.6 750.0,718.2 751.0,717.7 752.0,717.2 752.9,716.6 753.9,716.0 754.8,715.2 755.8,714.4 756.7,713.4 757.7,712.4 758.7,711.2 759.6,709.9 760.6,708.5 761.5,707.0 762.5,705.3 763.4,703.4 764.4,701.5 765.4,699.3 766.3,697.0 767.3,694.6 768.2,692.0 769.2,689.2 770.1,686.3 771.1,683.3 772.1,680.1 773.0,676.7 774.0,673.3 774.9,669.7 775.9,666.0 776.8,662.2 777.8,658.3 778.8,654.4 779.7,650.4 780.7,646.4 781.6,642.4 782.6,638.4 783.5,634.5 784.5,630.6 785.5,626.8 786.4,623.1 787.4,619.5 788.3,616.2 789.3,613.0 790.2,610.0 791.2,607.2 792.2,604.8 793.1,602.6 794.1,600.7 795.0,599.1 796.0,597.9 796.9,597.1 797.9,596.6 798.9,596.5 799.8,596.8 800.8,597.5 801.7,598.6 802.7,600.1 803.6,602.0 804.6,604.3 805.6,607.0 806.5,610.0 807.5,613.4 808.4,617.1 809.4,621.2 810.3,625.5 811.3,630.0 812.3,634.8 813.2,639.8 814.2,645.0 815.1,650.2 816.1,655.5 817.0,660.9 818.0,666.3 819.0,671.6 819.9,676.8 820.9,681.9 821.8,686.9 822.8,691.6 823.7,696.1 824.7,700.3 825.7,704.1 826.6,707.7 827.6,710.8 828.5,713.6 829.5,715.9 830.4,717.7 831.4,719.1 832.4,720.0 833.3,720.5 834.3,720.4 835.2,719.9 836.2,718.8 837.1,717.3 838.1,715.3 839.1,712.9 840.0,710.1 841.0,706.8 841.9,703.2 842.9,699.3 843.8,695.0 844.8,690.5 845.8,685.8 846.7,680.9 847.7,675.8 848.6,670.7 849.6,665.5 850.5,660.3 851.5,655.2 852.5,650.2 853.4,645.3 854.4,640.6 855.3,636.1 856.3,631.9 857.2,628.0 858.2,624.4 859.2,621.2 860.1,618.4 861.1,616.1 862.0,614.2 863.0,612.7 863.9,611.8 864.9,611.3 865.9,611.3 866.8,611.8 867.8,612.8 868.7,614.3 869.7,616.2 870.6,618.6 871.6,621.3 872.5,624.5 873.5,628.1 874.5,632.0 875.4,636.2 876.4,640.7 877.3,645.3 878.3,650.2 879.2,655.2 880.2,660.3 881.2,665.5 882.1,670.6 883.1,675.7 884.0,680.7 885.0,685.6 885.9,690.3 886.9,694.8 887.9,699.0 888.8,702.9 889.8,706.5 890.7,709.8 891.7,712.6 892.6,715.1 893.6,717.1 894.6,718.6 895.5,719.7 896.5,720.3 897.4,720.5 898.4,720.2 899.3,719.3 900.3,718.1 901.3,716.3 902.2,714.1 903.2,711.5 904.1,708.5 905.1,705.1 906.0,701.4 907.0,697.3 908.0,692.9 908.9,688.3 909.9,683.5 910.8,678.5 911.8,673.3 912.7,668.1 913.7,662.8 914.7,657.5 915.6,652.2 916.6,646.9 917.5,641.8 918.5,636.8 919.4,632.1 920.4,627.5 921.4,623.2 922.3,619.1 923.3,615.4 924.2,612.0 925.2,609.0 926.1,606.4 927.1,604.1 928.1,602.3 929.0,600.9 930.0,600.0 930.9,599.5 931.9,599.4 932.8,599.8 933.8,600.6 934.8,601.8 935.7,603.5 936.7,605.5 937.6,608.0 938.6,610.8 939.5,613.9 940.5,617.4 941.5,621.2 942.4,625.2 943.4,629.5 944.3,633.9 945.3,638.6 946.2,643.3 947.2,648.2 948.2,653.2 949.1,658.2 950.1,663.2 951.0,668.1 952.0,673.0 952.9,677.9 953.9,682.5 954.9,687.0 955.8,691.4 956.8,695.5 957.7,699.4 958.7,703.0 959.6,706.3 960.6,709.3 961.6,712.0 962.5,714.3 963.5,716.3 964.4,717.9 965.4,719.1 966.3,720.0 967.3,720.4 968.3,720.5 969.2,720.1 970.2,719.4 971.1,718.3 972.1,716.8 973.0,714.9 974.0,712.7 975.0,710.1 975.9,707.2 976.9,703.9 977.8,700.4 978.8,696.5 979.7,692.4 980.7,688.0 981.7,683.4 982.6,678.6 983.6,673.6 984.5,668.4 985.5,663.1 986.4,657.7 987.4,652.2 988.4,646.6 989.3,641.0 990.3,635.4 991.2,629.7 992.2,624.1 993.1,618.5 994.1,613.0 995.1,607.5 996.0,602.2 997.0,597.0 997.9,591.9 998.9,587.0 999.8,582.2 1000.8,577.7 1001.8,573.3 1002.7,569.2 1003.7,565.2 1004.6,561.5 1005.6,558.1 1006.5,554.9 1007.5,551.9 1008.5,549.2 1009.4,546.8 1010.4,544.6 1011.3,542.7 1012.3,541.0 1013.2,539.7 1014.2,538.6 1015.2,537.7 1016.1,537.1 1017.1,536.8 1018.0,536.7 1019.0,536.9 1019.9,537.3 1020.9,537.9 1021.9,538.8 1022.8,539.9 1023.8,541.2 1024.7,542.7 1025.7,544.4 1026.6,546.2 1027.6,548.3 1028.6,550.5 1029.5,552.8 1030.5,555.3 1031.4,557.9 1032.4,560.7 1033.3,563.5 1034.3,566.5 1035.3,569.5 1036.2,572.7 1037.2,575.9 1038.1,579.1 1039.1,582.5 1040.0,585.8 1041.0,589.2 1042.0,592.6 1042.9,596.1 1043.9,599.6 1044.8,603.0 1045.8,606.5 1046.7,609.9 1047.7,613.4 1048.7,616.8 1049.6,620.2 1050.6,623.5 1051.5,626.9 1052.5,630.1 1053.4,633.4 1054.4,636.5 1055.4,639.7 1056.3,642.7 1057.3,645.7 1058.2,648.7 1059.2,651.6 1060.1,654.4 1061.1,657.1 1062.1,659.8 1063.0,662.4 1064.0,664.9 1064.9,667.4 1065.9,669.7 1066.8,672.1 1067.8,674.3 1068.8,676.5 1069.7,678.5 1070.7,680.6 1071.6,682.5 1072.6,684.4 1073.5,686.2 1074.5,687.9 1075.5,689.6 1076.4,691.2 1077.4,692.7 1078.3,694.2 1079.3,695.6 1080.2,697.0 1081.2,698.3 1082.2,699.5 1083.1,700.7 1084.1,701.8 1085.0,702.9 1086.0,703.9 1086.9,704.9 1087.9,705.8 1088.9,706.6 1089.8,707.5 1090.8,708.3 1091.7,709.0 1092.7,709.7 1093.6,710.4 1094.6,711.0 1095.6,711.6 1096.5,712.2 1097.5,712.7 1098.4,713.2 1099.4,713.7 1100.3,714.2 1101.3,714.6 1102.3,715.0 1103.2,715.4 1104.2,715.7 1105.1,716.0 1106.1,716.3 1107.0,716.6 1108.0,716.9 1109.0,717.2 1109.9,717.4 1110.9,717.6 1111.8,717.8 1112.8,718.0 1113.7,718.2 1114.7,718.4 1115.7,718.5 1116.6,718.7 1117.6,718.8 1118.5,718.9 1119.5,719.1 1120.4,719.2 1121.4,719.3 1122.4,719.4 1123.3,719.5 1124.3,719.5 1125.2,719.6 1126.2,719.7 1127.1,719.7 1128.1,719.8 1129.1,719.9 1130.0,719.9 1131.0,720.0 1131.9,720.0 1132.9,720.0 1133.8,720.1 1134.8,720.1 1135.8,720.2 1136.7,720.2 1137.7,720.2 1138.6,720.2 1139.6,720.3 1140.5,720.3"/>
<path d="M715.6,720.5 737.6,720.5 738.6,720.4 739.5,720.4 740.5,720.4 741.4,720.4 742.4,720.3 743.3,720.3 744.3,720.2 745.3,720.2 746.2,720.1 747.2,720.0 748.1,719.8 749.1,719.7 750.0,719.5 751.0,719.3 752.0,719.0 752.9,718.8 753.9,718.4 754.8,718.0 755.8,717.6 756.7,717.1 757.7,716.5 758.7,715.8 759.6,715.1 760.6,714.3 761.5,713.3 762.5,712.3 763.4,711.2 764.4,709.9 765.4,708.5 766.3,707.0 767.3,705.4 768.2,703.6 769.2,701.7 770.1,699.6 771.1,697.4 772.1,695.0 773.0,692.5 774.0,689.8 774.9,687.0 775.9,684.0 776.8,680.9 777.8,677.7 778.8,674.3 779.7,670.8 780.7,667.2 781.6,663.5 782.6,659.7 783.5,655.8 784.5,651.9 785.5,647.9 786.4,643.9 787.4,640.0 788.3,636.0 789.3,632.1 790.2,628.3 791.2,624.6 792.2,620.9 793.1,617.5 794.1,614.2 795.0,611.0 796.0,608.2 796.9,605.5 797.9,603.1 798.9,601.0 799.8,599.2 800.8,597.7 801.7,596.6 802.7,595.8 803.6,595.5 804.6,595.4 805.6,595.8 806.5,596.6 807.5,597.8 808.4,599.3 809.4,601.3 810.3,603.6 811.3,606.3 812.3,609.4 813.2,612.9 814.2,616.6 815.1,620.7 816.1,625.0 817.0,629.6 818.0,634.4 819.0,639.4 819.9,644.6 820.9,649.8 821.8,655.2 822.8,660.6 823.7,665.9 824.7,671.3 825.7,676.5 826.6,681.6 827.6,686.6 828.5,691.3 829.5,695.8 830.4,700.0 831.4,703.9 832.4,707.5 833.3,710.6 834.3,713.4 835.2,715.7 836.2,717.6 837.1,719.0 838.1,720.0 839.1,720.5 840.0,720.4 841.0,719.9 841.9,718.9 842.9,717.4 843.8,715.5 844.8,713.1 845.8,710.3 846.7,707.1 847.7,703.5 848.6,699.6 849.6,695.4 850.5,690.9 851.5,686.2 852.5,681.3 853.4,676.3 854.4,671.1 855.3,666.0 856.3,660.8 857.2,655.7 858.2,650.6 859.2,645.7 860.1,641.0 861.1,636.5 862.0,632.3 863.0,628.3 863.9,624.7 864.9,621.5 865.9,618.7 866.8,616.3 867.8,614.4 868.7,612.9 869.7,611.9 870.6,611.4 871.6,611.3 872.5,611.8 873.5,612.7 874.5,614.2 875.4,616.1 876.4,618.4 877.3,621.2 878.3,624.3 879.2,627.8 880.2,631.7 881.2,635.9 882.1,640.3 883.1,645.0 884.0,649.9 885.0,654.9 885.9,660.0 886.9,665.1 887.9,670.2 888.8,675.4 889.8,680.4 890.7,685.3 891.7,690.0 892.6,694.5 893.6,698.7 894.6,702.7 895.5,706.3 896.5,709.6 897.4,712.5 898.4,714.9 899.3,717.0 900.3,718.6 901.3,719.7 902.2,720.3 903.2,720.5 904.1,720.2 905.1,719.4 906.0,718.1 907.0,716.4 908.0,714.3 908.9,711.7 909.9,708.7 910.8,705.3 911.8,701.5 912.7,697.5 913.7,693.1 914.7,688.5 915.6,683.7 916.6,678.7 917.5,673.5 918.5,668.3 919.4,663.0 920.4,657.7 921.4,652.4 922.3,647.2 923.3,642.0 924.2,637.1 925.2,632.3 926.1,627.7 927.1,623.4 928.1,619.4 929.0,615.6 930.0,612.3 930.9,609.3 931.9,606.6 932.8,604.4 933.8,602.6 934.8,601.2 935.7,600.3 936.7,599.8 937.6,599.8 938.6,600.1 939.5,601.0 940.5,602.2 941.5,603.9 942.4,606.0 943.4,608.4 944.3,611.3 945.3,614.4 946.2,617.9 947.2,621.7 948.2,625.7 949.1,630.0 950.1,634.5 951.0,639.2 952.0,643.9 952.9,648.8 953.9,653.8 954.9,658.8 955.8,663.8 956.8,668.8 957.7,673.7 958.7,678.4 959.6,683.1 960.6,687.6 961.6,691.9 962.5,696.0 963.5,699.9 964.4,703.4 965.4,706.7 966.3,709.7 967.3,712.3 968.3,714.6 969.2,716.5 970.2,718.1 971.1,719.3 972.1,720.1 973.0,720.5 974.0,720.5 975.0,720.1 975.9,719.3 976.9,718.1 977.8,716.5 978.8,714.6 979.7,712.3 980.7,709.7 981.7,706.7 982.6,703.4 983.6,699.7 984.5,695.8 985.5,691.7 986.4,687.3 987.4,682.6 988.4,677.8 989.3,672.7 990.3,667.5 991.2,662.2 992.2,656.8 993.1,651.3 994.1,645.7 995.1,640.0 996.0,634.4 997.0,628.7 997.9,623.1 998.9,617.5 999.8,612.0 1000.8,606.6 1001.8,601.3 1002.7,596.1 1003.7,591.1 1004.6,586.2 1005.6,581.5 1006.5,577.0 1007.5,572.7 1008.5,568.6 1009.4,564.7 1010.4,561.1 1011.3,557.7 1012.3,554.6 1013.2,551.7 1014.2,549.1 1015.2,546.7 1016.1,544.6 1017.1,542.8 1018.0,541.2 1019.0,539.9 1019.9,538.9 1020.9,538.1 1021.9,537.6 1022.8,537.4 1023.8,537.4 1024.7,537.6 1025.7,538.1 1026.6,538.8 1027.6,539.8 1028.6,540.9 1029.5,542.3 1030.5,543.9 1031.4,545.6 1032.4,547.5 1033.3,549.6 1034.3,551.9 1035.3,554.3 1036.2,556.8 1037.2,559.5 1038.1,562.3 1039.1,565.2 1040.0,568.2 1041.0,571.3 1042.0,574.4 1042.9,577.6 1043.9,580.9 1044.8,584.3 1045.8,587.7 1046.7,591.1 1047.7,594.5 1048.7,598.0 1049.6,601.4 1050.6,604.9 1051.5,608.4 1052.5,611.8 1053.4,615.2 1054.4,618.6 1055.4,622.0 1056.3,625.3 1057.3,628.6 1058.2,631.9 1059.2,635.1 1060.1,638.3 1061.1,641.4 1062.1,644.4 1063.0,647.4 1064.0,650.3 1064.9,653.1 1065.9,655.9 1066.8,658.6 1067.8,661.3 1068.8,663.8 1069.7,666.3 1070.7,668.7 1071.6,671.1 1072.6,673.4 1073.5,675.6 1074.5,677.7 1075.5,679.7 1076.4,681.7 1077.4,683.6 1078.3,685.5 1079.3,687.2 1080.2,688.9 1081.2,690.6 1082.2,692.1 1083.1,693.6 1084.1,695.1 1085.0,696.5 1086.0,697.8 1086.9,699.0 1087.9,700.2 1088.9,701.4 1089.8,702.5 1090.8,703.5 1091.7,704.5 1092.7,705.4 1093.6,706.3 1094.6,707.2 1095.6,708.0 1096.5,708.8 1097.5,709.5 1098.4,710.2 1099.4,710.8 1100.3,711.4 1101.3,712.0 1102.3,712.6 1103.2,713.1 1104.2,713.6 1105.1,714.0 1106.1,714.4 1107.0,714.9 1108.0,715.2 1109.0,715.6 1109.9,715.9 1110.9,716.2 1111.8,716.5 1112.8,716.8 1113.7,717.1 1114.7,717.3 1115.7,717.6 1116.6,717.8 1117.6,718.0 1118.5,718.1 1119.5,718.3 1120.4,718.5 1121.4,718.6 1122.4,718.8 1123.3,718.9 1124.3,719.0 1125.2,719.1 1126.2,719.2 1127.1,719.3 1128.1,719.4 1129.1,719.5 1130.0,719.6 1131.0,719.7 1131.9,719.7 1132.9,719.8 1133.8,719.9 1134.8,719.9 1135.8,720.0 1136.7,720.0 1137.7,720.0 1138.6,720.1 1139.6,720.1 1140.5,720.1 1141.5,720.2 1142.5,720.2 1143.4,720.2 1144.4,720.3 1145.3,720.3 1146.3,720.3"/>
</g>
<path d="M710.8,720.5 712.7,720.5 713.7,720.4 714.6,720.3 715.6,720.2 716.5,719.9 717.5,719.5 718.5,718.9 719.4,718.2 720.4,717.3 721.3,716.2 722.3,714.9 723.2,713.4 724.2,711.6 725.2,709.5 726.1,707.2 727.1,704.7 728.0,701.9 729.0,698.8 729.9,695.5 730.9,692.0 731.9,688.2 732.8,684.3 733.8,680.2 734.7,675.9 735.7,671.5 736.6,667.0 737.6,662.4 738.6,657.8 739.5,653.2 740.5,648.7 741.4,644.2 742.4,639.8 743.3,635.6 744.3,631.6 745.3,627.8 746.2,624.3 747.2,621.0 748.1,618.1 749.1,615.6 750.0,613.4 751.0,611.6 752.0,610.2 752.9,609.3 753.9,608.8 754.8,608.8 755.8,609.2 756.7,610.1 757.7,611.5 758.7,613.3 759.6,615.6 760.6,618.2 761.5,621.3 762.5,624.8 763.4,628.6 764.4,632.7 765.4,637.1 766.3,641.7 767.3,646.6 768.2,651.6 769.2,656.7 770.1,662.0 771.1,667.2 772.1,672.4 773.0,677.6 774.0,682.6 774.9,687.5 775.9,692.2 776.8,696.7 777.8,700.8 778.8,704.7 779.7,708.2 780.7,711.3 781.6,714.0 782.6,716.2 783.5,718.0 784.5,719.3 785.5,720.2 786.4,720.5 787.4,720.3 788.3,719.7 789.3,718.5 790.2,716.9 791.2,714.8 792.2,712.2 793.1,709.2 794.1,705.9 795.0,702.1 796.0,698.1 796.9,693.7 797.9,689.1 798.9,684.3 799.8,679.3 800.8,674.1 801.7,668.9 802.7,663.7 803.6,658.5 804.6,653.3 805.6,648.3 806.5,643.4 807.5,638.7 808.4,634.2 809.4,630.0 810.3,626.2 811.3,622.7 812.3,619.5 813.2,616.8 814.2,614.5 815.1,612.6 816.1,611.2 817.0,610.3 818.0,609.9 819.0,610.0 819.9,610.5 820.9,611.6 821.8,613.1 822.8,615.0 823.7,617.4 824.7,620.2 825.7,623.4 826.6,627.0 827.6,630.8 828.5,635.0 829.5,639.5 830.4,644.1 831.4,649.0 832.4,653.9 833.3,659.0 834.3,664.1 835.2,669.3 836.2,674.3 837.1,679.3 838.1,684.2 839.1,688.9 840.0,693.4 841.0,697.7 841.9,701.7 842.9,705.4 843.8,708.7 844.8,711.7 845.8,714.2 846.7,716.4 847.7,718.1 848.6,719.3 849.6,720.1 850.5,720.5 851.5,720.4 852.5,719.8 853.4,718.7 854.4,717.2 855.3,715.3 856.3,712.9 857.2,710.1 858.2,706.9 859.2,703.4 860.1,699.5 861.1,695.4 862.0,690.9 863.0,686.3 863.9,681.4 864.9,676.3 865.9,671.2 866.8,665.9 867.8,660.6 868.7,655.2 869.7,649.9 870.6,644.7 871.6,639.6 872.5,634.6 873.5,629.8 874.5,625.2 875.4,620.8 876.4,616.7 877.3,612.9 878.3,609.4 879.2,606.3 880.2,603.5 881.2,601.2 882.1,599.2 883.1,597.6 884.0,596.5 885.0,595.8 885.9,595.5 886.9,595.6 887.9,596.2 888.8,597.2 889.8,598.6 890.7,600.4 891.7,602.6 892.6,605.1 893.6,608.0 894.6,611.2 895.5,614.7 896.5,618.6 897.4,622.6 898.4,626.9 899.3,631.4 900.3,636.0 901.3,640.8 902.2,645.7 903.2,650.6 904.1,655.6 905.1,660.6 906.0,665.6 907.0,670.5 908.0,675.3 908.9,680.0 909.9,684.6 910.8,689.0 911.8,693.2 912.7,697.1 913.7,700.8 914.7,704.3 915.6,707.4 916.6,710.3 917.5,712.8 918.5,715.0 919.4,716.8 920.4,718.3 921.4,719.4 922.3,720.1 923.3,720.5 924.2,720.4 925.2,720.0 926.1,719.2 927.1,718.1 928.1,716.5 929.0,714.6 930.0,712.4 930.9,709.8 931.9,706.9 932.8,703.6 933.8,700.1 934.8,696.3 935.7,692.2 936.7,687.9 937.6,683.4 938.6,678.6 939.5,673.7 940.5,668.6 941.5,663.3 942.4,657.9 943.4,652.5 944.3,646.9 945.3,641.3 946.2,635.7 947.2,630.0 948.2,624.4 949.1,618.7 950.1,613.2 951.0,607.7 952.0,602.3 952.9,596.9 953.9,591.8 954.9,586.7 955.8,581.8 956.8,577.1 957.7,572.5 958.7,568.2 959.6,564.0 960.6,560.1 961.6,556.4 962.5,552.9 963.5,549.6 964.4,546.6 965.4,543.9 966.3,541.4 967.3,539.1 968.3,537.1 969.2,535.4 970.2,533.9 971.1,532.7 972.1,531.8 973.0,531.1 974.0,530.6 975.0,530.4 975.9,530.4 976.9,530.7 977.8,531.2 978.8,531.9 979.7,532.8 980.7,534.0 981.7,535.3 982.6,536.8 983.6,538.6 984.5,540.4 985.5,542.5 986.4,544.7 987.4,547.1 988.4,549.6 989.3,552.2 990.3,554.9 991.2,557.8 992.2,560.7 993.1,563.8 994.1,566.9 995.1,570.1 996.0,573.3 997.0,576.6 997.9,580.0 998.9,583.4 999.8,586.8 1000.8,590.2 1001.8,593.7 1002.7,597.2 1003.7,600.6 1004.6,604.1 1005.6,607.6 1006.5,611.0 1007.5,614.4 1008.5,617.8 1009.4,621.1 1010.4,624.4 1011.3,627.7 1012.3,630.9 1013.2,634.1 1014.2,637.2 1015.2,640.3 1016.1,643.3 1017.1,646.2 1018.0,649.1 1019.0,651.9 1019.9,654.7 1020.9,657.4 1021.9,660.0 1022.8,662.5 1023.8,665.0 1024.7,667.4 1025.7,669.7 1026.6,672.0 1027.6,674.2 1028.6,676.3 1029.5,678.4 1030.5,680.3 1031.4,682.3 1032.4,684.1 1033.3,685.9 1034.3,687.6 1035.3,689.2 1036.2,690.8 1037.2,692.3 1038.1,693.8 1039.1,695.2 1040.0,696.5 1041.0,697.8 1042.0,699.0 1042.9,700.2 1043.9,701.3 1044.8,702.4 1045.8,703.4 1046.7,704.4 1047.7,705.3 1048.7,706.2 1049.6,707.0 1050.6,707.8 1051.5,708.5 1052.5,709.2 1053.4,709.9 1054.4,710.6 1055.4,711.2 1056.3,711.8 1057.3,712.3 1058.2,712.8 1059.2,713.3 1060.1,713.8 1061.1,714.2 1062.1,714.6 1063.0,715.0 1064.0,715.4 1064.9,715.7 1065.9,716.0 1066.8,716.3 1067.8,716.6 1068.8,716.9 1069.7,717.1 1070.7,717.4 1071.6,717.6 1072.6,717.8 1073.5,718.0 1074.5,718.1 1075.5,718.3 1076.4,718.5 1077.4,718.6 1078.3,718.8 1079.3,718.9 1080.2,719.0 1081.2,719.1 1082.2,719.2 1083.1,719.3 1084.1,719.4 1085.0,719.5 1086.0,719.6 1086.9,719.6 1087.9,719.7 1088.9,719.8 1089.8,719.8 1090.8,719.9 1091.7,719.9 1092.7,720.0 1093.6,720.0 1094.6,720.1 1095.6,720.1 1096.5,720.1 1097.5,720.2 1098.4,720.2 1099.4,720.2 1100.3,720.2 1101.3,720.3 1102.3,720.3 1103.2,720.3 1104.2,720.3 1105.1,720.3 1106.1,720.3 1107.0,720.4 1108.0,720.4 1109.0,720.4 1109.9,720.4 1110.9,720.4 1111.8,720.4 1112.8,720.4 1113.7,720.4 1114.7,720.4 1115.7,720.4 1116.6,720.4 1117.6,720.4 1118.5,720.5 1189.3,720.5" fill="none" stroke="#000" stroke-width="1.65" stroke-linejoin="round"/>
<path d="M700.50,722.4H1199.30" stroke="#b0b0b0" stroke-width="1.25" fill="none"/>
<rect x="700.50" y="414.80" width="498.80" height="308.60" fill="none" stroke="#000" stroke-width="0.85"/>
<path d="M710.45,723.40v-6M806.17,723.40v-6M901.89,723.40v-6M997.61,723.40v-6M1093.33,723.40v-6M1189.05,723.40v-6M700.50,720.50h5.7M700.50,669.56h5.7M700.50,618.62h5.7M700.50,567.68h5.7M700.50,516.74h5.7M700.50,465.80h5.7M700.50,414.86h5.7" fill="none" stroke="#000" stroke-width="0.9"/>
<text x="645.90" y="726.40" font-size="24" textLength="49.3" lengthAdjust="spacingAndGlyphs">0.000</text>
<text x="645.90" y="675.46" font-size="24" textLength="49.3" lengthAdjust="spacingAndGlyphs">0.020</text>
<text x="645.90" y="624.52" font-size="24" textLength="49.3" lengthAdjust="spacingAndGlyphs">0.040</text>
<text x="645.90" y="573.58" font-size="24" textLength="49.3" lengthAdjust="spacingAndGlyphs">0.060</text>
<text x="645.90" y="522.64" font-size="24" textLength="49.3" lengthAdjust="spacingAndGlyphs">0.080</text>
<text x="645.90" y="471.70" font-size="24" textLength="49.3" lengthAdjust="spacingAndGlyphs">0.100</text>
<text x="645.90" y="420.76" font-size="24" textLength="49.3" lengthAdjust="spacingAndGlyphs">0.120</text>
<text x="704.95" y="747.40" font-size="24" textLength="11.0" lengthAdjust="spacingAndGlyphs">0</text>
<text x="795.17" y="747.40" font-size="24" textLength="22.0" lengthAdjust="spacingAndGlyphs">10</text>
<text x="890.89" y="747.40" font-size="24" textLength="22.0" lengthAdjust="spacingAndGlyphs">20</text>
<text x="986.61" y="747.40" font-size="24" textLength="22.0" lengthAdjust="spacingAndGlyphs">30</text>
<text x="1082.33" y="747.40" font-size="24" textLength="22.0" lengthAdjust="spacingAndGlyphs">40</text>
<text x="1178.05" y="747.40" font-size="24" textLength="22.0" lengthAdjust="spacingAndGlyphs">50</text>
<g font-size="22"><text x="1016.5" y="451.2" font-size="25.6" textLength="7.3" lengthAdjust="spacingAndGlyphs">(</text><text class="i" x="1023.7" y="451.2" font-size="23.5">d</text><text x="1037.3" y="451.2" font-size="25.6" textLength="7.3" lengthAdjust="spacingAndGlyphs">)</text><text class="i" x="1052.5" y="451.2" font-size="23.5">n</text><text x="1094.5" y="451.2">3,</text><text class="i" x="1123.3" y="451.2" font-size="23.5" textLength="18.0" lengthAdjust="spacingAndGlyphs">m</text><text x="1171.5" y="451.2">0</text><path d="M1072.1,442.4h15.6m-15.6,4.9h15.6M1149.1,442.4h15.6m-15.6,4.9h15.6" stroke="#000" stroke-width="1.05" fill="none"/></g>
<g font-size="25"><text class="i" x="912.9" y="787.5" font-size="26">r</text><text x="933.7" y="788.6" font-size="29.5" textLength="8.3" lengthAdjust="spacingAndGlyphs">(</text><text x="942.9" y="787.5" textLength="33.4" lengthAdjust="spacingAndGlyphs">nm</text><text x="976.7" y="788.6" font-size="29.5" textLength="8.3" lengthAdjust="spacingAndGlyphs">)</text></g>
</g>
</svg>
</body></html>
